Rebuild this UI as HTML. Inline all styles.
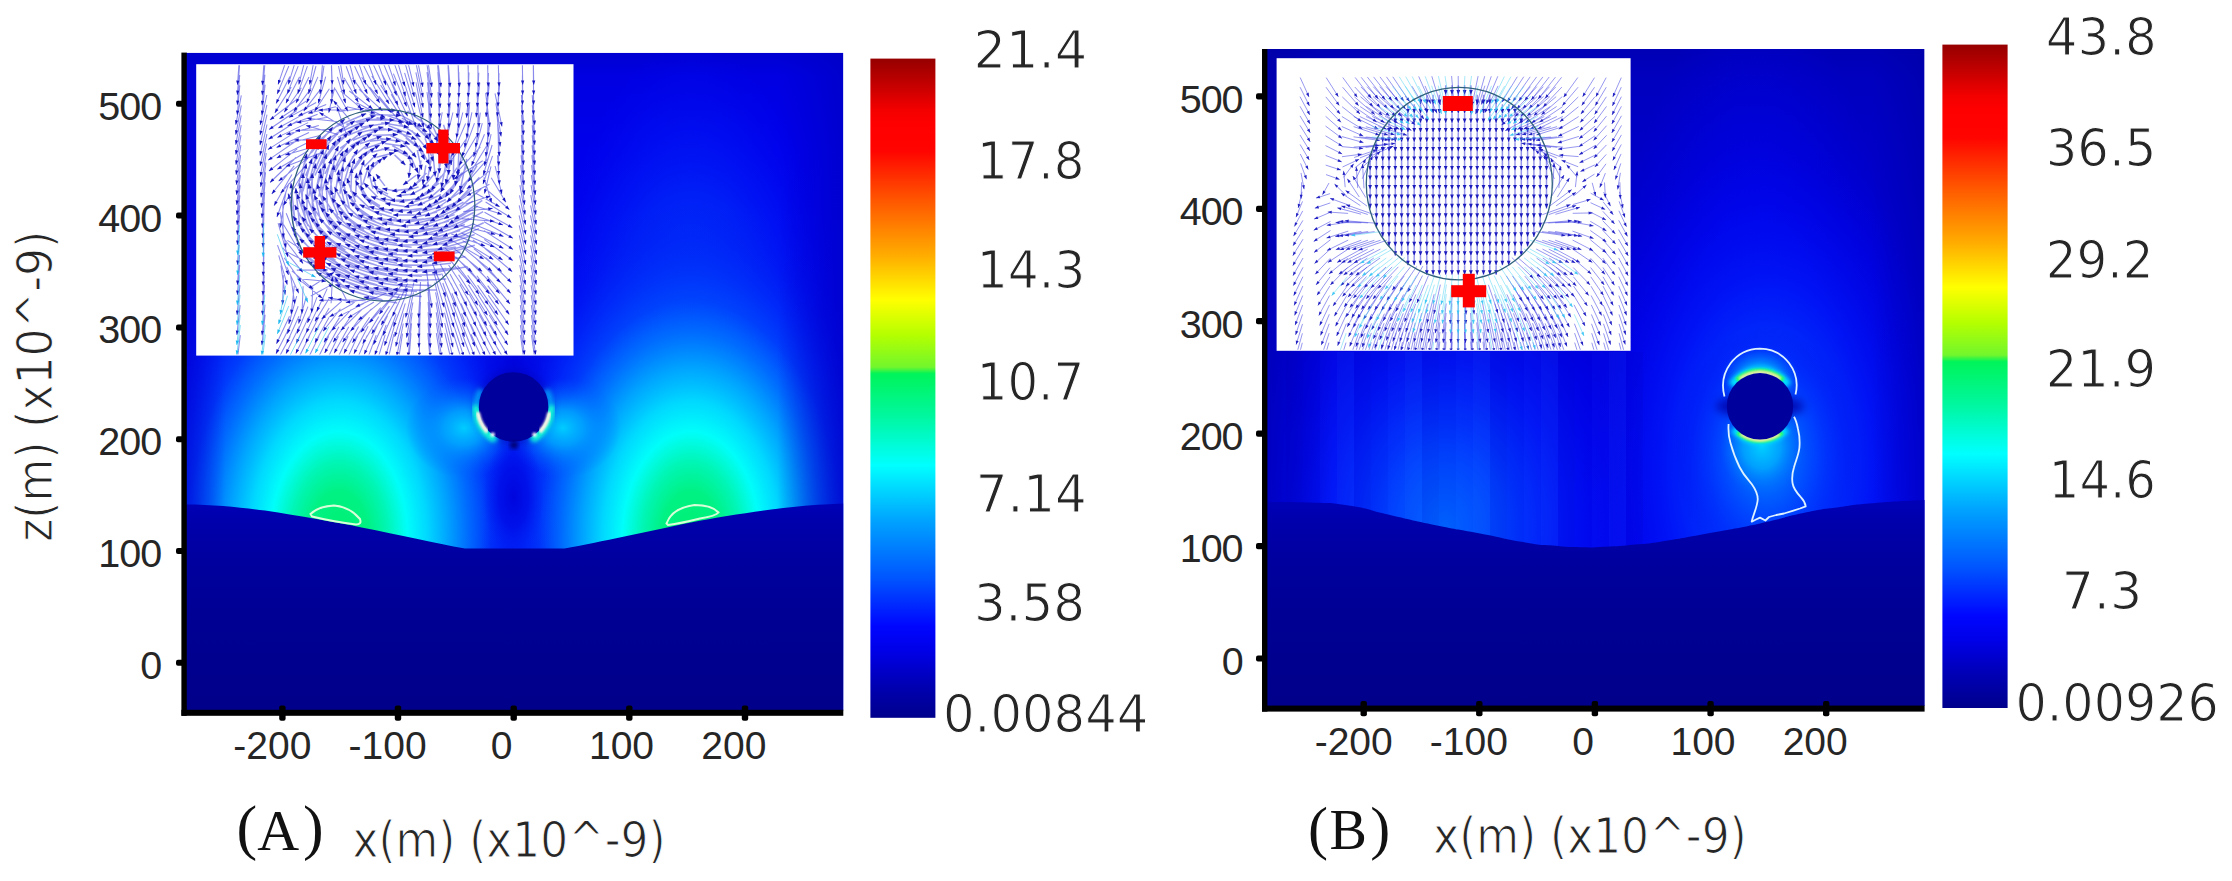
<!DOCTYPE html>
<html lang="en"><head><meta charset="utf-8"><title>Field maps (A) and (B)</title>
<style>
html,body{margin:0;padding:0;background:#ffffff;}
body{width:2232px;height:881px;overflow:hidden;}
svg{display:block;}
</style></head><body>
<svg width="2232" height="881" viewBox="0 0 2232 881"><defs><linearGradient id="jet" x1="0" y1="0" x2="0" y2="1"><stop offset="0.000" stop-color="#960000"/><stop offset="0.030" stop-color="#b80000"/><stop offset="0.078" stop-color="#f40000"/><stop offset="0.100" stop-color="#ff0000"/><stop offset="0.140" stop-color="#ff0400"/><stop offset="0.215" stop-color="#ff5600"/><stop offset="0.300" stop-color="#ffae00"/><stop offset="0.366" stop-color="#ffff00"/><stop offset="0.420" stop-color="#b4ff00"/><stop offset="0.468" stop-color="#72f62c"/><stop offset="0.478" stop-color="#00f45a"/><stop offset="0.540" stop-color="#00f79c"/><stop offset="0.617" stop-color="#00ffff"/><stop offset="0.700" stop-color="#00a4ff"/><stop offset="0.789" stop-color="#0054ff"/><stop offset="0.861" stop-color="#0006ff"/><stop offset="0.900" stop-color="#0000e6"/><stop offset="0.950" stop-color="#0000b4"/><stop offset="1.000" stop-color="#00008c"/></linearGradient><linearGradient id="sub" gradientUnits="userSpaceOnUse" x1="0" y1="500" x2="0" y2="712"><stop offset="0" stop-color="#0000b8"/><stop offset="0.10" stop-color="#0000ac"/><stop offset="0.30" stop-color="#00009e"/><stop offset="0.60" stop-color="#000092"/><stop offset="1" stop-color="#00008a"/></linearGradient><clipPath id="clipL"><rect x="186.0" y="52.8" width="657.3" height="657.7"/></clipPath><linearGradient id="baseL" x1="0" y1="0" x2="0" y2="1"><stop offset="0" stop-color="#0000d2"/><stop offset="0.035" stop-color="#0000e2"/><stop offset="0.15" stop-color="#0000ec"/><stop offset="0.55" stop-color="#0006f2"/><stop offset="0.70" stop-color="#0010f4"/><stop offset="1" stop-color="#0010f4"/></linearGradient><radialGradient id="tallp" cx="0.5" cy="0.5" r="0.5"><stop offset="0" stop-color="#0070ff" stop-opacity="1"/><stop offset="0.45" stop-color="#0050ff" stop-opacity="0.9"/><stop offset="0.70" stop-color="#0030fc" stop-opacity="0.6"/><stop offset="0.88" stop-color="#0018f6" stop-opacity="0.28"/><stop offset="1" stop-color="#0008f0" stop-opacity="0"/></radialGradient><linearGradient id="edgeL" x1="0" y1="0" x2="1" y2="0"><stop offset="0" stop-color="#0000c8" stop-opacity="0.5"/><stop offset="0.06" stop-color="#0000c8" stop-opacity="0"/><stop offset="0.90" stop-color="#0000c8" stop-opacity="0"/><stop offset="1" stop-color="#0000c4" stop-opacity="0.7"/></linearGradient><radialGradient id="plume" cx="0.5" cy="0.5" r="0.5"><stop offset="0" stop-color="#00c0ff" stop-opacity="1"/><stop offset="0.30" stop-color="#00a8ff" stop-opacity="1"/><stop offset="0.48" stop-color="#0084ff" stop-opacity="1"/><stop offset="0.62" stop-color="#0058ff" stop-opacity="0.9"/><stop offset="0.78" stop-color="#0030fa" stop-opacity="0.6"/><stop offset="0.90" stop-color="#0018f2" stop-opacity="0.25"/><stop offset="1" stop-color="#0010ec" stop-opacity="0"/></radialGradient><radialGradient id="lobe" cx="0.5" cy="0.5" r="0.5"><stop offset="0" stop-color="#00f070"/><stop offset="0.20" stop-color="#00f284"/><stop offset="0.32" stop-color="#00f6b4"/><stop offset="0.45" stop-color="#00fefa"/><stop offset="0.58" stop-color="#00dcff" stop-opacity="0.95"/><stop offset="0.72" stop-color="#00b4ff" stop-opacity="0.7"/><stop offset="0.86" stop-color="#0090ff" stop-opacity="0.33"/><stop offset="1" stop-color="#0080ff" stop-opacity="0"/></radialGradient><radialGradient id="sideh" cx="0.5" cy="0.5" r="0.5"><stop offset="0" stop-color="#00ccff" stop-opacity="1"/><stop offset="0.35" stop-color="#00a8ff" stop-opacity="0.85"/><stop offset="0.7" stop-color="#0080ff" stop-opacity="0.4"/><stop offset="1" stop-color="#0060ff" stop-opacity="0"/></radialGradient><radialGradient id="darkc" cx="0.5" cy="0.5" r="0.5"><stop offset="0" stop-color="#0004dc" stop-opacity="0.95"/><stop offset="0.5" stop-color="#000ce6" stop-opacity="0.75"/><stop offset="1" stop-color="#0020f0" stop-opacity="0"/></radialGradient><filter id="b2" x="-20%" y="-20%" width="140%" height="140%"><feGaussianBlur stdDeviation="2"/></filter><filter id="b1" x="-20%" y="-20%" width="140%" height="140%"><feGaussianBlur stdDeviation="1"/></filter><filter id="b06" x="-20%" y="-20%" width="140%" height="140%"><feGaussianBlur stdDeviation="0.6"/></filter><filter id="b4" x="-30%" y="-30%" width="160%" height="160%"><feGaussianBlur stdDeviation="4"/></filter><filter id="b8" x="-30%" y="-30%" width="160%" height="160%"><feGaussianBlur stdDeviation="8"/></filter><clipPath id="clipR"><rect x="1267.0" y="49.0" width="657.5" height="657.0"/></clipPath><linearGradient id="baseR" x1="0" y1="0" x2="0" y2="1"><stop offset="0" stop-color="#0000b6"/><stop offset="0.05" stop-color="#0000c0"/><stop offset="0.22" stop-color="#0000cc"/><stop offset="0.42" stop-color="#0000dc"/><stop offset="0.58" stop-color="#0000e8"/><stop offset="0.70" stop-color="#0000ee"/><stop offset="1" stop-color="#0000ee"/></linearGradient><radialGradient id="tallR" cx="0.5" cy="0.5" r="0.5"><stop offset="0" stop-color="#0008fa" stop-opacity="0.95"/><stop offset="0.5" stop-color="#0004f2" stop-opacity="0.7"/><stop offset="1" stop-color="#0000e6" stop-opacity="0"/></radialGradient><radialGradient id="plumeR" cx="0.5" cy="0.5" r="0.5"><stop offset="0" stop-color="#0064ff" stop-opacity="1"/><stop offset="0.25" stop-color="#0044ff" stop-opacity="0.95"/><stop offset="0.55" stop-color="#001cfa" stop-opacity="0.7"/><stop offset="0.80" stop-color="#0008ee" stop-opacity="0.35"/><stop offset="1" stop-color="#0000e0" stop-opacity="0"/></radialGradient><radialGradient id="haloR" cx="0.5" cy="0.5" r="0.5"><stop offset="0" stop-color="#0088ff" stop-opacity="0.95"/><stop offset="0.30" stop-color="#0068ff" stop-opacity="0.85"/><stop offset="0.55" stop-color="#0040ff" stop-opacity="0.62"/><stop offset="0.80" stop-color="#0018f8" stop-opacity="0.3"/><stop offset="1" stop-color="#0000e8" stop-opacity="0"/></radialGradient><linearGradient id="edgeR" x1="0" y1="0" x2="1" y2="0"><stop offset="0" stop-color="#0000a0" stop-opacity="0.55"/><stop offset="0.10" stop-color="#0000a0" stop-opacity="0"/><stop offset="0.92" stop-color="#0000a0" stop-opacity="0"/><stop offset="1" stop-color="#0000a0" stop-opacity="0.45"/></linearGradient><linearGradient id="strk" x1="0" y1="0" x2="0" y2="1"><stop offset="0" stop-color="#fff" stop-opacity="0"/><stop offset="0.55" stop-color="#fff" stop-opacity="1"/><stop offset="1" stop-color="#fff" stop-opacity="1"/></linearGradient><radialGradient id="glowR" cx="0.5" cy="0.5" r="0.5"><stop offset="0" stop-color="#00d0ff" stop-opacity="1"/><stop offset="0.45" stop-color="#00a8ff" stop-opacity="0.85"/><stop offset="0.8" stop-color="#0078ff" stop-opacity="0.35"/><stop offset="1" stop-color="#0060ff" stop-opacity="0"/></radialGradient></defs><g clip-path="url(#clipL)">
<rect x="186.0" y="52.8" width="657.3" height="657.7" fill="url(#baseL)"/>
<ellipse cx="339" cy="540" rx="175" ry="500" fill="url(#tallp)"/>
<ellipse cx="691" cy="540" rx="175" ry="500" fill="url(#tallp)"/>
<ellipse cx="339" cy="528" rx="212" ry="325" fill="url(#plume)"/>
<ellipse cx="691" cy="528" rx="212" ry="325" fill="url(#plume)"/>
<ellipse cx="339" cy="538" rx="152" ry="236" fill="url(#lobe)"/>
<ellipse cx="691" cy="538" rx="152" ry="236" fill="url(#lobe)"/>
<ellipse cx="464" cy="428" rx="58" ry="50" fill="url(#sideh)"/>
<ellipse cx="563" cy="428" rx="58" ry="50" fill="url(#sideh)"/>
<ellipse cx="513.5" cy="497" rx="30" ry="60" fill="url(#darkc)"/>
<ellipse cx="513.5" cy="362" rx="50" ry="48" fill="url(#darkc)"/>
<rect x="186.0" y="52.8" width="657.3" height="657.7" fill="url(#edgeL)"/>
<path d="M186,504.5 C215,504.5 245,508 265,510.5 C300,516 335,522 361.6,527.4 C400,535 435,543 465,548.6 L564.5,548.6 C600,542 650,531 691,522.5 C735,514 790,506 823.8,504.6 L843.5,503.5 L843.5,712 L186,712 Z" fill="url(#sub)"/>
<circle cx="513.6" cy="407" r="38" fill="#0000b0" opacity="0.5" filter="url(#b4)"/>
<path d="M480.9,389.6 A37,37 0 0 0 497.4,440.3" stroke="#00b8ff" stroke-width="6" fill="none" opacity="0.75" filter="url(#b2)"/>
<path d="M476.1,405.7 A37.5,37.5 0 0 0 494.9,439.5" stroke="#18ffd0" stroke-width="7" fill="none" opacity="0.95" filter="url(#b2)"/>
<path d="M546.3,389.6 A37,37 0 0 1 529.8,440.3" stroke="#00b8ff" stroke-width="6" fill="none" opacity="0.75" filter="url(#b2)"/>
<path d="M551.1,405.7 A37.5,37.5 0 0 1 532.4,439.5" stroke="#18ffd0" stroke-width="7" fill="none" opacity="0.95" filter="url(#b2)"/>
<circle cx="513.6" cy="407" r="34.0" fill="#00009c"/>
<circle cx="513.6" cy="407" r="34.0" fill="none" stroke="#00009c" stroke-width="1.6" filter="url(#b06)"/>
<path d="M478.1,413.9 A36.2,36.2 0 0 0 486.3,430.7" stroke="#fff0e4" stroke-width="4.2" fill="none" stroke-linecap="round" filter="url(#b1)"/>
<circle cx="492.7" cy="434.6" r="2.2" fill="#ffffff" filter="url(#b1)"/>
<path d="M549.1,413.9 A36.2,36.2 0 0 1 540.9,430.7" stroke="#fff0e4" stroke-width="4.2" fill="none" stroke-linecap="round" filter="url(#b1)"/>
<circle cx="534.5" cy="434.6" r="2.2" fill="#ffffff" filter="url(#b1)"/>
<circle cx="514" cy="445" r="4" fill="#000070" filter="url(#b2)"/>
<g filter="url(#b06)" fill="none" stroke="#d8ffd8" stroke-width="2">
<path d="M310.5,514 Q318,506.5 334,505.5 Q350,507 360,519 Q362,524.5 356,524.5 Q335,522 312,516.5 Z"/>
<path d="M666.5,523.5 Q672,508 694.5,505 Q712,505 718.5,512.5 Q716,516 700,518.5 Q680,523.5 668,525 Z"/>
</g>
</g>
<g clip-path="url(#clipR)">
<rect x="1267.0" y="49.0" width="657.5" height="657.0" fill="url(#baseR)"/>
<ellipse cx="1755" cy="430" rx="150" ry="440" fill="url(#tallR)"/>
<ellipse cx="1445" cy="528" rx="215" ry="300" fill="url(#plumeR)"/>
<ellipse cx="1768" cy="470" rx="190" ry="340" fill="url(#plumeR)"/>
<ellipse cx="1766" cy="452" rx="92" ry="125" fill="url(#haloR)"/>
<rect x="1267.0" y="49.0" width="657.5" height="657.0" fill="url(#edgeR)"/>
<rect x="1286" y="352" width="17" height="200" fill="#000090" opacity="0.068"/>
<rect x="1303" y="352" width="17" height="200" fill="#000090" opacity="0.022"/>
<rect x="1320" y="352" width="17" height="200" fill="#40a0ff" opacity="0.022"/>
<rect x="1337" y="352" width="17" height="200" fill="#40a0ff" opacity="0.068"/>
<rect x="1354" y="352" width="17" height="200" fill="#000090" opacity="0.068"/>
<rect x="1371" y="352" width="17" height="200" fill="#000090" opacity="0.022"/>
<rect x="1388" y="352" width="17" height="200" fill="#40a0ff" opacity="0.022"/>
<rect x="1405" y="352" width="17" height="200" fill="#40a0ff" opacity="0.068"/>
<rect x="1422" y="352" width="17" height="200" fill="#000090" opacity="0.068"/>
<rect x="1439" y="352" width="17" height="200" fill="#000090" opacity="0.022"/>
<rect x="1456" y="352" width="17" height="200" fill="#40a0ff" opacity="0.022"/>
<rect x="1473" y="352" width="17" height="200" fill="#40a0ff" opacity="0.068"/>
<rect x="1490" y="352" width="17" height="200" fill="#000090" opacity="0.068"/>
<rect x="1507" y="352" width="17" height="200" fill="#000090" opacity="0.022"/>
<rect x="1524" y="352" width="17" height="200" fill="#40a0ff" opacity="0.022"/>
<rect x="1541" y="352" width="17" height="200" fill="#40a0ff" opacity="0.068"/>
<rect x="1558" y="352" width="17" height="200" fill="#000090" opacity="0.068"/>
<rect x="1575" y="352" width="17" height="200" fill="#000090" opacity="0.022"/>
<rect x="1592" y="352" width="17" height="200" fill="#40a0ff" opacity="0.022"/>
<rect x="1609" y="352" width="17" height="200" fill="#40a0ff" opacity="0.068"/>
<rect x="1626" y="352" width="17" height="200" fill="#000090" opacity="0.068"/>
<path d="M1267.0,502.0 C1281.3,502.2 1282.8,501.4 1310.0,502.6 C1337.2,503.8 1321.2,501.2 1348.5,505.5 C1375.8,509.8 1362.5,508.8 1392.0,515.5 C1421.5,522.2 1407.7,519.5 1437.0,525.5 C1466.3,531.5 1450.5,527.8 1480.0,533.5 C1509.5,539.2 1501.4,538.5 1525.6,542.5 C1549.8,546.5 1534.5,544.0 1552.6,545.6 C1570.7,547.2 1560.9,546.9 1580.0,547.2 C1599.1,547.5 1591.7,547.5 1610.0,546.6 C1628.3,545.7 1617.8,546.3 1635.0,544.6 C1652.2,542.9 1636.6,545.4 1661.6,541.5 C1686.6,537.6 1677.2,539.0 1710.0,533.0 C1742.8,527.0 1728.2,530.3 1760.0,523.5 C1791.8,516.7 1778.7,518.1 1805.4,512.6 C1832.1,507.1 1818.8,510.0 1840.0,507.0 C1861.2,504.0 1849.0,505.5 1869.0,503.6 C1889.0,501.7 1881.3,502.5 1900.0,501.3 C1918.7,500.1 1916.7,500.4 1925.0,500.0 L1925,708 L1267,708 Z" fill="url(#sub)"/>
<ellipse cx="1760" cy="380" rx="40" ry="34" fill="url(#glowR)"/>
<ellipse cx="1762" cy="446" rx="42" ry="50" fill="url(#glowR)"/>
<ellipse cx="1760" cy="406.3" rx="44" ry="12" fill="#0000a8" opacity="0.8" filter="url(#b4)"/>
<g filter="url(#b2)">
<path d="M1733,386 A34,34 0 0 1 1787,386" stroke="#00e0ff" stroke-width="11" fill="none"/>
<path d="M1735,428 A34,34 0 0 0 1785,428" stroke="#00e0ff" stroke-width="11" fill="none"/>
</g>
<g filter="url(#b1)">
<path d="M1737,380.5 A34,34 0 0 1 1783,380.5" stroke="#30ff60" stroke-width="6" fill="none"/>
<path d="M1738,432 A34,34 0 0 0 1782,432" stroke="#30ff60" stroke-width="6" fill="none"/>
<path d="M1740,379 A33.6,33.6 0 0 1 1780,379" stroke="#ffe8b0" stroke-width="2.6" fill="none"/>
<path d="M1741,434 A33.6,33.6 0 0 0 1779,434" stroke="#ffe8b0" stroke-width="2.6" fill="none"/>
</g>
<circle cx="1760" cy="406.3" r="33.2" fill="#00009c"/>
<g filter="url(#b06)" fill="none" stroke="#dff2ff" stroke-width="1.8" stroke-linejoin="round">
<path d="M1724.5,396.5 C1718,372 1735,349 1760,348.6 C1785,349 1801,372 1795.5,394.5"/>
<path d="M1728.6,424 C1728,432 1729,438 1730.5,443 C1733,452 1736,460 1739.5,467 C1744,476 1748.5,480 1751.7,484 C1756,490 1758,495 1757.7,500 C1757,508 1753,515 1751.7,521.7 L1756,519.5 L1760,517.6 L1765.4,520.5 L1769,517 L1776.3,515 L1784,513.5 L1792.6,510.8 L1800,508.5 L1805.7,506.4 C1805,502 1803,499.5 1800.8,497.2 C1797,493 1793.5,489 1792.6,483.5 C1791.5,477 1792.5,472 1794,467.2 C1796,460 1798.5,455 1799.4,448 C1800,441 1799.5,435 1798,429 C1797,424 1796,420 1794,416.8"/>
</g>
</g>
<rect x="196.2" y="64.2" width="377.3" height="291.4" fill="#ffffff"/>
<rect x="1276.6" y="58.2" width="354.0" height="292.6" fill="#ffffff"/>
<clipPath id="cinL"><rect x="196.2" y="65.2" width="377.3" height="289.40000000000003"/></clipPath>
<g clip-path="url(#cinL)">
<path d="M294.5 216.9l-3.6 -33.8M299.3 221.9l-3.6 -33.8M297.2 226.4l-9 -32.8M298.1 186.4l8.9 -32.8M302.9 191.4l8.9 -32.8M298.6 196.6l7.7 -33.1M301.9 207l1.1 -34M306.7 212l1.1 -34M305.2 216.8l-5.3 -33.6M308 226.1l-11 -32.2M312.8 231.1l-11 -32.2M310.3 235.1l-15.6 -30.2M312.1 244.1l-19.1 -28.1M316.9 249.1l-19.1 -28.1M313.4 253l-21.9 -26M303.6 164.7l17.2 -29.3M305.6 175.6l13.3 -31.3M310.4 180.6l13.3 -31.3M307.8 186.4l9 -32.8M308.7 196.6l7.1 -33.3M313.5 201.6l7.1 -33.3M312.4 207l-0.3 -34M315.9 216.6l-7.3 -33.2M320.7 221.6l-7.3 -33.2M318.9 225.7l-13.2 -31.3M321.1 234.5l-17.8 -29M325.9 239.5l-17.8 -29M322.8 243.3l-21.2 -26.6M324.1 252.2l-23.7 -24.4M328.9 257.2l-23.7 -24.4M325 261.2l-25.5 -22.5M325.7 270.4l-26.9 -20.8M330.5 275.4l-26.9 -20.8M311.1 153l21.8 -26.1M312.9 164.3l18.3 -28.7M317.7 169.3l18.3 -28.7M315 175.5l14 -31M317.4 186.4l9.1 -32.8M322.2 191.4l9.1 -32.8M318.9 196.7l6.3 -33.4M323.1 207l-2.2 -33.9M327.9 212l-2.2 -33.9M326.9 216.3l-9.8 -32.6M329.9 225.1l-15.8 -30.1M334.7 230.1l-15.8 -30.1M332.1 233.7l-20.1 -27.4M333.6 242.4l-23.2 -24.8M338.4 247.4l-23.2 -24.8M334.7 251.3l-25.4 -22.6M335.5 260.3l-27 -20.7M340.3 265.3l-27 -20.7M336.1 269.5l-28.2 -19.1M336.5 278.8l-29 -17.7M341.3 283.8l-29 -17.7M318.7 140.9l26.2 -21.7M320.3 152.1l22.9 -24.3M325.1 157.1l22.9 -24.3M322.5 163.1l18.5 -26.1M324.9 174l13.6 -27.9M329.7 179l13.6 -27.9M327.6 184.8l8.4 -29.5M329.4 195.2l4.7 -30.5M334.2 200.2l4.7 -30.5M333.9 205.6l-4.2 -31.3M337.9 215.2l-12.3 -30.4M342.7 220.2l-12.3 -30.4M341.1 224.2l-18.6 -28.4M343.1 232.7l-22.6 -25.4M347.9 237.7l-22.6 -25.4M344.4 241.4l-25.3 -22.7M345.3 250.2l-27.1 -20.5M350.1 255.2l-27.1 -20.5M346 259.3l-28.4 -18.7M346.4 268.6l-29.3 -17.2M351.2 273.6l-29.3 -17.2M346.8 278l-30 -15.9M347 287.5l-30.6 -14.9M328.2 139.3l26.7 -18.6M333 144.3l26.7 -18.6M330.2 150.2l22.6 -20.5M332.4 161.2l18.1 -22.5M337.2 166.2l18.1 -22.5M334.9 172.2l13.1 -24.5M337.7 183.1l7.6 -26.2M342.5 188.1l7.6 -26.2M340 193.7l3 -27.4M344.7 203.8l-6.4 -27.7M349.5 208.8l-6.4 -27.7M348.6 213.1l-14.2 -26.2M351.6 222.2l-20.2 -24.4M356.4 227.2l-20.2 -24.4M354 231.4l-25.1 -22.8M355.2 240.1l-27.3 -20.3M360 245.1l-27.3 -20.3M355.9 249.1l-28.7 -18.2M356.4 258.3l-29.7 -16.5M361.2 263.3l-29.7 -16.5M356.7 267.6l-30.4 -15.2M357 277.1l-30.9 -14.1M361.8 282.1l-30.9 -14.1M357.2 286.6l-31.3 -13.2M336.3 126.5l30 -13M341.1 131.5l30 -13M338.1 137.3l26.3 -14.6M340.1 148.3l22.3 -16.5M344.9 153.3l22.3 -16.5M342.3 159.3l17.9 -18.7M344.8 170.5l12.8 -21M349.6 175.5l12.8 -21M347.8 181.5l6.9 -23M350.8 192.1l1 -24.2M355.6 197.1l1 -24.2M355.6 201.9l-8.7 -23.7M359.3 210.8l-16 -21.7M364.1 215.8l-16 -21.7M361.9 219.9l-21.3 -19.8M364 229.3l-25.6 -18.5M368.8 234.3l-25.6 -18.5M365.8 238.7l-29.2 -17.5M366.3 247.8l-30.2 -15.7M371.1 252.8l-30.2 -15.7M366.7 257.1l-30.9 -14.2M366.9 266.6l-31.4 -13.1M371.7 271.6l-31.4 -13.1M367.1 276.1l-31.7 -12.2M367.3 285.7l-32 -11.5M372.1 290.7l-32 -11.5M367.4 295.4l-32.2 -10.8M346.3 124.4l29.5 -8.8M348.1 135.2l25.9 -10.4M352.9 140.2l25.9 -10.4M350 146.1l22.1 -12.3M352.1 157.3l17.8 -14.6M356.9 162.3l17.8 -14.6M354.7 168.6l12.7 -17.2M357.8 179.8l6.3 -19.7M362.6 184.8l6.3 -19.7M361.7 190.5l-1.4 -20.9M366.6 199.6l-11.2 -19.3M371.4 204.6l-11.2 -19.3M369.8 208.4l-17.5 -16.9M372 217.6l-22 -15.3M376.8 222.6l-22 -15.3M373.9 227.2l-25.9 -14.4M375.7 236.9l-29.5 -13.9M380.5 241.9l-29.5 -13.9M376.7 246.5l-31.4 -13M376.9 255.9l-31.9 -11.9M381.7 260.9l-31.9 -11.9M377.1 265.5l-32.2 -11M377.2 275.1l-32.4 -10.3M382 280.1l-32.4 -10.3M377.3 284.9l-32.6 -9.7M377.4 294.6l-32.7 -9.2M382.2 299.6l-32.7 -9.2M356.3 122.3l28.9 -4.5M361.1 127.3l28.9 -4.5M358 132.9l25.5 -5.9M359.8 143.8l21.9 -7.6M364.6 148.8l21.9 -7.6M361.8 155l17.9 -9.9M364.3 166.5l13 -13M369.1 171.5l13 -13M367.8 178.2l5.8 -16.3M373 188.6l-4.5 -17.2M377.8 193.6l-4.5 -17.2M377.5 197l-13.5 -14.1M380 206l-18.5 -12M384.8 211l-18.5 -12M381.9 215.5l-22.4 -10.9M383.7 225.2l-26 -10.5M388.5 230.2l-26 -10.5M385.5 235.2l-29.4 -10.3M387 245.1l-32.4 -10.2M391.8 250.1l-32.4 -10.2M387.1 254.7l-32.7 -9.4M387.2 264.4l-32.8 -8.8M392 269.4l-32.8 -8.8M387.2 274.2l-33 -8.3M387.3 284l-33.1 -7.9M392.1 289l-33.1 -7.9M387.3 293.8l-33.1 -7.6M364.7 109.5l31.6 0.9M369.5 114.5l31.6 0.9M366.4 120l28.3 0M368 130.6l24.9 -1.1M372.8 135.6l24.9 -1.1M369.7 141.3l21.5 -2.5M371.5 152.2l18 -4.4M376.3 157.2l18 -4.4M373.6 163.8l13.8 -7.6M384.9 185.9l-8.9 -11.8M388.1 194.2l-15.2 -8.3M392.9 199.2l-15.2 -8.3M390 203.6l-19 -7.3M391.8 213.5l-22.6 -6.9M396.6 218.5l-22.6 -6.9M393.5 223.5l-26 -6.9M395.2 233.5l-29.4 -7.1M400 238.5l-29.4 -7.1M396.9 243.7l-32.8 -7.3M397.1 253.5l-33.3 -7M401.9 258.5l-33.3 -7M397.2 263.3l-33.3 -6.6M397.2 273.2l-33.4 -6.4M402 278.2l-33.4 -6.4M397.2 283.1l-33.4 -6.1M397.2 293l-33.5 -6M402 298l-33.5 -6M397.2 302.9l-33.5 -5.8M376.5 117.7l27.5 4.6M381.3 122.7l27.5 4.6M378.2 128.1l24.1 3.8M379.9 138.5l20.8 3.1M384.7 143.5l20.8 3.1M381.5 148.9l17.4 2.2M398.2 191.4l-15.9 -2.8M399.9 201.5l-19.4 -3.1M404.7 206.5l-19.4 -3.1M401.6 211.7l-22.8 -3.4M403.4 221.9l-26.2 -3.7M408.2 226.9l-26.2 -3.7M405.1 232.1l-29.6 -4.1M406.8 242.2l-33 -4.5M411.6 247.2l-33 -4.5M407.1 252.3l-33.7 -4.5M407.1 262.2l-33.7 -4.5M411.9 267.2l-33.7 -4.5M407.1 272.2l-33.7 -4.4M407.1 282.2l-33.7 -4.4M411.9 287.2l-33.7 -4.4M407.1 292.2l-33.7 -4.4M386.8 115.4l26.5 9.2M388.5 125.6l23 8.9M393.3 130.6l23 8.9M390.3 135.6l19.4 8.7M392.2 145.5l15.7 8.9M397 150.5l15.7 8.9M394.5 154.9l10.9 10.2M408.3 189.1l-16.6 1.9M413.1 194.1l-16.6 1.9M410 199.7l-20 0.7M411.7 210.1l-23.3 -0.1M416.5 215.1l-23.3 -0.1M413.3 220.4l-26.7 -0.8M415 230.7l-30 -1.3M419.8 235.7l-30 -1.3M416.7 240.9l-33.4 -1.8M417 251.1l-33.9 -2.1M421.8 256.1l-33.9 -2.1M417 261.2l-33.9 -2.4M417 271.3l-33.9 -2.5M421.8 276.3l-33.9 -2.5M416.9 281.3l-33.9 -2.7M416.9 291.4l-33.9 -2.8M421.7 296.4l-33.9 -2.8M397.1 113.1l25.3 13.8M401.9 118.1l25.3 13.8M398.9 123.1l21.6 13.8M400.9 133l17.7 14M405.7 138l17.7 14M403.2 142.6l13.1 14.7M406.2 152.1l7 15.9M411 157.1l7 15.9M410.7 162l-1.9 16M416.5 175l-13.4 9.9M421.3 180l-13.4 9.9M418.6 186.9l-17.6 6.1M420.2 197.9l-21 4.2M425 202.9l-21 4.2M421.8 208.5l-24.2 3M423.5 219l-27.5 2.1M428.3 224l-27.5 2.1M425.1 229.3l-30.8 1.4M426.7 239.6l-34 0.7M431.5 244.6l-34 0.7M426.7 249.9l-34 0.1M426.7 260.2l-34 -0.3M431.5 265.2l-34 -0.3M426.7 270.3l-34 -0.7M426.7 280.5l-34 -1M431.5 285.5l-34 -1M426.7 290.6l-34 -1.3M407.5 110.9l24 18.3M409.5 120.8l20 18.4M414.3 125.8l20 18.4M411.7 130.6l15.7 18.8M414.2 140.3l10.6 19.4M419 145.3l10.6 19.4M417.3 150.1l4.3 19.8M421 160.4l-3.1 19.2M425.8 165.4l-3.1 19.2M426.5 173l-14 14.1M428.9 185l-18.7 10.1M433.7 190l-18.7 10.1M430.6 196.2l-22.2 7.6M432.2 207l-25.4 6.1M437 212l-25.4 6.1M433.8 217.5l-28.5 4.9M435.4 228l-31.8 4M440.2 233l-31.8 4M436.4 238.4l-33.9 3.2M436.5 248.9l-33.9 2.3M441.3 253.9l-33.9 2.3M436.5 259.2l-34 1.6M436.5 269.5l-34 1.1M441.3 274.5l-34 1.1M436.5 279.7l-34 0.6M436.5 289.9l-34 0.2M420.1 118.6l18.4 22.8M422.4 128.5l13.8 23M427.2 133.5l13.8 23M425 138.3l8.5 23.3M428 148.4l2.5 23.3M432.8 153.4l2.5 23.3M431.3 158.8l-4.1 22.4M436.6 171.1l-14.7 17.7M441.4 176.1l-14.7 17.7M439.2 183.1l-19.8 13.9M441 194.5l-23.5 11.1M445.8 199.5l-23.5 11.1M442.6 205.4l-26.7 9.2M444.2 216.1l-29.8 7.8M449 221.1l-29.8 7.8M445.7 226.6l-33 6.7M446 237.3l-33.6 5.4M450.8 242.3l-33.6 5.4M446.1 247.8l-33.7 4.3M446.2 258.3l-33.8 3.5M451 263.3l-33.8 3.5M446.2 268.6l-33.9 2.8M446.2 278.9l-33.9 2.2M433 126.5l12 26.9M435.6 136.5l6.7 27M440.4 141.5l6.7 27M438.5 146.7l1 26.6M441.5 157.2l-5 25.6M446.3 162.2l-5 25.6M446.8 169.4l-15.6 21.2M449.5 181.3l-20.9 17.5M454.3 186.3l-20.9 17.5M451.4 192.7l-24.8 14.5M453.1 203.8l-28.1 12.4M457.9 208.8l-28.1 12.4M454.6 214.6l-31.2 10.7M455.4 225.5l-32.8 9M460.2 230.5l-32.8 9M455.6 236.3l-33.2 7.5M455.7 246.9l-33.4 6.2M460.5 251.9l-33.4 6.2M455.8 257.4l-33.6 5.2M455.9 267.8l-33.7 4.4M443.5 124.7l10.4 30.6M446.1 134.8l5.2 30.4M448.9 145.1l-0.3 29.9M453.7 150.1l-0.3 29.9M451.7 155.6l-5.9 28.9M457.1 167.7l-16.6 24.5M461.9 172.7l-16.6 24.5M459.8 179.5l-22 21M461.8 191l-26.1 18M466.6 196l-26.1 18M463.5 202.2l-29.6 15.6M464.4 213.4l-31.3 13.2M469.2 218.4l-31.3 13.2M464.8 224.5l-32.2 11M465.1 235.3l-32.7 9.3M469.9 240.3l-32.7 9.3M465.3 246l-33.1 8M465.4 256.6l-33.3 6.8M465.5 267.1l-33.5 5.9M459.2 143.4l-1.4 33.1M461.9 153.9l-6.7 32.1M466.7 158.9l-6.7 32.1M467.3 166.1l-17.7 27.8M470.1 177.8l-23.1 24.4M474.9 182.8l-23.1 24.4M471.9 189.6l-26.8 20.9M473 201.2l-29.1 17.7M477.8 206.2l-29.1 17.7M473.8 212.5l-30.5 15M474.2 223.6l-31.5 12.8M479 228.6l-31.5 12.8M474.6 234.5l-32.2 11M474.8 245.2l-32.6 9.6M477 165.5l-17.6 29.1M479.4 177.2l-22.4 25.6M481.1 188.9l-25.8 22.2M482.3 200.4l-28.1 19.2M483.1 211.7l-29.7 16.6M483.7 222.8l-30.8 14.4" fill="none" stroke="#4a4ae0" stroke-opacity="0.55" stroke-width="1.5"/><path d="M291 183.1L293.5 187.9L289.5 188.3zM295.8 188.1L298.3 192.9L294.3 193.3zM288.3 193.6L291.5 197.9L287.7 199zM306.9 153.6L307.6 158.9L303.7 157.9zM311.7 158.6L312.4 163.9L308.5 162.9zM306.4 163.4L307.2 168.8L303.3 167.9zM303.1 173L304.9 178.1L300.9 177.9zM307.9 178L309.7 183.1L305.7 182.9zM299.8 183.2L302.6 187.8L298.7 188.5zM297 193.9L300.5 198L296.7 199.3zM301.8 198.9L305.3 203L301.5 204.3zM294.7 204.9L298.8 208.4L295.2 210.2zM292.9 215.9L297.4 219L294.1 221.2zM297.7 220.9L302.2 224L298.9 226.2zM291.6 227L296.3 229.5L293.2 232.1zM320.9 135.3L320 140.7L316.6 138.6zM318.9 144.4L318.8 149.7L315.1 148.2zM323.7 149.4L323.6 154.7L319.9 153.2zM316.7 153.6L317.3 159L313.5 157.9zM315.8 163.4L316.7 168.7L312.8 167.8zM320.6 168.4L321.5 173.7L317.6 172.8zM312.1 173L314.1 178L310.1 178zM308.6 183.4L311.6 187.9L307.7 188.7zM313.4 188.4L316.4 192.9L312.5 193.7zM305.6 194.3L309.4 198.2L305.7 199.7zM303.4 205.5L307.7 208.7L304.3 210.8zM308.2 210.5L312.5 213.7L309.1 215.8zM301.7 216.7L306.3 219.4L303.2 221.9zM300.4 227.8L305.3 230L302.5 232.8zM305.2 232.8L310.1 235L307.3 237.8zM299.5 238.8L304.6 240.6L301.9 243.6zM298.8 249.6L304 251.1L301.5 254.2zM303.6 254.6L308.8 256.1L306.3 259.2zM332.9 127L331.2 132.1L328.2 129.5zM331.1 135.7L330.1 141L326.8 138.8zM335.9 140.7L334.9 146L331.6 143.8zM329 144.5L328.8 149.9L325.1 148.2zM326.6 153.6L327.1 159L323.3 157.9zM331.4 158.6L331.9 164L328.1 162.9zM325.1 163.3L326.2 168.6L322.2 167.8zM320.9 173L323.2 177.9L319.2 178.2zM325.7 178L328 182.9L324 183.2zM317.1 183.7L320.5 187.9L316.6 189.1zM314.1 194.9L318.2 198.4L314.7 200.3zM318.9 199.9L323 203.4L319.5 205.3zM311.9 206.3L316.5 209.1L313.3 211.5zM310.4 217.6L315.3 219.9L312.3 222.6zM315.2 222.6L320.1 224.9L317.1 227.6zM309.3 228.7L314.4 230.5L311.7 233.5zM308.5 239.7L313.7 241.1L311.3 244.3zM313.3 244.7L318.5 246.1L316.1 249.3zM307.9 250.5L313.2 251.6L310.9 254.9zM307.5 261.2L312.8 262L310.7 265.5zM312.3 266.2L317.6 267L315.5 270.5zM344.8 119.1L342.3 123.9L339.7 120.8zM343.2 127.9L341.2 132.9L338.3 130.1zM348 132.9L346 137.9L343.1 135.1zM341 136.9L339.7 142.2L336.5 139.9zM338.6 146L338.2 151.4L334.6 149.7zM343.4 151L343 156.4L339.4 154.7zM335.9 155.2L336.5 160.6L332.6 159.5zM334.1 164.8L335.3 170L331.4 169.4zM338.9 169.8L340.1 175L336.2 174.4zM329.6 174.4L332.3 179.1L328.3 179.6zM325.6 184.8L329.3 188.7L325.6 190.2zM330.4 189.8L334.1 193.7L330.4 195.2zM322.4 195.8L326.8 198.9L323.5 201.1zM320.4 207.3L325.3 209.7L322.3 212.4zM325.2 212.3L330.1 214.7L327.1 217.4zM319.1 218.6L324.2 220.5L321.5 223.5zM318.2 229.8L323.4 231.2L321 234.4zM323 234.8L328.2 236.2L325.8 239.4zM317.5 240.7L322.8 241.7L320.6 245.1zM317.1 251.4L322.4 252.2L320.4 255.7zM321.9 256.4L327.2 257.2L325.2 260.7zM316.7 262L322.1 262.6L320.2 266.1zM316.5 272.5L321.8 272.9L320.1 276.5zM354.8 120.7L351.9 125.2L349.6 121.9zM359.6 125.7L356.7 130.2L354.4 126.9zM352.8 129.8L350.4 134.6L347.7 131.6zM350.6 138.8L349 143.9L345.9 141.4zM355.4 143.8L353.8 148.9L350.7 146.4zM348.1 147.8L347.5 153.1L343.9 151.2zM345.3 156.9L345.8 162.2L342 161.1zM350.1 161.9L350.6 167.2L346.8 166.1zM343 166.3L344.4 171.5L340.5 171.1zM338.3 176.2L341.4 180.6L337.5 181.5zM343.1 181.2L346.2 185.6L342.3 186.5zM334.4 186.9L338.5 190.3L335 192.3zM331.4 197.8L336.1 200.4L333 202.9zM336.2 202.8L340.9 205.4L337.8 207.9zM329 208.6L334 210.5L331.3 213.4zM327.8 219.9L333.1 221.2L330.7 224.5zM332.6 224.9L337.9 226.2L335.5 229.5zM327.1 230.9L332.4 231.9L330.3 235.3zM326.6 241.7L332 242.4L330 245.9zM331.4 246.7L336.8 247.4L334.8 250.9zM326.3 252.4L331.7 252.8L329.9 256.4zM326 262.9L331.4 263.2L329.8 266.8zM330.8 267.9L336.2 268.2L334.6 271.8zM325.8 273.4L331.2 273.5L329.7 277.2zM366.2 113.5L362.4 117.3L360.8 113.7zM371 118.5L367.2 122.3L365.6 118.7zM364.4 122.7L361 126.9L359 123.4zM362.4 131.7L359.6 136.3L357.2 133.1zM367.2 136.7L364.4 141.3L362 138.1zM360.2 140.7L358.2 145.7L355.3 142.9zM357.7 149.5L356.8 154.8L353.3 152.7zM362.5 154.5L361.6 159.8L358.1 157.7zM354.7 158.5L355.2 163.9L351.4 162.7zM351.7 167.9L353.5 173L349.5 172.8zM356.5 172.9L358.3 178L354.3 177.8zM346.9 178.1L350.5 182.1L346.7 183.5zM343.2 189.2L347.8 192L344.6 194.4zM348 194.2L352.6 197L349.4 199.4zM340.6 200.1L345.6 202L342.9 205zM338.5 210.7L343.7 212.1L341.3 215.3zM343.3 215.7L348.5 217.1L346.1 220.3zM336.7 221.3L342 222.1L339.9 225.5zM336.2 232.2L341.5 232.7L339.7 236.2zM341 237.2L346.3 237.7L344.5 241.2zM335.8 242.9L341.2 243.2L339.5 246.8zM335.6 253.4L341 253.5L339.4 257.2zM340.4 258.4L345.8 258.5L344.2 262.2zM335.4 263.9L340.8 263.8L339.3 267.6zM335.2 274.3L340.6 274.1L339.3 277.8zM340 279.3L345.4 279.1L344.1 282.8zM335.1 284.6L340.5 284.3L339.2 288.1zM375.7 115.6L371.5 118.9L370.4 115.1zM373.9 124.8L370.1 128.5L368.6 124.8zM378.7 129.8L374.9 133.5L373.4 129.8zM372 133.9L368.6 138L366.7 134.5zM369.9 142.7L367.3 147.4L364.8 144.3zM374.7 147.7L372.1 152.4L369.6 149.3zM367.3 151.4L366 156.6L362.8 154.2zM364.2 160.2L364.5 165.5L360.7 164.3zM369 165.2L369.3 170.5L365.5 169.3zM360.3 169.5L362.6 174.4L358.6 174.7zM355.4 180.4L359.6 183.7L356.2 185.7zM360.2 185.4L364.4 188.7L361 190.7zM352.2 191.6L357.2 193.6L354.5 196.5zM350 202.4L355.2 203.6L353 206.8zM354.8 207.4L360 208.6L357.8 211.8zM348.1 212.8L353.4 213.5L351.5 217zM346.3 223.1L351.6 223.4L349.9 227zM351.1 228.1L356.4 228.4L354.7 232zM345.3 233.5L350.7 233.6L349.1 237.3zM345.1 244.1L350.5 243.9L349.1 247.7zM349.9 249.1L355.3 248.9L353.9 252.7zM344.9 254.5L350.3 254.2L349 258zM344.8 264.9L350.2 264.5L349 268.3zM349.6 269.9L355 269.5L353.8 273.3zM344.7 275.1L350.1 274.7L348.9 278.5zM344.6 285.4L350 284.8L348.9 288.7zM349.4 290.4L354.8 289.8L353.7 293.7zM385.2 117.7L380.6 120.5L380 116.5zM390 122.7L385.4 125.5L384.8 121.5zM383.5 127.1L379.1 130.1L378.2 126.2zM381.7 136.2L377.6 139.7L376.3 135.9zM386.5 141.2L382.4 144.7L381.1 140.9zM379.7 145L376.3 149.2L374.4 145.7zM377.2 153.5L375.1 158.4L372.3 155.6zM382 158.5L379.9 163.4L377.1 160.6zM373.7 161.8L373.9 167.2L370.1 165.9zM368.5 171.4L371.7 175.7L367.8 176.7zM373.3 176.4L376.5 180.7L372.6 181.7zM364 183L368.9 185.2L366 187.9zM361.5 194L366.8 195L364.6 198.4zM366.3 199L371.6 200L369.4 203.4zM359.6 204.5L364.9 204.9L363.2 208.5zM357.8 214.8L363.2 214.8L361.7 218.5zM362.6 219.8L368 219.8L366.5 223.5zM356 224.8L361.4 224.6L360.1 228.4zM354.5 234.9L359.9 234.5L358.7 238.3zM359.3 239.9L364.7 239.5L363.5 243.3zM354.4 245.3L359.8 244.8L358.7 248.6zM354.3 255.6L359.7 255L358.6 258.8zM359.1 260.6L364.5 260L363.4 263.8zM354.3 265.8L359.6 265.1L358.6 269zM354.2 276L359.5 275.3L358.6 279.1zM359 281L364.3 280.3L363.4 284.1zM354.2 286.2L359.5 285.4L358.6 289.3zM396.3 110.5L391.2 112.3L391.4 108.3zM401.1 115.5L396 117.3L396.2 113.3zM394.6 120L389.6 122L389.6 118zM393 129.4L388 131.7L387.9 127.7zM397.8 134.4L392.8 136.7L392.7 132.7zM391.3 138.7L386.5 141.3L386.1 137.3zM389.5 147.8L385.1 150.9L384.2 147zM394.3 152.8L389.9 155.9L389 152zM387.4 156.2L384 160.4L382 156.9zM376.1 174.1L380.7 176.9L377.5 179.3zM372.9 185.8L378.3 186.5L376.3 190zM377.7 190.8L383.1 191.5L381.1 195zM371 196.4L376.4 196.3L374.9 200zM369.2 206.5L374.6 206.1L373.4 209.9zM374 211.5L379.4 211.1L378.2 214.9zM367.5 216.5L372.8 215.9L371.8 219.8zM365.8 226.5L371.1 225.7L370.2 229.6zM370.6 231.5L375.9 230.7L375 234.6zM364.1 236.3L369.4 235.5L368.5 239.4zM363.9 246.5L369.2 245.6L368.3 249.5zM368.7 251.5L374 250.6L373.1 254.5zM363.8 256.7L369.1 255.7L368.3 259.6zM363.8 266.8L369.1 265.8L368.3 269.7zM368.6 271.8L373.9 270.8L373.1 274.7zM363.8 276.9L369.1 275.9L368.3 279.8zM363.8 287L369 285.9L368.3 289.9zM368.6 292L373.8 290.9L373.1 294.9zM363.8 297.1L369 296L368.3 299.9zM404 122.3L398.7 123.4L399.4 119.5zM408.8 127.3L403.5 128.4L404.2 124.5zM402.3 131.9L397.1 133.1L397.7 129.2zM400.6 141.5L395.4 142.8L396 138.8zM405.4 146.5L400.2 147.8L400.8 143.8zM399 151.1L393.8 152.5L394.3 148.5zM382.3 188.6L387.5 187.5L386.8 191.4zM380.6 198.5L385.8 197.3L385.2 201.2zM385.4 203.5L390.6 202.3L390 206.2zM378.9 208.3L384.1 207.1L383.5 211zM377.1 218.1L382.4 216.9L381.8 220.8zM381.9 223.1L387.2 221.9L386.6 225.8zM375.4 227.9L380.7 226.7L380.1 230.6zM373.7 237.8L379 236.4L378.4 240.4zM378.5 242.8L383.8 241.4L383.2 245.4zM373.4 247.7L378.6 246.4L378.1 250.4zM373.4 257.8L378.6 256.4L378.1 260.4zM378.2 262.8L383.4 261.4L382.9 265.4zM373.4 267.8L378.6 266.5L378.1 270.4zM373.4 277.8L378.6 276.5L378.1 280.4zM378.2 282.8L383.4 281.5L382.9 285.4zM373.4 287.8L378.6 286.5L378.1 290.4zM413.2 124.6L407.9 124.9L409.2 121.1zM411.5 134.4L406.1 134.5L407.6 130.8zM416.3 139.4L410.9 139.5L412.4 135.8zM409.7 144.4L404.3 144.1L406 140.5zM407.8 154.5L402.5 153.7L404.5 150.3zM412.6 159.5L407.3 158.7L409.3 155.3zM405.5 165.1L400.4 163.1L403.2 160.2zM391.7 190.9L396.4 188.4L396.9 192.4zM396.5 195.9L401.2 193.4L401.7 197.4zM390 200.3L394.9 198.2L395.1 202.2zM388.3 209.9L393.4 208L393.3 212zM393.1 214.9L398.2 213L398.1 217zM386.7 219.6L391.7 217.8L391.6 221.8zM385 229.3L390.1 227.6L389.9 231.6zM389.8 234.3L394.9 232.6L394.7 236.6zM383.3 239.1L388.4 237.4L388.2 241.4zM383 248.9L388.1 247.2L387.9 251.2zM387.8 253.9L392.9 252.2L392.7 256.2zM383 258.8L388.2 257.2L387.9 261.2zM383 268.7L388.2 267.1L387.9 271.1zM387.8 273.7L393 272.1L392.7 276.1zM383.1 278.7L388.2 277.1L387.9 281zM383.1 288.6L388.2 287L387.9 291zM387.9 293.6L393 292L392.7 296zM422.4 126.9L417.1 126.3L419 122.8zM427.2 131.9L421.9 131.3L423.8 127.8zM420.6 136.9L415.3 135.9L417.4 132.5zM418.6 147L413.4 145.5L415.9 142.3zM423.4 152L418.2 150.5L420.7 147.3zM416.3 157.4L411.5 154.9L414.5 152.3zM413.3 167.9L409.4 164.2L413.1 162.6zM418.1 172.9L414.2 169.2L417.9 167.6zM408.8 178L407.4 172.8L411.4 173.3zM403 185L405.9 180.4L408.3 183.6zM407.8 190L410.7 185.4L413.1 188.6zM400.9 193.1L405 189.5L406.3 193.3zM399.3 202.1L403.8 199.2L404.6 203.1zM404.1 207.1L408.6 204.2L409.4 208.1zM397.7 211.5L402.4 208.9L402.9 212.9zM396 221L400.9 218.7L401.2 222.7zM400.8 226L405.7 223.7L406 227.7zM394.4 230.7L399.3 228.5L399.5 232.5zM392.8 240.4L397.7 238.3L397.8 242.3zM397.6 245.4L402.5 243.3L402.6 247.3zM392.8 250.1L397.7 248L397.8 252zM392.8 259.8L397.8 257.9L397.7 261.9zM397.6 264.8L402.6 262.9L402.5 266.9zM392.8 269.7L397.8 267.8L397.7 271.8zM392.8 279.5L397.8 277.6L397.7 281.6zM397.6 284.5L402.6 282.6L402.5 286.6zM392.8 289.4L397.8 287.6L397.7 291.6zM431.5 129.1L426.3 127.7L428.7 124.5zM429.5 139.2L424.5 137.3L427.2 134.4zM434.3 144.2L429.3 142.3L432 139.4zM427.3 149.4L422.6 146.8L425.7 144.3zM424.8 159.7L420.6 156.3L424.2 154.3zM429.6 164.7L425.4 161.3L429 159.3zM421.7 169.9L418.6 165.5L422.6 164.6zM418 179.6L416.8 174.3L420.7 175zM422.8 184.6L421.6 179.3L425.5 180zM412.5 187L414.6 182.1L417.5 184.9zM410.1 195L413.6 190.9L415.5 194.4zM414.9 200L418.4 195.9L420.3 199.4zM408.4 203.8L412.5 200.3L413.8 204.1zM406.8 213L411.2 209.9L412.1 213.8zM411.6 218L416 214.9L416.9 218.8zM405.2 222.5L409.8 219.6L410.5 223.6zM403.6 232L408.3 229.4L408.8 233.4zM408.4 237L413.1 234.4L413.6 238.4zM402.6 241.6L407.4 239.1L407.7 243.1zM402.5 251.1L407.4 248.8L407.7 252.8zM407.3 256.1L412.2 253.8L412.5 257.8zM402.5 260.8L407.4 258.6L407.6 262.6zM402.5 270.5L407.4 268.4L407.6 272.4zM407.3 275.5L412.2 273.4L412.4 277.4zM402.5 280.3L407.5 278.2L407.5 282.2zM402.5 290.1L407.5 288.1L407.5 292.1zM438.4 141.4L433.7 138.7L436.9 136.2zM436.1 151.5L431.8 148.3L435.3 146.2zM440.9 156.5L436.6 153.3L440.1 151.2zM433.5 161.7L429.9 157.7L433.7 156.3zM430.5 171.6L428 166.9L431.9 166.5zM435.3 176.6L432.8 171.9L436.7 171.5zM427.2 181.2L426.1 175.9L430.1 176.7zM421.9 188.9L423.5 183.7L426.6 186.3zM426.7 193.9L428.3 188.7L431.4 191.3zM419.3 196.9L422.3 192.4L424.6 195.7zM417.5 205.5L421.2 201.6L422.9 205.2zM422.3 210.5L426 206.6L427.7 210.2zM415.9 214.6L420 211.1L421.3 214.9zM414.3 223.9L418.7 220.7L419.7 224.6zM419.1 228.9L423.5 225.7L424.5 229.6zM412.8 233.4L417.3 230.4L418.1 234.3zM412.5 242.7L417.1 239.9L417.7 243.9zM417.3 247.7L421.9 244.9L422.5 248.9zM412.4 252.2L417.1 249.5L417.6 253.5zM412.3 261.7L417.1 259.2L417.5 263.2zM417.1 266.7L421.9 264.2L422.3 268.2zM412.3 271.4L417.1 269L417.5 273zM412.3 281.1L417.1 278.8L417.4 282.8zM445 153.5L441.1 149.7L444.8 148.1zM442.4 163.5L439.2 159.1L443.1 158.1zM447.2 168.5L444 164.1L447.9 163.1zM439.5 173.3L437.3 168.4L441.3 168.2zM436.5 182.8L435.5 177.5L439.4 178.3zM441.3 187.8L440.3 182.5L444.2 183.3zM431.2 190.6L432.5 185.4L435.8 187.8zM428.5 198.7L431.1 194L433.7 197.1zM433.3 203.7L435.9 199L438.5 202.1zM426.6 207.3L429.9 203L431.9 206.5zM424.9 216.2L428.7 212.3L430.3 216zM429.7 221.2L433.5 217.3L435.1 221zM423.4 225.4L427.5 221.9L428.8 225.6zM422.6 234.5L426.9 231.3L428 235.1zM427.4 239.5L431.7 236.3L432.8 240.1zM422.4 243.7L426.9 240.7L427.7 244.6zM422.3 253.1L426.8 250.2L427.6 254.2zM427.1 258.1L431.6 255.2L432.4 259.2zM422.2 262.6L426.8 259.9L427.4 263.8zM422.1 272.2L426.8 269.6L427.4 273.5zM454 155.3L450.5 151.2L454.2 149.9zM451.4 165.2L448.5 160.6L452.5 159.9zM448.6 174.9L446.7 169.9L450.7 170zM453.4 179.9L451.5 174.9L455.5 175zM445.8 184.4L444.8 179.1L448.8 179.9zM440.4 192.3L441.6 187L444.9 189.3zM445.2 197.3L446.4 192L449.7 194.3zM437.7 200.5L440 195.6L442.7 198.5zM435.7 209L438.7 204.5L440.9 207.8zM440.5 214L443.5 209.5L445.7 212.8zM434 217.8L437.5 213.7L439.3 217.2zM433.1 226.6L436.9 222.8L438.5 226.5zM437.9 231.6L441.7 227.8L443.3 231.5zM432.7 235.5L436.8 232L438 235.8zM432.4 244.7L436.7 241.4L437.8 245.2zM437.2 249.7L441.5 246.4L442.6 250.2zM432.2 254L436.6 250.9L437.6 254.8zM432.1 263.4L436.6 260.4L437.4 264.4zM432 272.9L436.6 270.1L437.3 274zM457.8 176.6L456 171.5L460 171.7zM455.1 186.1L454.2 180.8L458.1 181.6zM459.9 191.1L459 185.8L462.9 186.6zM449.7 193.9L450.7 188.6L454 190.8zM446.9 202.2L448.9 197.2L451.8 199.9zM451.7 207.2L453.7 202.2L456.6 204.9zM445.1 210.4L447.8 205.8L450.3 208.9zM444 218.8L447.2 214.5L449.3 217.9zM448.8 223.8L452 219.5L454.1 222.9zM443.2 227.5L446.8 223.5L448.6 227.1zM442.8 236.4L446.6 232.7L448.1 236.4zM447.6 241.4L451.4 237.7L452.9 241.4zM442.4 245.5L446.5 242L447.8 245.8zM442.2 254.8L446.4 251.5L447.5 255.3zM459.5 194.5L460.3 189.2L463.8 191.3zM457.1 202.8L458.8 197.7L461.9 200.3zM455.4 211.1L457.9 206.3L460.5 209.3zM454.2 219.6L457.2 215.1L459.5 218.4zM453.4 228.3L456.8 224.1L458.7 227.6zM452.8 237.2L456.5 233.3L458.2 236.9z" fill="#1818bc" fill-opacity="1.0"/>
<path d="M239.6 55l-2.1 29.9M239.6 65l-2.3 29.9M239.7 75l-2.4 29.9M239.8 85.1l-2.5 29.9M241.3 95.3l-5.5 29.5M241.3 105.3l-5.5 29.5M241.2 115.3l-5.5 29.5M241.2 125.2l-5.3 29.5M241 135.2l-5.1 29.6M240.9 145.2l-4.8 29.6M240.7 155.2l-4.4 29.7M240.5 165.1l-4 29.7M240.3 175.1l-3.6 29.8M240.1 185.1l-3.2 29.8M239.9 195.1l-2.8 29.9M239.8 205.1l-2.5 29.9M239.6 215l-2.3 29.9M239.5 235l-2.1 29.9M239.6 255l-2.2 29.9M239.7 265l-2.3 29.9M239.9 285.1l-2.8 29.9M240.1 305.1l-3.2 29.8M240.3 335.1l-3.6 29.8M264.6 54.7l-2.3 30.6M264.8 64.8l-2.5 30.5M264.9 74.8l-2.9 30.4M265.1 84.8l-3.2 30.4M266.8 95l-6.6 30M266.9 104.9l-6.9 30.2M267 114.7l-7 30.5M267 124.5l-7 31.1M266.9 134.1l-6.7 31.8M266.6 143.6l-6.3 32.8M266.3 153.1l-5.7 33.8M266 162.6l-4.9 34.8M265.6 172.2l-4.1 35.6M265.1 182.1l-3.2 35.9M264.7 192l-2.4 35.9M264.3 202.1l-1.7 35.7M264 212.5l-1.1 35M263.8 233.4l-0.5 33.2M263.8 243.8l-0.6 32.4M263.9 254.2l-0.8 31.6M264.1 264.4l-1.2 31.1M264.3 274.6l-1.7 30.8M264.6 284.7l-2.1 30.5M265 304.8l-2.9 30.4M265.1 314.8l-3.2 30.4M287.9 55.6l-9.8 28.8M288.8 66l-11.6 28.1M289.9 76.5l-13.8 27M291.2 87.1l-16.3 25.7M296 100l-26.1 19.9M296.8 110.5l-27.7 19M297.5 120.7l-29 18.6M298 130.4l-30.1 19.2M297.9 139.8l-29.7 20.3M297.2 148.9l-28.3 22.2M296 157.5l-25.9 25M294.2 165.9l-22.5 28.1M291.9 174.4l-17.8 31.3M289.1 183.1l-12.1 33.9M285.9 192.2l-5.8 35.5M282.8 202l0.4 36M280.1 212.2l5.9 35.5M278.1 223.1l9.8 33.7M277.5 245.1l11 29.8M278.7 255.3l8.5 29.3M280.9 265.3l4.3 29.4M283.4 275.3l-0.8 29.4M289.5 316.2l-13 27.6M290 326.3l-14 27.5M290.3 336.2l-14.7 27.5M297.2 55.6l-8.9 28.8M298.2 66.1l-11 27.8M299.6 76.8l-13.7 26.4M301.3 87.8l-17.1 24.5M306.1 101.1l-26.7 17.7M307.2 112.1l-28.9 15.9M308.2 122.6l-30.9 14.8M309 132.5l-32.5 15M308.9 142l-32.2 16.1M308.2 150.7l-30.9 18.5M306.9 158.9l-28.3 22.2M304.9 166.7l-24.3 26.5M302 174.6l-18.5 30.9M289.9 202.2l5.8 35.5M286.2 213.2l13.1 33.5M283.5 224.6l18.5 30.9M282.4 236.5l20.7 27.1M282.6 247.7l20.2 24.7M284.1 257.7l17.4 24.5M286.8 266.9l11.9 26.3M290.7 276l4.1 28.1M294.3 285.8l-3.1 28.3M296.7 296.1l-7.9 27.9M298.2 306.3l-10.9 27.5M299 316.3l-12.6 27.3M299.5 326.3l-13.5 27.3M306.2 55.6l-7.4 28.8M307.4 66.1l-9.7 27.8M309 77l-13 26.1M311.2 88.4l-17.5 23.2M316.2 102.5l-27.4 14.9M317.6 114.3l-30.1 11.5M318.8 125.4l-32.6 9.2M320 135.6l-34.9 8.7M319.8 145.1l-34.6 9.8M319.3 153.5l-33.6 13M287.4 240.4l30.3 19.3M288 252.4l29.1 15.1M291.9 270.8l21.2 18.4M303.1 286.3l-1.1 27.4M306.4 296.5l-7.8 27.1M308 306.6l-11 26.8M308.8 316.6l-12.6 26.9M309.2 326.4l-13.4 27.1M309.4 336.3l-13.7 27.4M314.9 55.5l-5.3 29M316 66l-7.5 28M317.9 76.9l-11.3 26.1M320.8 88.9l-17.1 22.2M326.2 104.4l-27.8 11.3M327.7 117.3l-30.8 5.3M329 129.4l-33.5 1.2M330.2 140.1l-36 -0.2M296.8 270.1l31 -0.2M298.4 278.7l27.7 2.5M302.2 281.8l20.1 16.4M312.8 286.9l-1.2 26.2M317 297.1l-9.6 25.7M318.3 307.1l-12.2 25.8M318.8 316.9l-13.1 26.2M319 336.3l-13.5 27.4M323.2 55.4l-2.4 29.2M324 65.8l-4 28.3M325.7 76.6l-7.4 26.8M329.4 88.7l-14.9 22.5M335.9 106.7l-27.7 6.6M337 121.6l-30 -3.3M337.9 134.6l-31.9 -9.2M309.9 287.8l24.1 -15.6M310.8 296l22.3 -12.1M327.2 288.6l-10.5 22.9M329.1 298.5l-14.1 22.9M329.2 307.9l-14.4 24.3M329.1 317.2l-14.2 25.5M328.7 336.3l-13.4 27.3M331.2 55.4l1 29.2M331.4 65.8l0.8 28.4M332 76.3l-0.4 27.4M334.7 87.3l-6 25.3M345.1 109.9l-26.7 0.2M344.2 127.4l-24.8 -14.9M331.1 303.3l1.4 -26.5M344.4 299.8l-25.4 0.4M341.8 301.1l-20.2 17.9M340.4 308.8l-17.3 22.4M339.5 317.6l-15.5 24.8M338.9 326.8l-14.3 26.3M338.4 336.3l-13.3 27.4M339.2 55.4l4.6 29.1M338.5 66l6 28.1M337.4 76.8l8.2 26.4M335.1 88.7l12.9 22.7M349.5 119.4l-16.1 -18.7M346.1 133.3l-9.3 -26.5M347.9 302.7l-12.8 -25.3M354.7 302.4l-26.5 -4.8M353.5 303.2l-24.1 13.7M351.3 309.5l-19.6 20.9M349.8 317.8l-16.7 24.4M348.8 326.8l-14.7 26.4M348.1 336.2l-13.2 27.7M347.5 55.5l7.6 29M346.1 66.3l10.2 27.5M344.1 77.7l14.3 24.6M340.7 91.2l21.2 17.6M338.2 111.4l26.1 -2.8M365.6 300.7l-28.7 -1.4M364.1 303.4l-25.7 13.2M361.7 309.6l-21 20.8M359.9 317.7l-17.3 24.6M358.6 326.6l-14.7 26.8M357.6 335.9l-12.8 28.2M356.2 55.5l9.7 29.1M354.6 66.3l12.8 27.4M352.4 77.8l17.3 24.3M349.3 91l23.3 18.1M346.8 106.7l28.4 6.6M376.2 297.4l-30.4 5.2M374 302l-26 15.9M371.5 308.9l-21.1 22.2M369.6 317.2l-17.1 25.6M368.1 326.2l-14.2 27.6M367 335.6l-12 28.9M365.4 55.2l10.8 29.5M363.8 65.9l13.9 28.1M361.7 77.2l18.1 25.7M359.1 89.3l23.4 21.3M356.4 102.7l28.7 14.5M385.9 293.3l-30.2 13.5M383.2 299.8l-24.8 20.4M380.7 307.7l-20 24.7M378.8 316.4l-16.1 27.3M377.3 325.6l-13.1 28.8M376.2 335.1l-10.9 29.8M375 54.8l11 30.4M373.6 65.3l13.8 29.4M371.8 76l17.4 28M369.5 87.2l21.9 25.6M391.6 297.3l-22.3 25.5M389.4 306.1l-17.8 27.8M387.6 315.4l-14.2 29.3M386.2 324.9l-11.5 30.2M385.2 334.6l-9.3 30.8M385 54.3l10.5 31.4M383.8 64.5l12.8 31M382.4 74.7l15.7 30.5M380.6 85l19.2 29.9M378.8 96.1l22.8 27.8M401.2 285.7l-21.9 28.6M399.4 294.9l-18.3 30.3M397.6 304.6l-14.6 30.9M396.1 314.3l-11.6 31.3M394.9 324.2l-9.2 31.6M393.9 334.1l-7.3 31.8M395.2 53.8l9.5 32.4M394.4 63.7l11.2 32.6M393.4 73.6l13.2 32.9M392.4 83.7l15.2 32.6M391.2 94.3l17.6 31.4M407.5 283.6l-15 32.7M406.5 293.2l-13.1 33.5M405.3 303.3l-10.7 33.5M404.2 313.4l-8.5 33.1M403.3 323.5l-6.6 32.9M402.5 333.6l-5 32.7M405.7 53.4l8.2 33.3M405.1 63.1l9.2 33.8M404.6 72.8l10.3 34.5M404.3 82.8l10.9 34.3M403.5 93.1l12.5 33.8M413.9 282.5l-8.2 35M413.5 292.4l-7.5 35.2M412.9 302.3l-6.4 35.3M412.2 312.8l-4.9 34.5M411.6 323.1l-3.6 33.9M411 333.3l-2.5 33.4M416.1 53l6.7 34M415.9 62.6l7.1 34.8M415.9 72.4l7.3 35.3M416 82.3l6.9 35.3M415.4 92.5l8.1 35.1M420.5 282l-1.9 35.9M420.6 292l-2.2 35.9M420.5 302l-1.9 35.9M420.1 312.4l-1.3 35.2M419.8 322.8l-0.5 34.4M419.4 333.1l0.2 33.9M426.6 52.8l5.2 34.4M426.7 62.4l5.1 35.3M427 72.1l4.6 35.7M427.5 82.1l3.5 35.8M427 92.1l4.6 35.7M428.5 102l1.5 36M426.6 272.2l5.3 35.6M427.5 282.1l3.5 35.8M428 292l2.6 35.9M428.1 302l2.2 35.9M428.1 312.3l2.3 35.5M428 322.7l2.5 34.6M427.8 333l2.9 34M437 52.7l3.9 34.6M437.3 62.3l3.3 35.4M437.9 72l2.3 35.9M438.7 82l0.7 36M438 92l2 35.9M439.8 102l-1.6 36M442.2 112.3l-6.3 35.4M432.3 263.3l13.4 33.4M433.9 272.8l10.3 34.5M434.9 282.5l8.1 35.1M435.6 292.3l6.8 35.4M436 302.3l6 35.5M436.2 312.4l5.6 35.2M436.3 322.8l5.4 34.5M436.3 333.1l5.5 33.9M447.4 52.7l2.8 34.6M447.8 62.3l1.9 35.3M448.5 72l0.5 36M449.5 82l-1.4 36M448.5 92l0.6 36M450.4 102.1l-3.3 35.8M452.9 112.5l-8.2 35M440.2 264.2l17.2 31.6M441.7 273.4l14.1 33.1M442.8 283l11.9 34M443.6 292.8l10.3 34.5M444.1 302.6l9.3 34.8M444.5 312.7l8.6 34.7M444.7 323l8.1 34.1M444.8 333.2l7.9 33.6M457.5 52.8l2 34.5M458.1 62.5l0.8 35.1M458.9 72.2l-0.7 35.7M459.9 82.1l-2.8 35.9M458.4 92l0.2 36M460.4 102.1l-3.7 35.8M462.8 112.5l-8.5 35M465.6 123.5l-14.2 33.1M468.8 135.2l-20.5 29.6M445 248.1l27.1 23.7M446.9 256.3l23.3 27.5M448.6 265l19.9 30M450 274.1l17.1 31.7M451.1 283.6l14.9 32.8M451.9 293.3l13.2 33.5M452.5 303l12.1 33.9M452.9 313.1l11.2 33.8M453.2 323.3l10.6 33.4M453.4 333.5l10.2 33M467.5 52.9l1.4 34.3M468.2 62.7l0.2 34.7M469 72.4l-1.4 35.1M470 82.3l-3.5 35.5M467.8 92l0.8 36M469.7 102.1l-2.8 35.9M471.9 112.4l-7.3 35.3M474.5 123.1l-12.5 33.8M477.4 134.5l-18.3 31M480.4 146.9l-24.3 26.3M482.7 160.8l-28.9 18.4M451.3 234l33.9 12M452.7 240.9l31.1 18.2M454.3 248.6l27.8 22.8M455.9 256.9l24.6 26.3M457.4 265.6l21.7 28.7M458.6 274.8l19.2 30.4M459.7 284.2l17.2 31.6M460.4 293.8l15.6 32.4M461 303.5l14.4 33M461.5 313.5l13.5 32.9M461.9 323.7l12.7 32.7M462.1 333.8l12.2 32.4M477.4 53l1.1 34M478 62.8l-0.1 34.3M478.8 72.7l-1.7 34.6M479.8 82.6l-3.6 34.8M476.9 92.5l2.3 35M478.4 102.4l-0.8 35.1M480.3 112.6l-4.5 34.7M482.3 123.2l-8.7 33.6M484.5 134.3l-13 31.4M486.6 146l-17.1 28M488.2 158.3l-20.5 23.3M489.2 171.2l-22.5 17.7M489.4 184.3l-22.8 11.4M465.6 204l24.8 -7.9M463.3 211.6l29.5 -3.3M461.6 218.8l32.9 2.4M460.8 225.6l34.5 8.7M461.5 232.9l33 14.3M462.7 240.6l30.6 18.9M464 248.7l28 22.6M465.3 257.2l25.4 25.5M466.5 266.1l22.9 27.8M467.6 275.3l20.8 29.4M468.5 284.7l19 30.6M469.2 294.3l17.6 31.4M469.8 304l16.4 32M470.3 314l15.4 31.9M470.7 324.1l14.6 31.8M471 334.2l14.1 31.7M487.2 53.1l1.1 33.7M487.8 63l0 33.9M488.5 73l-1.5 34.1M489.4 82.9l-3.3 34.1M485.6 92.9l4.3 34.1M486.8 102.9l1.9 34.2M488.2 113.1l-0.9 33.9M489.7 123.4l-3.8 33.1M491.1 134.1l-6.6 31.8M492.1 145l-8.8 30M492.5 155.9l-9.5 28.2M491 166.4l-6.5 27.2M483.9 177.3l7.7 25.4M475.8 193.3l23.9 13.4M473.6 205.6l28.3 8.7M472.5 215.1l30.5 9.8M472 223.5l31.5 12.9M472 231.6l31.4 16.7M472.8 240l29.9 20.1M473.8 248.6l27.8 22.9M474.9 257.4l25.7 25.2M475.9 266.5l23.7 27.1M476.8 275.7l21.9 28.6M477.6 285.2l20.4 29.7M478.2 294.8l19.1 30.5M478.8 304.6l18 30.9M479.2 314.5l17 31M479.6 324.5l16.3 31M479.9 334.5l15.7 30.9M497.8 53.3l1.4 33.4M498.4 63.2l0.3 33.6M499 73.2l-1 33.6M499.7 83.2l-2.5 33.6M495 93.4l7 33.1M495.9 103.4l5.2 33.1M496.8 113.5l3.4 33M497.6 123.7l1.8 32.5M498.2 134.1l0.5 31.8M498.4 144.6l0.3 30.8M497.5 155.2l1.9 29.7M495.1 166l6.7 28M491.2 177.8l14.7 24.4M487.6 190.4l21.8 19.2M485.6 202l25.9 16M484.5 212.3l27.9 15.4M484 221.7l28.9 16.7M484 230.6l29 18.8M484.3 239.4l28.5 21.1M484.8 248.3l27.4 23.3M485.6 257.5l25.8 25.1M486.4 266.7l24.3 26.6M487.1 276.1l22.9 27.8M487.7 285.6l21.6 28.8M488.3 295.3l20.4 29.4M488.8 305.1l19.4 29.8M489.2 315l18.6 30M489.6 325l17.9 30.1M489.8 334.9l17.4 30.1M522.3 55l0.4 30M522.4 65l0.3 30M522.4 75l0.1 30M522.5 85l-0.1 30M521.4 95l2.3 29.9M521.4 105l2.2 29.9M521.5 115l2.1 29.9M521.5 125l2.1 29.9M521.4 135l2.2 29.9M521.3 145l2.4 29.9M521.1 155.1l2.9 29.9M520.7 165.1l3.5 29.8M520.3 175.2l4.4 29.7M519.9 185.2l5.2 29.5M519.5 195.3l6 29.4M519.2 205.4l6.5 29.3M519.1 215.4l6.7 29.2M519.2 225.4l6.7 29.2M519.3 235.3l6.4 29.3M519.4 245.3l6.1 29.4M519.6 255.3l5.8 29.4M519.8 265.2l5.4 29.5M519.9 275.2l5.1 29.6M520.1 285.2l4.8 29.6M520.2 295.2l4.6 29.6M520.3 305.2l4.4 29.7M520.4 315.2l4.3 29.7M520.4 325.1l4.1 29.7M520.5 335.1l4 29.7M533.3 55l0.4 30M533.3 65l0.3 30M533.4 75l0.2 30M533.5 85l0.1 30M532.2 95.1l2.5 29.9M532.3 105.1l2.5 29.9M532.3 115.1l2.5 29.9M532.2 125.1l2.5 29.9M532.2 135.1l2.7 29.9M532.1 145.1l2.9 29.9M531.9 155.1l3.2 29.8M531.6 165.1l3.7 29.8M531.4 175.2l4.3 29.7M531.1 185.2l4.9 29.6M530.8 195.2l5.4 29.5M530.6 205.3l5.8 29.4M530.5 215.3l6 29.4M530.5 225.3l6 29.4M530.6 235.3l5.9 29.4M530.6 245.3l5.7 29.5M530.8 255.3l5.5 29.5M530.9 265.2l5.2 29.5M531 275.2l5 29.6M531.1 285.2l4.8 29.6M531.2 295.2l4.6 29.6M531.3 305.2l4.4 29.7M531.4 315.2l4.3 29.7M531.4 325.1l4.2 29.7M531.5 335.1l4.1 29.7" fill="none" stroke="#3c3ce0" stroke-opacity="0.6" stroke-width="1.05"/><path d="M237.4 85L236.2 80.5L239.4 80.7zM237.4 95L236.1 90.5L239.3 90.7zM237.3 105L236.1 100.4L239.2 100.7zM237.2 114.9L236 110.4L239.2 110.7zM235.7 124.7L235 120.1L238.1 120.7zM235.7 134.7L235 130.1L238.1 130.7zM235.8 144.7L235 140.1L238.1 140.7zM235.8 154.8L235 150.1L238.2 150.7zM236 164.8L235.1 160.2L238.3 160.7zM236.1 174.8L235.2 170.2L238.4 170.7zM236.3 184.8L235.4 180.2L238.5 180.7zM236.5 194.9L235.5 190.3L238.7 190.7zM236.7 204.9L235.6 200.3L238.8 200.7zM236.9 214.9L235.8 210.4L239 210.7zM237.1 224.9L235.9 220.4L239.1 220.7zM237.2 234.9L236 230.4L239.2 230.7zM237.4 245L236.1 240.4L239.3 240.7zM237.5 265L236.2 260.5L239.4 260.7zM237.4 285L236.1 280.5L239.3 280.7zM237.3 295L236.1 290.4L239.3 290.7zM237.1 314.9L235.9 310.4L239.1 310.7zM236.9 334.9L235.8 330.4L239 330.7zM236.7 364.9L235.6 360.3L238.8 360.7zM262.4 85.3L261.1 80.8L264.3 81zM262.2 95.2L261 90.7L264.2 91zM262.1 105.2L260.9 100.7L264.1 101zM261.9 115.2L260.8 110.6L263.9 111zM260.2 125L259.6 120.4L262.7 121.1zM260.1 135.1L259.5 130.4L262.6 131.2zM260 145.3L259.4 140.6L262.5 141.3zM260 155.5L259.4 150.9L262.5 151.6zM260.1 165.9L259.5 161.3L262.6 161.9zM260.4 176.4L259.6 171.8L262.8 172.4zM260.7 186.9L259.8 182.3L263 182.8zM261 197.4L260.1 192.8L263.2 193.3zM261.4 207.8L260.4 203.3L263.5 203.6zM261.9 217.9L260.7 213.4L263.9 213.7zM262.3 228L261 223.5L264.2 223.7zM262.7 237.9L261.3 233.4L264.5 233.6zM263 247.5L261.5 243.1L264.7 243.2zM263.2 266.6L261.7 262.2L264.9 262.2zM263.2 276.2L261.7 271.7L264.9 271.8zM263.1 285.8L261.6 281.4L264.8 281.5zM262.9 295.6L261.5 291.1L264.7 291.2zM262.7 305.4L261.3 300.9L264.5 301.1zM262.4 315.3L261.1 310.8L264.3 311zM262 335.2L260.9 330.7L264 331zM261.9 345.2L260.8 340.7L263.9 341zM278.1 84.4L278 79.7L281 80.8zM277.2 94L277.4 89.4L280.4 90.6zM276.1 103.5L276.7 98.9L279.5 100.3zM274.8 112.9L275.8 108.3L278.5 110zM270 120L272.5 116L274.4 118.6zM269.2 129.5L271.9 125.7L273.7 128.3zM268.5 139.3L271.3 135.6L273.1 138.3zM268 149.6L270.8 145.9L272.5 148.6zM268.1 160.2L270.9 156.4L272.7 159zM268.8 171.1L271.3 167.1L273.3 169.7zM270 182.5L272.1 178.3L274.3 180.6zM271.8 194.1L273.3 189.6L275.8 191.6zM274.1 205.6L274.9 201L277.7 202.6zM276.9 216.9L276.9 212.3L279.9 213.3zM280.1 227.8L279.2 223.2L282.4 223.7zM283.2 238L281.6 233.6L284.8 233.6zM285.9 247.8L283.6 243.7L286.8 243.2zM287.9 256.9L285.1 253.1L288.2 252.2zM288.5 274.9L285.5 271.3L288.5 270.2zM287.3 284.7L284.5 280.9L287.6 280zM285.1 294.7L282.9 290.6L286.1 290.1zM282.6 304.7L281.1 300.2L284.3 300.3zM276.5 343.8L276.9 339.1L279.8 340.5zM276 353.7L276.6 349.1L279.4 350.6zM275.7 363.8L276.3 359.1L279.1 360.6zM288.3 84.4L288.1 79.7L291.1 80.7zM287.3 93.9L287.4 89.2L290.4 90.4zM285.9 103.2L286.5 98.6L289.3 100.1zM284.2 112.2L285.4 107.7L288 109.5zM279.4 118.9L282.2 115.1L283.9 117.8zM278.3 127.9L281.4 124.4L282.9 127.2zM277.3 137.4L280.6 134L282 136.9zM276.5 147.5L279.8 144.2L281.2 147.1zM276.6 158L279.9 154.6L281.3 157.5zM277.3 169.3L280.3 165.6L281.9 168.4zM278.6 181.1L281.1 177.1L283 179.6zM280.6 193.3L282.4 188.9L284.7 191.1zM283.5 205.4L284.4 200.8L287.1 202.5zM295.6 237.8L293.4 233.7L296.5 233.2zM299.3 246.8L296.2 243.3L299.2 242.1zM302 255.4L298.4 252.5L301.1 250.8zM303.1 263.5L299.2 261L301.7 259.1zM302.9 272.3L298.8 269.9L301.3 267.9zM301.4 282.3L297.6 279.6L300.2 277.7zM298.7 293.1L295.4 289.8L298.3 288.5zM294.8 304L292.6 299.9L295.8 299.4zM291.2 314.2L290.1 309.6L293.3 310zM288.8 323.9L288.4 319.3L291.5 320.1zM287.3 333.7L287.5 329L290.4 330.2zM286.5 343.7L286.9 339L289.8 340.3zM286 353.7L286.5 349L289.4 350.4zM298.8 84.4L298.3 79.8L301.4 80.5zM297.6 93.9L297.6 89.2L300.6 90.3zM296 103L296.5 98.4L299.4 99.8zM293.8 111.6L295.1 107.1L297.7 109zM288.8 117.5L291.9 113.9L293.4 116.8zM287.4 125.7L291 122.7L292.1 125.7zM286.2 134.6L290 131.9L290.9 134.9zM285 144.4L288.9 141.7L289.7 144.8zM285.2 154.9L289 152.2L289.9 155.3zM285.7 166.5L289.2 163.4L290.4 166.4zM317.6 259.6L313.1 258.6L314.8 255.9zM317 267.6L312.4 266.9L313.9 264.1zM313.1 289.2L308.7 287.5L310.8 285.1zM301.9 313.7L300.5 309.2L303.7 309.4zM298.6 323.5L298.3 318.9L301.3 319.8zM297 333.4L297.2 328.7L300.1 329.9zM296.2 343.4L296.6 338.8L299.5 340.1zM295.8 353.6L296.3 348.9L299.2 350.3zM295.6 363.7L296.2 359.1L299 360.5zM309.6 84.5L308.8 79.9L312 80.4zM308.5 94L308.1 89.3L311.2 90.1zM306.6 103.1L306.9 98.4L309.8 99.6zM303.7 111.1L305.1 106.6L307.6 108.6zM298.3 115.6L301.8 112.5L303 115.5zM296.8 122.7L300.9 120.3L301.4 123.5zM295.5 130.6L299.8 128.9L300 132.1zM294.3 139.9L298.7 138.3L298.6 141.5zM327.7 269.9L323.4 271.5L323.3 268.3zM326.1 281.3L321.6 282.5L321.9 279.3zM322.3 298.2L317.9 296.7L319.9 294.2zM311.7 313.1L310.3 308.6L313.5 308.8zM307.5 322.9L307.5 318.2L310.5 319.3zM306.2 332.9L306.6 328.2L309.5 329.6zM305.7 343.1L306.2 338.5L309.1 339.9zM305.5 363.7L306 359L308.9 360.4zM320.8 84.6L319.6 80.1L322.7 80.3zM320 94.2L319 89.6L322.2 90zM318.3 103.4L317.9 98.7L321 99.6zM314.6 111.3L315.7 106.7L318.3 108.5zM308.1 113.3L312 110.7L312.8 113.8zM307 118.4L311.6 117.3L311.2 120.4zM306.1 125.4L310.7 125.1L309.8 128.2zM334.1 272.2L331.2 276L329.5 273.3zM333.2 284L330.1 287.5L328.5 284.6zM316.8 311.4L317.1 306.8L320 308.1zM314.9 321.5L315.9 316.9L318.6 318.5zM314.8 332.1L315.7 327.5L318.4 329.2zM314.9 342.8L315.6 338.1L318.4 339.7zM315.3 363.7L315.8 359L318.7 360.4zM332.3 84.6L330.5 80.3L333.7 80.2zM332.1 94.2L330.4 89.9L333.6 89.8zM331.5 103.7L330 99.3L333.2 99.3zM328.8 112.7L328.2 108L331.3 108.7zM318.4 110.1L322.8 108.5L322.8 111.7zM319.3 112.6L323.9 113.5L322.3 116.2zM332.4 276.7L333.8 281.2L330.6 281.1zM319.1 300.2L323.4 298.5L323.5 301.7zM321.7 318.9L323.9 314.8L326 317.2zM323.1 331.2L324.5 326.7L327.1 328.7zM324 342.4L325 337.8L327.7 339.5zM324.6 353.2L325.3 348.5L328.1 350.1zM325.1 363.7L325.6 359.1L328.4 360.5zM343.8 84.6L341.5 80.5L344.7 80zM344.5 94L342 90.1L345.1 89.4zM345.6 103.2L342.8 99.5L345.8 98.5zM347.9 111.3L344.4 108.3L347.2 106.7zM333.5 100.6L337.5 102.9L335.1 105zM336.9 106.7L339.8 110.4L336.8 111.4zM335.1 277.3L338.5 280.5L335.7 282zM328.3 297.6L332.9 296.8L332.3 300zM329.5 316.8L332.5 313.3L334.1 316.1zM331.7 330.5L333.5 326.2L335.9 328.4zM333.2 342.2L334.3 337.7L337 339.5zM334.2 353.2L334.9 348.6L337.7 350.1zM334.9 363.8L335.4 359.2L338.2 360.6zM355 84.5L352.4 80.6L355.5 79.8zM356.4 93.7L353.3 90.2L356.3 89.1zM358.4 102.3L354.8 99.3L357.6 97.7zM361.8 108.8L357.4 107.2L359.5 104.7zM364.3 108.6L360.1 110.7L359.8 107.5zM336.9 299.3L341.4 297.9L341.2 301.1zM338.4 316.6L341.6 313.2L343 316zM340.8 330.4L342.8 326.2L345 328.4zM342.6 342.3L343.8 337.8L346.4 339.6zM343.9 353.4L344.6 348.8L347.4 350.3zM344.9 364.1L345.2 359.4L348.1 360.7zM365.8 84.5L362.9 80.9L366 79.9zM367.4 93.7L364.1 90.4L367 89zM369.6 102.2L365.8 99.5L368.4 97.7zM372.7 109L368.2 107.6L370.2 105.1zM375.2 113.3L370.5 113.9L371.3 110.7zM345.8 302.6L349.9 300.3L350.4 303.4zM348 318L350.9 314.3L352.6 317zM350.5 331.1L352.3 326.8L354.7 329zM352.4 342.8L353.5 338.3L356.2 340zM353.9 353.8L354.5 349.2L357.3 350.6zM355 364.4L355.2 359.8L358.1 361zM376.1 84.8L373.1 81.2L376.1 80.1zM377.7 94.1L374.3 90.8L377.2 89.4zM379.8 102.8L375.9 100.2L378.6 98.3zM382.4 110.7L378.1 108.9L380.3 106.5zM385.1 117.3L380.5 116.7L381.9 113.9zM355.6 306.7L359 303.5L360.3 306.4zM358.3 320.2L360.7 316.2L362.7 318.6zM360.8 332.3L362.3 327.9L364.8 329.9zM362.7 343.6L363.6 339L366.3 340.7zM364.2 354.4L364.6 349.7L367.5 351.1zM365.3 364.9L365.3 360.2L368.3 361.3zM386 85.2L383 81.6L386 80.5zM387.4 94.7L384.1 91.4L387 90.1zM389.2 104L385.5 101.1L388.2 99.4zM391.5 112.8L387.4 110.5L389.8 108.4zM369.4 322.7L371.1 318.4L373.5 320.5zM371.6 333.9L372.6 329.3L375.3 331.1zM373.4 344.6L373.9 340L376.7 341.4zM374.8 355.1L374.8 350.4L377.8 351.6zM375.8 365.4L375.6 360.7L378.6 361.7zM395.5 85.7L392.6 82L395.6 81zM396.7 95.5L393.5 92.1L396.5 90.8zM398.1 105.3L394.7 102.1L397.5 100.6zM399.9 115L396.1 112.1L398.8 110.4zM401.7 123.9L397.6 121.5L400.1 119.5zM379.3 314.3L380.7 309.8L383.2 311.8zM381.1 325.1L382 320.5L384.7 322.2zM382.9 335.4L383.4 330.8L386.3 332.1zM384.4 345.7L384.5 341L387.5 342.1zM385.6 355.8L385.3 351.2L388.4 352zM386.6 365.9L386 361.3L389.1 362zM404.8 86.2L402 82.4L405.1 81.5zM405.6 96.3L402.7 92.6L405.7 91.6zM406.6 106.4L403.5 103L406.5 101.8zM407.6 116.3L404.3 113L407.2 111.7zM408.8 125.7L405.2 122.7L408 121.1zM392.5 316.4L392.9 311.7L395.8 313zM393.5 326.8L393.6 322.1L396.6 323.3zM394.7 336.7L394.5 332.1L397.5 333zM395.8 346.6L395.3 341.9L398.4 342.7zM396.7 356.5L396 351.8L399.1 352.4zM397.5 366.4L396.6 361.8L399.7 362.3zM413.8 86.6L411.2 82.8L414.3 82zM414.4 96.9L411.7 93.1L414.8 92.3zM414.9 107.2L412.1 103.5L415.2 102.6zM415.2 117.2L412.3 113.4L415.4 112.5zM416 126.9L413 123.3L416 122.2zM405.6 317.5L405.1 312.9L408.2 313.6zM406 327.6L405.4 323L408.5 323.6zM406.6 337.7L405.8 333.1L408.9 333.6zM407.3 347.2L406.3 342.6L409.5 343.1zM407.9 356.9L406.8 352.4L410 352.7zM408.5 366.7L407.2 362.2L410.4 362.4zM422.9 87L420.4 83L423.6 82.4zM423.1 97.4L420.6 93.4L423.7 92.7zM423.1 107.6L420.7 103.6L423.8 103zM423 117.7L420.5 113.7L423.7 113zM423.6 127.5L421 123.6L424.1 122.9zM418.5 318L417.2 313.5L420.4 313.7zM418.4 328L417.1 323.5L420.3 323.7zM418.5 338L417.2 333.5L420.4 333.7zM418.9 347.6L417.4 343.2L420.6 343.3zM419.2 357.2L417.7 352.8L420.9 352.8zM419.6 366.9L418 362.5L421.2 362.5zM431.9 87.2L429.6 83.1L432.8 82.6zM431.8 97.6L429.6 93.5L432.8 93zM431.5 107.9L429.4 103.7L432.6 103.3zM431 117.9L429 113.7L432.2 113.4zM431.5 127.9L429.4 123.7L432.6 123.3zM430 138L428.2 133.7L431.4 133.5zM431.9 307.8L429.7 303.7L432.8 303.2zM431 317.9L429 313.7L432.2 313.4zM430.5 328L428.6 323.7L431.8 323.4zM430.4 338L428.5 333.7L431.7 333.5zM430.4 347.7L428.5 343.4L431.7 343.2zM430.5 357.3L428.6 353L431.8 352.8zM430.7 367L428.7 362.8L431.9 362.5zM441 87.3L438.9 83.1L442.1 82.8zM440.7 97.7L438.7 93.5L441.8 93.2zM440.1 108L438.3 103.7L441.5 103.5zM439.3 118L437.7 113.6L440.9 113.6zM440 128L438.2 123.7L441.4 123.5zM438.2 138L436.8 133.5L440 133.7zM435.8 147.7L435 143.1L438.2 143.7zM445.7 296.7L442.6 293.2L445.5 292zM444.1 307.2L441.4 303.5L444.4 302.6zM443.1 317.5L440.5 313.6L443.6 312.9zM442.4 327.7L440 323.7L443.1 323.1zM442 337.7L439.7 333.7L442.8 333.1zM441.8 347.6L439.5 343.5L442.7 343zM441.7 357.2L439.4 353.1L442.6 352.6zM441.7 366.9L439.5 362.9L442.6 362.3zM450.1 87.3L448.2 83.1L451.4 82.8zM449.7 97.7L447.9 93.4L451.1 93.2zM449 108L447.3 103.6L450.5 103.6zM448 118L446.6 113.5L449.8 113.7zM449 128L447.4 123.6L450.6 123.6zM447.1 137.9L445.9 133.4L449.1 133.7zM444.6 147.5L444.1 142.9L447.2 143.6zM457.3 295.8L453.8 292.7L456.6 291.2zM455.8 306.6L452.6 303.1L455.6 301.9zM454.7 317L451.7 313.4L454.7 312.3zM453.9 327.2L451.1 323.5L454.2 322.6zM453.4 337.4L450.7 333.6L453.8 332.7zM453 347.3L450.4 343.4L453.5 342.7zM452.8 357L450.2 353.1L453.3 352.4zM452.7 366.8L450.1 362.9L453.3 362.1zM459.5 87.2L457.6 82.9L460.8 82.8zM458.9 97.5L457.2 93.2L460.4 93.1zM458.1 107.8L456.6 103.4L459.8 103.5zM457.1 117.9L455.8 113.4L459 113.7zM458.6 128L457 123.6L460.2 123.6zM456.6 137.9L455.5 133.4L458.7 133.7zM454.2 147.5L453.7 142.8L456.8 143.6zM451.4 156.5L451.7 151.9L454.6 153.1zM448.2 164.8L449.4 160.3L452.1 162.1zM472 271.9L467.7 270.2L469.8 267.8zM470.1 283.7L466.1 281.4L468.5 279.3zM468.4 295L464.7 292.2L467.3 290.5zM467 305.9L463.5 302.7L466.4 301.2zM465.9 316.4L462.7 313L465.6 311.7zM465.1 326.7L462 323.2L465 322.1zM464.5 337L461.6 333.3L464.6 332.3zM464.1 346.9L461.2 343.2L464.2 342.2zM463.8 356.7L460.9 353L464 352zM463.6 366.5L460.8 362.8L463.8 361.8zM469 87.1L467.2 82.8L470.4 82.7zM468.3 97.3L466.7 93L469.9 92.9zM467.5 107.6L466.1 103.1L469.3 103.2zM466.5 117.7L465.3 113.2L468.5 113.5zM468.7 128L467 123.6L470.2 123.6zM466.8 137.9L465.6 133.4L468.8 133.7zM464.6 147.6L463.9 143L467.1 143.6zM462 156.9L462 152.2L465 153.3zM459.1 165.5L460 160.9L462.7 162.5zM456.1 173.1L457.9 168.8L460.3 171zM453.8 179.2L456.6 175.5L458.4 178.2zM485.2 246L480.5 246.1L481.6 243zM483.8 259.1L479.2 258.2L480.8 255.5zM482.2 271.4L477.8 269.9L479.8 267.4zM480.6 283.1L476.4 281L478.7 278.8zM479.1 294.4L475.2 291.8L477.7 289.9zM477.9 305.2L474.2 302.4L476.9 300.6zM476.8 315.8L473.3 312.7L476.1 311.2zM476.1 326.2L472.7 322.9L475.6 321.6zM475.5 336.5L472.2 333.1L475.2 331.8zM475 346.5L471.8 343L474.8 341.8zM474.6 356.3L471.5 352.8L474.5 351.6zM474.4 366.2L471.3 362.6L474.3 361.5zM478.6 87L476.8 82.7L480 82.6zM478 97.2L476.4 92.8L479.6 92.8zM477.2 107.3L475.8 102.8L479 103zM476.2 117.4L475.1 112.8L478.2 113.2zM479.1 127.5L477.3 123.2L480.5 123zM477.6 137.6L476.1 133.1L479.3 133.2zM475.7 147.4L474.7 142.8L477.9 143.2zM473.7 156.8L473.2 152.1L476.3 152.9zM471.5 165.7L471.7 161L474.7 162.2zM469.4 174L470.4 169.4L473.1 171.1zM467.8 181.7L469.5 177.3L471.9 179.4zM466.8 188.8L469.2 184.9L471.2 187.4zM466.6 195.7L469.8 192.3L471.3 195.2zM490.4 196L486.7 198.9L485.7 195.8zM492.7 208.4L488.5 210.4L488.2 207.3zM494.4 221.2L489.9 222.5L490.2 219.3zM495.2 234.4L490.6 234.8L491.4 231.7zM494.5 247.1L489.9 246.9L491.1 243.9zM493.3 259.4L488.7 258.5L490.4 255.8zM492 271.3L487.6 269.8L489.6 267.3zM490.7 282.8L486.4 280.8L488.7 278.5zM489.5 293.9L485.4 291.5L487.9 289.5zM488.4 304.7L484.5 302L487.2 300.2zM487.5 315.3L483.8 312.4L486.5 310.7zM486.8 325.7L483.2 322.7L486 321.1zM486.2 336L482.8 332.8L485.6 331.3zM485.7 346L482.3 342.7L485.2 341.3zM485.3 355.9L482 352.6L484.9 351.3zM485 365.8L481.8 362.5L484.7 361.2zM488.3 86.9L486.6 82.5L489.8 82.4zM487.7 97L486.1 92.6L489.3 92.6zM487 107L485.6 102.6L488.8 102.7zM486.1 117.1L484.9 112.5L488.1 112.8zM489.9 127.1L487.8 122.9L490.9 122.5zM488.7 137.1L486.8 132.8L490 132.6zM487.3 146.9L485.8 142.5L489 142.6zM485.8 156.6L484.8 152L487.9 152.4zM484.4 165.9L483.8 161.3L486.9 161.9zM483.4 175L483.1 170.3L486.1 171.2zM483 184.1L482.9 179.4L485.9 180.4zM484.5 193.6L484 188.9L487.1 189.7zM491.6 202.7L488.8 199L491.9 198zM499.7 206.7L495.1 205.9L496.6 203.2zM501.9 214.4L497.2 214.6L498.2 211.5zM503 224.9L498.3 225.1L499.3 222zM503.5 236.5L498.8 236.3L500 233.3zM503.5 248.4L498.8 247.7L500.3 244.9zM502.7 260L498.1 258.9L499.9 256.3zM501.7 271.4L497.2 269.9L499.3 267.4zM500.6 282.6L496.3 280.7L498.6 278.4zM499.6 293.5L495.5 291.3L497.9 289.2zM498.7 304.3L494.8 301.8L497.3 299.8zM497.9 314.8L494.1 312.1L496.8 310.3zM497.3 325.2L493.6 322.4L496.3 320.7zM496.7 335.4L493.1 332.4L495.9 330.8zM496.3 345.5L492.7 342.4L495.5 340.9zM495.9 355.5L492.4 352.3L495.3 350.9zM495.6 365.5L492.2 362.3L495.1 360.8zM499.2 86.7L497.4 82.4L500.6 82.3zM498.6 96.8L497 92.4L500.2 92.4zM498 106.8L496.5 102.4L499.7 102.5zM497.3 116.8L496 112.3L499.2 112.5zM502 126.6L499.5 122.6L502.6 121.9zM501.1 136.6L498.8 132.5L502 132zM500.2 146.5L498.2 142.3L501.3 141.9zM499.4 156.3L497.5 151.9L500.7 151.8zM498.8 165.9L497.1 161.5L500.3 161.5zM498.6 175.4L497 171L500.2 171zM499.5 184.8L497.6 180.6L500.8 180.3zM501.9 194L499.3 190.1L502.4 189.4zM505.8 202.2L502.2 199.3L504.9 197.6zM509.4 209.6L505.1 207.9L507.2 205.5zM511.4 218L506.8 217L508.5 214.3zM512.5 227.7L507.8 227L509.4 224.2zM513 238.3L508.3 237.5L509.9 234.8zM513 249.4L508.4 248.3L510.2 245.6zM512.7 260.6L508.2 259.2L510.1 256.6zM512.2 271.7L507.8 270L509.9 267.6zM511.4 282.5L507.1 280.6L509.4 278.3zM510.6 293.3L506.5 291.1L508.9 289zM509.9 303.9L505.9 301.5L508.4 299.5zM509.3 314.4L505.4 311.8L507.9 309.9zM508.7 324.7L504.9 322L507.5 320.2zM508.2 334.9L504.5 332.1L507.1 330.3zM507.8 345L504.1 342.1L506.8 340.4zM507.4 355L503.8 352.1L506.6 350.4zM507.2 365.1L503.6 362L506.4 360.4zM522.7 85L521 80.6L524.2 80.6zM522.6 95L521 90.6L524.2 90.6zM522.6 105L520.9 100.6L524.1 100.6zM522.5 115L520.9 110.6L524.1 110.6zM523.6 125L521.7 120.7L524.9 120.4zM523.6 135L521.7 130.7L524.9 130.5zM523.5 145L521.6 140.7L524.8 140.5zM523.5 155L521.6 150.7L524.8 150.5zM523.6 165L521.7 160.7L524.9 160.5zM523.7 175L521.8 170.7L525 170.4zM523.9 184.9L521.9 180.7L525.1 180.4zM524.3 194.9L522.2 190.7L525.3 190.3zM524.7 204.8L522.5 200.7L525.6 200.3zM525.1 214.8L522.8 210.7L525.9 210.2zM525.5 224.7L523.1 220.7L526.2 220.1zM525.8 234.6L523.2 230.7L526.4 230zM525.9 244.6L523.3 240.7L526.4 240zM525.8 254.6L523.3 250.7L526.4 250zM525.7 264.7L523.2 260.7L526.3 260zM525.6 274.7L523.1 270.7L526.2 270.1zM525.4 284.7L523 280.7L526.1 280.1zM525.2 294.8L522.8 290.7L526 290.1zM525.1 304.8L522.7 300.7L525.9 300.2zM524.9 314.8L522.6 310.7L525.8 310.2zM524.8 324.8L522.5 320.7L525.7 320.2zM524.7 334.8L522.5 330.7L525.6 330.2zM524.6 344.8L522.4 340.7L525.6 340.3zM524.6 354.9L522.4 350.7L525.5 350.3zM524.5 364.9L522.3 360.7L525.5 360.3zM533.7 85L532.1 80.6L535.3 80.6zM533.7 95L532 90.6L535.2 90.6zM533.6 105L532 100.6L535.2 100.6zM533.5 115L531.9 110.6L535.1 110.6zM534.8 124.9L532.8 120.7L536 120.4zM534.7 134.9L532.8 130.7L536 130.4zM534.7 144.9L532.8 140.7L536 140.4zM534.8 154.9L532.8 150.7L536 150.4zM534.8 164.9L532.8 160.7L536 160.4zM534.9 174.9L532.9 170.7L536.1 170.4zM535.1 184.9L533.1 180.7L536.2 180.4zM535.4 194.9L533.2 190.7L536.4 190.3zM535.6 204.8L533.4 200.7L536.6 200.3zM535.9 214.8L533.6 210.7L536.8 210.2zM536.2 224.8L533.8 220.7L537 220.1zM536.4 234.7L534 230.7L537.1 230.1zM536.5 244.7L534 240.7L537.2 240.1zM536.5 254.7L534 250.7L537.2 250.1zM536.4 264.7L534 260.7L537.1 260.1zM536.4 274.7L533.9 270.7L537.1 270.1zM536.2 284.7L533.9 280.7L537 280.1zM536.1 294.8L533.8 290.7L536.9 290.2zM536 304.8L533.7 300.7L536.8 300.2zM535.9 314.8L533.6 310.7L536.8 310.2zM535.8 324.8L533.5 320.7L536.7 320.2zM535.7 334.8L533.5 330.7L536.7 330.2zM535.6 344.8L533.4 340.7L536.6 340.3zM535.6 354.9L533.4 350.7L536.6 350.3zM535.5 364.9L533.4 360.7L536.5 360.3z" fill="#1616c0" fill-opacity="1.0"/>
<path d="M239.6 225l-2.1 29.9M239.5 245l-2.1 29.9M239.8 275.1l-2.5 29.9M240 295.1l-3 29.9M240.2 315.1l-3.4 29.8M240.3 325.1l-3.5 29.8M263.8 222.9l-0.7 34.1M264.8 294.8l-2.6 30.4M265.2 324.8l-3.5 30.5M265.3 334.7l-3.6 30.6M277.3 234.3l11.4 31.4M285.7 285.5l-5.5 28.9M287.5 295.8l-9 28.3M288.7 306.1l-11.4 27.9M299.8 336.3l-14.1 27.5M289.3 262.7l26.3 14.5M297.2 277.5l10.7 25M319 326.6l-13.5 26.8M328.9 326.7l-13.8 26.5" fill="none" stroke="#30c8f0" stroke-opacity="0.7" stroke-width="0.9"/><path d="M237.4 255L236.2 250.5L239.3 250.7zM237.5 275L236.2 270.5L239.4 270.7zM237.2 304.9L236 300.4L239.2 300.7zM237 324.9L235.9 320.4L239 320.7zM236.8 344.9L235.7 340.4L238.9 340.7zM236.7 354.9L235.7 350.3L238.8 350.7zM263.2 257.1L261.6 252.6L264.8 252.7zM262.2 325.2L261 320.7L264.2 321zM261.8 355.2L260.7 350.7L263.9 351.1zM261.7 365.3L260.6 360.7L263.8 361.1zM288.7 265.7L285.7 262.1L288.7 261zM280.3 314.5L279.5 309.8L282.7 310.4zM278.5 324.2L278.3 319.5L281.4 320.5zM277.3 333.9L277.5 329.3L280.4 330.5zM285.7 363.7L286.3 359.1L289.1 360.6zM315.7 277.3L311 276.5L312.6 273.7zM307.8 302.5L304.6 299.1L307.6 297.8zM305.5 353.4L306.1 348.8L308.9 350.2zM315.1 353.3L315.7 348.6L318.5 350.1z" fill="#20b8f0" fill-opacity="1.0"/>
</g>
<clipPath id="cinR"><rect x="1276.6" y="59.2" width="354.0" height="290.6"/></clipPath>
<g clip-path="url(#cinR)">
<path d="M1370.1 161.1l0 9.4M1370.1 170.6l0 9.4M1370.1 180.1l0 9.4M1370.1 189.6l0 9.4M1370.1 199l0 9.4M1376.4 142.2l0 9.4M1376.4 151.6l0 9.4M1376.4 161.1l0 9.4M1376.4 170.6l0 9.4M1376.4 180.1l0 9.4M1376.4 189.6l0 9.4M1376.4 199l0 9.4M1376.4 208.5l0 9.4M1376.4 218l0 9.4M1382.7 132.7l0 9.4M1382.7 142.2l0 9.4M1382.7 151.6l0 9.4M1382.7 161.1l0 9.4M1382.7 170.6l0 9.4M1382.7 180.1l0 9.4M1382.7 189.6l0 9.4M1382.7 199l0 9.4M1382.7 208.5l0 9.4M1382.7 218l0 9.4M1382.7 227.5l0 9.4M1389 123.2l0 9.4M1389 132.7l0 9.4M1389 142.2l0 9.4M1389 151.6l0 9.4M1389 161.1l0 9.4M1389 170.6l0 9.4M1389 180.1l0 9.4M1389 189.6l0 9.4M1389 199l0 9.4M1389 208.5l0 9.4M1389 218l0 9.4M1389 227.5l0 9.4M1389 237l0 9.4M1395.3 113.7l0 9.4M1395.3 123.2l0 9.4M1395.3 132.7l0 9.4M1395.3 142.2l0 9.4M1395.3 151.6l0 9.4M1395.3 161.1l0 9.4M1395.3 170.6l0 9.4M1395.3 180.1l0 9.4M1395.3 189.6l0 9.4M1395.3 199l0 9.4M1395.3 208.5l0 9.4M1395.3 218l0 9.4M1395.3 227.5l0 9.4M1395.3 237l0 9.4M1395.3 246.4l0 9.4M1401.6 113.7l0 9.4M1401.6 123.2l0 9.4M1401.6 132.7l0 9.4M1401.6 142.2l0 9.4M1401.6 151.6l0 9.4M1401.6 161.1l0 9.4M1401.6 170.6l0 9.4M1401.6 180.1l0 9.4M1401.6 189.6l0 9.4M1401.6 199l0 9.4M1401.6 208.5l0 9.4M1401.6 218l0 9.4M1401.6 227.5l0 9.4M1401.6 237l0 9.4M1401.6 246.4l0 9.4M1407.9 104.2l0 9.4M1407.9 113.7l0 9.4M1407.9 123.2l0 9.4M1407.9 132.7l0 9.4M1407.9 142.2l0 9.4M1407.9 151.6l0 9.4M1407.9 161.1l0 9.4M1407.9 170.6l0 9.4M1407.9 180.1l0 9.4M1407.9 189.6l0 9.4M1407.9 199l0 9.4M1407.9 208.5l0 9.4M1407.9 218l0 9.4M1407.9 227.5l0 9.4M1407.9 237l0 9.4M1407.9 246.4l0 9.4M1407.9 255.9l0 9.4M1414.2 104.2l0 9.4M1414.2 113.7l0 9.4M1414.2 123.2l0 9.4M1414.2 132.7l0 9.4M1414.2 142.2l0 9.4M1414.2 151.6l0 9.4M1414.2 161.1l0 9.4M1414.2 170.6l0 9.4M1414.2 180.1l0 9.4M1414.2 189.6l0 9.4M1414.2 199l0 9.4M1414.2 208.5l0 9.4M1414.2 218l0 9.4M1414.2 227.5l0 9.4M1414.2 237l0 9.4M1414.2 246.4l0 9.4M1414.2 255.9l0 9.4M1420.5 94.8l0 9.4M1420.5 104.2l0 9.4M1420.5 113.7l0 9.4M1420.5 123.2l0 9.4M1420.5 132.7l0 9.4M1420.5 142.2l0 9.4M1420.5 151.6l0 9.4M1420.5 161.1l0 9.4M1420.5 170.6l0 9.4M1420.5 180.1l0 9.4M1420.5 189.6l0 9.4M1420.5 199l0 9.4M1420.5 208.5l0 9.4M1420.5 218l0 9.4M1420.5 227.5l0 9.4M1420.5 237l0 9.4M1420.5 246.4l0 9.4M1420.5 255.9l0 9.4M1426.8 94.8l0 9.4M1426.8 104.2l0 9.4M1426.8 113.7l0 9.4M1426.8 123.2l0 9.4M1426.8 132.7l0 9.4M1426.8 142.2l0 9.4M1426.8 151.6l0 9.4M1426.8 161.1l0 9.4M1426.8 170.6l0 9.4M1426.8 180.1l0 9.4M1426.8 189.6l0 9.4M1426.8 199l0 9.4M1426.8 208.5l0 9.4M1426.8 218l0 9.4M1426.8 227.5l0 9.4M1426.8 237l0 9.4M1426.8 246.4l0 9.4M1426.8 255.9l0 9.4M1426.8 265.4l0 9.4M1433.1 94.8l0 9.4M1433.1 104.2l0 9.4M1433.1 113.7l0 9.4M1433.1 123.2l0 9.4M1433.1 132.7l0 9.4M1433.1 142.2l0 9.4M1433.1 151.6l0 9.4M1433.1 161.1l0 9.4M1433.1 170.6l0 9.4M1433.1 180.1l0 9.4M1433.1 189.6l0 9.4M1433.1 199l0 9.4M1433.1 208.5l0 9.4M1433.1 218l0 9.4M1433.1 227.5l0 9.4M1433.1 237l0 9.4M1433.1 246.4l0 9.4M1433.1 255.9l0 9.4M1433.1 265.4l0 9.4M1439.4 94.8l0 9.4M1439.4 104.2l0 9.4M1439.4 113.7l0 9.4M1439.4 123.2l0 9.4M1439.4 132.7l0 9.4M1439.4 142.2l0 9.4M1439.4 151.6l0 9.4M1439.4 161.1l0 9.4M1439.4 170.6l0 9.4M1439.4 180.1l0 9.4M1439.4 189.6l0 9.4M1439.4 199l0 9.4M1439.4 208.5l0 9.4M1439.4 218l0 9.4M1439.4 227.5l0 9.4M1439.4 237l0 9.4M1439.4 246.4l0 9.4M1439.4 255.9l0 9.4M1439.4 265.4l0 9.4M1445.7 85.3l0 9.4M1445.7 94.8l0 9.4M1445.7 104.2l0 9.4M1445.7 113.7l0 9.4M1445.7 123.2l0 9.4M1445.7 132.7l0 9.4M1445.7 142.2l0 9.4M1445.7 151.6l0 9.4M1445.7 161.1l0 9.4M1445.7 170.6l0 9.4M1445.7 180.1l0 9.4M1445.7 189.6l0 9.4M1445.7 199l0 9.4M1445.7 208.5l0 9.4M1445.7 218l0 9.4M1445.7 227.5l0 9.4M1445.7 237l0 9.4M1445.7 246.4l0 9.4M1445.7 255.9l0 9.4M1445.7 265.4l0 9.4M1452 85.3l0 9.4M1452 94.8l0 9.4M1452 104.2l0 9.4M1452 113.7l0 9.4M1452 123.2l0 9.4M1452 132.7l0 9.4M1452 142.2l0 9.4M1452 151.6l0 9.4M1452 161.1l0 9.4M1452 170.6l0 9.4M1452 180.1l0 9.4M1452 189.6l0 9.4M1452 199l0 9.4M1452 208.5l0 9.4M1452 218l0 9.4M1452 227.5l0 9.4M1452 237l0 9.4M1452 246.4l0 9.4M1452 255.9l0 9.4M1452 265.4l0 9.4M1458.3 85.3l0 9.4M1458.3 94.8l0 9.4M1458.3 104.2l0 9.4M1458.3 113.7l0 9.4M1458.3 123.2l0 9.4M1458.3 132.7l0 9.4M1458.3 142.2l0 9.4M1458.3 151.6l0 9.4M1458.3 161.1l0 9.4M1458.3 170.6l0 9.4M1458.3 180.1l0 9.4M1458.3 189.6l0 9.4M1458.3 199l0 9.4M1458.3 208.5l0 9.4M1458.3 218l0 9.4M1458.3 227.5l0 9.4M1458.3 237l0 9.4M1458.3 246.4l0 9.4M1458.3 255.9l0 9.4M1458.3 265.4l0 9.4M1464.6 85.3l0 9.4M1464.6 94.8l0 9.4M1464.6 104.2l0 9.4M1464.6 113.7l0 9.4M1464.6 123.2l0 9.4M1464.6 132.7l0 9.4M1464.6 142.2l0 9.4M1464.6 151.6l0 9.4M1464.6 161.1l0 9.4M1464.6 170.6l0 9.4M1464.6 180.1l0 9.4M1464.6 189.6l0 9.4M1464.6 199l0 9.4M1464.6 208.5l0 9.4M1464.6 218l0 9.4M1464.6 227.5l0 9.4M1464.6 237l0 9.4M1464.6 246.4l0 9.4M1464.6 255.9l0 9.4M1464.6 265.4l0 9.4M1470.9 85.3l0 9.4M1470.9 94.8l0 9.4M1470.9 104.2l0 9.4M1470.9 113.7l0 9.4M1470.9 123.2l0 9.4M1470.9 132.7l0 9.4M1470.9 142.2l0 9.4M1470.9 151.6l0 9.4M1470.9 161.1l0 9.4M1470.9 170.6l0 9.4M1470.9 180.1l0 9.4M1470.9 189.6l0 9.4M1470.9 199l0 9.4M1470.9 208.5l0 9.4M1470.9 218l0 9.4M1470.9 227.5l0 9.4M1470.9 237l0 9.4M1470.9 246.4l0 9.4M1470.9 255.9l0 9.4M1470.9 265.4l0 9.4M1477.2 94.8l0 9.4M1477.2 104.2l0 9.4M1477.2 113.7l0 9.4M1477.2 123.2l0 9.4M1477.2 132.7l0 9.4M1477.2 142.2l0 9.4M1477.2 151.6l0 9.4M1477.2 161.1l0 9.4M1477.2 170.6l0 9.4M1477.2 180.1l0 9.4M1477.2 189.6l0 9.4M1477.2 199l0 9.4M1477.2 208.5l0 9.4M1477.2 218l0 9.4M1477.2 227.5l0 9.4M1477.2 237l0 9.4M1477.2 246.4l0 9.4M1477.2 255.9l0 9.4M1477.2 265.4l0 9.4M1483.5 94.8l0 9.4M1483.5 104.2l0 9.4M1483.5 113.7l0 9.4M1483.5 123.2l0 9.4M1483.5 132.7l0 9.4M1483.5 142.2l0 9.4M1483.5 151.6l0 9.4M1483.5 161.1l0 9.4M1483.5 170.6l0 9.4M1483.5 180.1l0 9.4M1483.5 189.6l0 9.4M1483.5 199l0 9.4M1483.5 208.5l0 9.4M1483.5 218l0 9.4M1483.5 227.5l0 9.4M1483.5 237l0 9.4M1483.5 246.4l0 9.4M1483.5 255.9l0 9.4M1483.5 265.4l0 9.4M1489.8 94.8l0 9.4M1489.8 104.2l0 9.4M1489.8 113.7l0 9.4M1489.8 123.2l0 9.4M1489.8 132.7l0 9.4M1489.8 142.2l0 9.4M1489.8 151.6l0 9.4M1489.8 161.1l0 9.4M1489.8 170.6l0 9.4M1489.8 180.1l0 9.4M1489.8 189.6l0 9.4M1489.8 199l0 9.4M1489.8 208.5l0 9.4M1489.8 218l0 9.4M1489.8 227.5l0 9.4M1489.8 237l0 9.4M1489.8 246.4l0 9.4M1489.8 255.9l0 9.4M1489.8 265.4l0 9.4M1496.1 94.8l0 9.4M1496.1 104.2l0 9.4M1496.1 113.7l0 9.4M1496.1 123.2l0 9.4M1496.1 132.7l0 9.4M1496.1 142.2l0 9.4M1496.1 151.6l0 9.4M1496.1 161.1l0 9.4M1496.1 170.6l0 9.4M1496.1 180.1l0 9.4M1496.1 189.6l0 9.4M1496.1 199l0 9.4M1496.1 208.5l0 9.4M1496.1 218l0 9.4M1496.1 227.5l0 9.4M1496.1 237l0 9.4M1496.1 246.4l0 9.4M1496.1 255.9l0 9.4M1496.1 265.4l0 9.4M1502.4 104.2l0 9.4M1502.4 113.7l0 9.4M1502.4 123.2l0 9.4M1502.4 132.7l0 9.4M1502.4 142.2l0 9.4M1502.4 151.6l0 9.4M1502.4 161.1l0 9.4M1502.4 170.6l0 9.4M1502.4 180.1l0 9.4M1502.4 189.6l0 9.4M1502.4 199l0 9.4M1502.4 208.5l0 9.4M1502.4 218l0 9.4M1502.4 227.5l0 9.4M1502.4 237l0 9.4M1502.4 246.4l0 9.4M1502.4 255.9l0 9.4M1508.7 104.2l0 9.4M1508.7 113.7l0 9.4M1508.7 123.2l0 9.4M1508.7 132.7l0 9.4M1508.7 142.2l0 9.4M1508.7 151.6l0 9.4M1508.7 161.1l0 9.4M1508.7 170.6l0 9.4M1508.7 180.1l0 9.4M1508.7 189.6l0 9.4M1508.7 199l0 9.4M1508.7 208.5l0 9.4M1508.7 218l0 9.4M1508.7 227.5l0 9.4M1508.7 237l0 9.4M1508.7 246.4l0 9.4M1508.7 255.9l0 9.4M1515 104.2l0 9.4M1515 113.7l0 9.4M1515 123.2l0 9.4M1515 132.7l0 9.4M1515 142.2l0 9.4M1515 151.6l0 9.4M1515 161.1l0 9.4M1515 170.6l0 9.4M1515 180.1l0 9.4M1515 189.6l0 9.4M1515 199l0 9.4M1515 208.5l0 9.4M1515 218l0 9.4M1515 227.5l0 9.4M1515 237l0 9.4M1515 246.4l0 9.4M1521.3 113.7l0 9.4M1521.3 123.2l0 9.4M1521.3 132.7l0 9.4M1521.3 142.2l0 9.4M1521.3 151.6l0 9.4M1521.3 161.1l0 9.4M1521.3 170.6l0 9.4M1521.3 180.1l0 9.4M1521.3 189.6l0 9.4M1521.3 199l0 9.4M1521.3 208.5l0 9.4M1521.3 218l0 9.4M1521.3 227.5l0 9.4M1521.3 237l0 9.4M1521.3 246.4l0 9.4M1527.6 123.2l0 9.4M1527.6 132.7l0 9.4M1527.6 142.2l0 9.4M1527.6 151.6l0 9.4M1527.6 161.1l0 9.4M1527.6 170.6l0 9.4M1527.6 180.1l0 9.4M1527.6 189.6l0 9.4M1527.6 199l0 9.4M1527.6 208.5l0 9.4M1527.6 218l0 9.4M1527.6 227.5l0 9.4M1527.6 237l0 9.4M1533.9 132.7l0 9.4M1533.9 142.2l0 9.4M1533.9 151.6l0 9.4M1533.9 161.1l0 9.4M1533.9 170.6l0 9.4M1533.9 180.1l0 9.4M1533.9 189.6l0 9.4M1533.9 199l0 9.4M1533.9 208.5l0 9.4M1533.9 218l0 9.4M1533.9 227.5l0 9.4M1540.2 142.2l0 9.4M1540.2 151.6l0 9.4M1540.2 161.1l0 9.4M1540.2 170.6l0 9.4M1540.2 180.1l0 9.4M1540.2 189.6l0 9.4M1540.2 199l0 9.4M1540.2 208.5l0 9.4M1540.2 218l0 9.4M1546.5 151.6l0 9.4M1546.5 161.1l0 9.4M1546.5 170.6l0 9.4M1546.5 180.1l0 9.4M1546.5 189.6l0 9.4M1546.5 199l0 9.4" fill="none" stroke="#5050e0" stroke-opacity="0.6" stroke-width="1.5"/><path d="M1370.1 170.5L1368.2 165.9L1372 165.9zM1370.1 180L1368.2 175.4L1372 175.4zM1370.1 189.5L1368.2 184.9L1372 184.9zM1370.1 199L1368.2 194.4L1372 194.4zM1370.1 208.4L1368.2 203.8L1372 203.8zM1376.4 151.6L1374.5 147L1378.3 147zM1376.4 161L1374.5 156.4L1378.3 156.4zM1376.4 170.5L1374.5 165.9L1378.3 165.9zM1376.4 180L1374.5 175.4L1378.3 175.4zM1376.4 189.5L1374.5 184.9L1378.3 184.9zM1376.4 199L1374.5 194.4L1378.3 194.4zM1376.4 208.4L1374.5 203.8L1378.3 203.8zM1376.4 217.9L1374.5 213.3L1378.3 213.3zM1376.4 227.4L1374.5 222.8L1378.3 222.8zM1382.7 142.1L1380.8 137.5L1384.6 137.5zM1382.7 151.6L1380.8 147L1384.6 147zM1382.7 161L1380.8 156.4L1384.6 156.4zM1382.7 170.5L1380.8 165.9L1384.6 165.9zM1382.7 180L1380.8 175.4L1384.6 175.4zM1382.7 189.5L1380.8 184.9L1384.6 184.9zM1382.7 199L1380.8 194.4L1384.6 194.4zM1382.7 208.4L1380.8 203.8L1384.6 203.8zM1382.7 217.9L1380.8 213.3L1384.6 213.3zM1382.7 227.4L1380.8 222.8L1384.6 222.8zM1382.7 236.9L1380.8 232.3L1384.6 232.3zM1389 132.6L1387.1 128L1390.9 128zM1389 142.1L1387.1 137.5L1390.9 137.5zM1389 151.6L1387.1 147L1390.9 147zM1389 161L1387.1 156.4L1390.9 156.4zM1389 170.5L1387.1 165.9L1390.9 165.9zM1389 180L1387.1 175.4L1390.9 175.4zM1389 189.5L1387.1 184.9L1390.9 184.9zM1389 199L1387.1 194.4L1390.9 194.4zM1389 208.4L1387.1 203.8L1390.9 203.8zM1389 217.9L1387.1 213.3L1390.9 213.3zM1389 227.4L1387.1 222.8L1390.9 222.8zM1389 236.9L1387.1 232.3L1390.9 232.3zM1389 246.4L1387.1 241.8L1390.9 241.8zM1395.3 123.1L1393.4 118.5L1397.2 118.5zM1395.3 132.6L1393.4 128L1397.2 128zM1395.3 142.1L1393.4 137.5L1397.2 137.5zM1395.3 151.6L1393.4 147L1397.2 147zM1395.3 161L1393.4 156.4L1397.2 156.4zM1395.3 170.5L1393.4 165.9L1397.2 165.9zM1395.3 180L1393.4 175.4L1397.2 175.4zM1395.3 189.5L1393.4 184.9L1397.2 184.9zM1395.3 199L1393.4 194.4L1397.2 194.4zM1395.3 208.4L1393.4 203.8L1397.2 203.8zM1395.3 217.9L1393.4 213.3L1397.2 213.3zM1395.3 227.4L1393.4 222.8L1397.2 222.8zM1395.3 236.9L1393.4 232.3L1397.2 232.3zM1395.3 246.4L1393.4 241.8L1397.2 241.8zM1395.3 255.8L1393.4 251.2L1397.2 251.2zM1401.6 123.1L1399.7 118.5L1403.5 118.5zM1401.6 132.6L1399.7 128L1403.5 128zM1401.6 142.1L1399.7 137.5L1403.5 137.5zM1401.6 151.6L1399.7 147L1403.5 147zM1401.6 161L1399.7 156.4L1403.5 156.4zM1401.6 170.5L1399.7 165.9L1403.5 165.9zM1401.6 180L1399.7 175.4L1403.5 175.4zM1401.6 189.5L1399.7 184.9L1403.5 184.9zM1401.6 199L1399.7 194.4L1403.5 194.4zM1401.6 208.4L1399.7 203.8L1403.5 203.8zM1401.6 217.9L1399.7 213.3L1403.5 213.3zM1401.6 227.4L1399.7 222.8L1403.5 222.8zM1401.6 236.9L1399.7 232.3L1403.5 232.3zM1401.6 246.4L1399.7 241.8L1403.5 241.8zM1401.6 255.8L1399.7 251.2L1403.5 251.2zM1407.9 113.6L1406 109L1409.8 109zM1407.9 123.1L1406 118.5L1409.8 118.5zM1407.9 132.6L1406 128L1409.8 128zM1407.9 142.1L1406 137.5L1409.8 137.5zM1407.9 151.6L1406 147L1409.8 147zM1407.9 161L1406 156.4L1409.8 156.4zM1407.9 170.5L1406 165.9L1409.8 165.9zM1407.9 180L1406 175.4L1409.8 175.4zM1407.9 189.5L1406 184.9L1409.8 184.9zM1407.9 199L1406 194.4L1409.8 194.4zM1407.9 208.4L1406 203.8L1409.8 203.8zM1407.9 217.9L1406 213.3L1409.8 213.3zM1407.9 227.4L1406 222.8L1409.8 222.8zM1407.9 236.9L1406 232.3L1409.8 232.3zM1407.9 246.4L1406 241.8L1409.8 241.8zM1407.9 255.8L1406 251.2L1409.8 251.2zM1407.9 265.3L1406 260.7L1409.8 260.7zM1414.2 113.6L1412.3 109L1416.1 109zM1414.2 123.1L1412.3 118.5L1416.1 118.5zM1414.2 132.6L1412.3 128L1416.1 128zM1414.2 142.1L1412.3 137.5L1416.1 137.5zM1414.2 151.6L1412.3 147L1416.1 147zM1414.2 161L1412.3 156.4L1416.1 156.4zM1414.2 170.5L1412.3 165.9L1416.1 165.9zM1414.2 180L1412.3 175.4L1416.1 175.4zM1414.2 189.5L1412.3 184.9L1416.1 184.9zM1414.2 199L1412.3 194.4L1416.1 194.4zM1414.2 208.4L1412.3 203.8L1416.1 203.8zM1414.2 217.9L1412.3 213.3L1416.1 213.3zM1414.2 227.4L1412.3 222.8L1416.1 222.8zM1414.2 236.9L1412.3 232.3L1416.1 232.3zM1414.2 246.4L1412.3 241.8L1416.1 241.8zM1414.2 255.8L1412.3 251.2L1416.1 251.2zM1414.2 265.3L1412.3 260.7L1416.1 260.7zM1420.5 104.2L1418.6 99.6L1422.4 99.6zM1420.5 113.6L1418.6 109L1422.4 109zM1420.5 123.1L1418.6 118.5L1422.4 118.5zM1420.5 132.6L1418.6 128L1422.4 128zM1420.5 142.1L1418.6 137.5L1422.4 137.5zM1420.5 151.6L1418.6 147L1422.4 147zM1420.5 161L1418.6 156.4L1422.4 156.4zM1420.5 170.5L1418.6 165.9L1422.4 165.9zM1420.5 180L1418.6 175.4L1422.4 175.4zM1420.5 189.5L1418.6 184.9L1422.4 184.9zM1420.5 199L1418.6 194.4L1422.4 194.4zM1420.5 208.4L1418.6 203.8L1422.4 203.8zM1420.5 217.9L1418.6 213.3L1422.4 213.3zM1420.5 227.4L1418.6 222.8L1422.4 222.8zM1420.5 236.9L1418.6 232.3L1422.4 232.3zM1420.5 246.4L1418.6 241.8L1422.4 241.8zM1420.5 255.8L1418.6 251.2L1422.4 251.2zM1420.5 265.3L1418.6 260.7L1422.4 260.7zM1426.8 104.2L1424.9 99.6L1428.7 99.6zM1426.8 113.6L1424.9 109L1428.7 109zM1426.8 123.1L1424.9 118.5L1428.7 118.5zM1426.8 132.6L1424.9 128L1428.7 128zM1426.8 142.1L1424.9 137.5L1428.7 137.5zM1426.8 151.6L1424.9 147L1428.7 147zM1426.8 161L1424.9 156.4L1428.7 156.4zM1426.8 170.5L1424.9 165.9L1428.7 165.9zM1426.8 180L1424.9 175.4L1428.7 175.4zM1426.8 189.5L1424.9 184.9L1428.7 184.9zM1426.8 199L1424.9 194.4L1428.7 194.4zM1426.8 208.4L1424.9 203.8L1428.7 203.8zM1426.8 217.9L1424.9 213.3L1428.7 213.3zM1426.8 227.4L1424.9 222.8L1428.7 222.8zM1426.8 236.9L1424.9 232.3L1428.7 232.3zM1426.8 246.4L1424.9 241.8L1428.7 241.8zM1426.8 255.8L1424.9 251.2L1428.7 251.2zM1426.8 265.3L1424.9 260.7L1428.7 260.7zM1426.8 274.8L1424.9 270.2L1428.7 270.2zM1433.1 104.2L1431.2 99.6L1435 99.6zM1433.1 113.6L1431.2 109L1435 109zM1433.1 123.1L1431.2 118.5L1435 118.5zM1433.1 132.6L1431.2 128L1435 128zM1433.1 142.1L1431.2 137.5L1435 137.5zM1433.1 151.6L1431.2 147L1435 147zM1433.1 161L1431.2 156.4L1435 156.4zM1433.1 170.5L1431.2 165.9L1435 165.9zM1433.1 180L1431.2 175.4L1435 175.4zM1433.1 189.5L1431.2 184.9L1435 184.9zM1433.1 199L1431.2 194.4L1435 194.4zM1433.1 208.4L1431.2 203.8L1435 203.8zM1433.1 217.9L1431.2 213.3L1435 213.3zM1433.1 227.4L1431.2 222.8L1435 222.8zM1433.1 236.9L1431.2 232.3L1435 232.3zM1433.1 246.4L1431.2 241.8L1435 241.8zM1433.1 255.8L1431.2 251.2L1435 251.2zM1433.1 265.3L1431.2 260.7L1435 260.7zM1433.1 274.8L1431.2 270.2L1435 270.2zM1439.4 104.2L1437.5 99.6L1441.3 99.6zM1439.4 113.6L1437.5 109L1441.3 109zM1439.4 123.1L1437.5 118.5L1441.3 118.5zM1439.4 132.6L1437.5 128L1441.3 128zM1439.4 142.1L1437.5 137.5L1441.3 137.5zM1439.4 151.6L1437.5 147L1441.3 147zM1439.4 161L1437.5 156.4L1441.3 156.4zM1439.4 170.5L1437.5 165.9L1441.3 165.9zM1439.4 180L1437.5 175.4L1441.3 175.4zM1439.4 189.5L1437.5 184.9L1441.3 184.9zM1439.4 199L1437.5 194.4L1441.3 194.4zM1439.4 208.4L1437.5 203.8L1441.3 203.8zM1439.4 217.9L1437.5 213.3L1441.3 213.3zM1439.4 227.4L1437.5 222.8L1441.3 222.8zM1439.4 236.9L1437.5 232.3L1441.3 232.3zM1439.4 246.4L1437.5 241.8L1441.3 241.8zM1439.4 255.8L1437.5 251.2L1441.3 251.2zM1439.4 265.3L1437.5 260.7L1441.3 260.7zM1439.4 274.8L1437.5 270.2L1441.3 270.2zM1445.7 94.7L1443.8 90.1L1447.6 90.1zM1445.7 104.2L1443.8 99.6L1447.6 99.6zM1445.7 113.6L1443.8 109L1447.6 109zM1445.7 123.1L1443.8 118.5L1447.6 118.5zM1445.7 132.6L1443.8 128L1447.6 128zM1445.7 142.1L1443.8 137.5L1447.6 137.5zM1445.7 151.6L1443.8 147L1447.6 147zM1445.7 161L1443.8 156.4L1447.6 156.4zM1445.7 170.5L1443.8 165.9L1447.6 165.9zM1445.7 180L1443.8 175.4L1447.6 175.4zM1445.7 189.5L1443.8 184.9L1447.6 184.9zM1445.7 199L1443.8 194.4L1447.6 194.4zM1445.7 208.4L1443.8 203.8L1447.6 203.8zM1445.7 217.9L1443.8 213.3L1447.6 213.3zM1445.7 227.4L1443.8 222.8L1447.6 222.8zM1445.7 236.9L1443.8 232.3L1447.6 232.3zM1445.7 246.4L1443.8 241.8L1447.6 241.8zM1445.7 255.8L1443.8 251.2L1447.6 251.2zM1445.7 265.3L1443.8 260.7L1447.6 260.7zM1445.7 274.8L1443.8 270.2L1447.6 270.2zM1452 94.7L1450.1 90.1L1453.9 90.1zM1452 104.2L1450.1 99.6L1453.9 99.6zM1452 113.6L1450.1 109L1453.9 109zM1452 123.1L1450.1 118.5L1453.9 118.5zM1452 132.6L1450.1 128L1453.9 128zM1452 142.1L1450.1 137.5L1453.9 137.5zM1452 151.6L1450.1 147L1453.9 147zM1452 161L1450.1 156.4L1453.9 156.4zM1452 170.5L1450.1 165.9L1453.9 165.9zM1452 180L1450.1 175.4L1453.9 175.4zM1452 189.5L1450.1 184.9L1453.9 184.9zM1452 199L1450.1 194.4L1453.9 194.4zM1452 208.4L1450.1 203.8L1453.9 203.8zM1452 217.9L1450.1 213.3L1453.9 213.3zM1452 227.4L1450.1 222.8L1453.9 222.8zM1452 236.9L1450.1 232.3L1453.9 232.3zM1452 246.4L1450.1 241.8L1453.9 241.8zM1452 255.8L1450.1 251.2L1453.9 251.2zM1452 265.3L1450.1 260.7L1453.9 260.7zM1452 274.8L1450.1 270.2L1453.9 270.2zM1458.3 94.7L1456.4 90.1L1460.2 90.1zM1458.3 104.2L1456.4 99.6L1460.2 99.6zM1458.3 113.6L1456.4 109L1460.2 109zM1458.3 123.1L1456.4 118.5L1460.2 118.5zM1458.3 132.6L1456.4 128L1460.2 128zM1458.3 142.1L1456.4 137.5L1460.2 137.5zM1458.3 151.6L1456.4 147L1460.2 147zM1458.3 161L1456.4 156.4L1460.2 156.4zM1458.3 170.5L1456.4 165.9L1460.2 165.9zM1458.3 180L1456.4 175.4L1460.2 175.4zM1458.3 189.5L1456.4 184.9L1460.2 184.9zM1458.3 199L1456.4 194.4L1460.2 194.4zM1458.3 208.4L1456.4 203.8L1460.2 203.8zM1458.3 217.9L1456.4 213.3L1460.2 213.3zM1458.3 227.4L1456.4 222.8L1460.2 222.8zM1458.3 236.9L1456.4 232.3L1460.2 232.3zM1458.3 246.4L1456.4 241.8L1460.2 241.8zM1458.3 255.8L1456.4 251.2L1460.2 251.2zM1458.3 265.3L1456.4 260.7L1460.2 260.7zM1458.3 274.8L1456.4 270.2L1460.2 270.2zM1464.6 94.7L1462.7 90.1L1466.5 90.1zM1464.6 104.2L1462.7 99.6L1466.5 99.6zM1464.6 113.6L1462.7 109L1466.5 109zM1464.6 123.1L1462.7 118.5L1466.5 118.5zM1464.6 132.6L1462.7 128L1466.5 128zM1464.6 142.1L1462.7 137.5L1466.5 137.5zM1464.6 151.6L1462.7 147L1466.5 147zM1464.6 161L1462.7 156.4L1466.5 156.4zM1464.6 170.5L1462.7 165.9L1466.5 165.9zM1464.6 180L1462.7 175.4L1466.5 175.4zM1464.6 189.5L1462.7 184.9L1466.5 184.9zM1464.6 199L1462.7 194.4L1466.5 194.4zM1464.6 208.4L1462.7 203.8L1466.5 203.8zM1464.6 217.9L1462.7 213.3L1466.5 213.3zM1464.6 227.4L1462.7 222.8L1466.5 222.8zM1464.6 236.9L1462.7 232.3L1466.5 232.3zM1464.6 246.4L1462.7 241.8L1466.5 241.8zM1464.6 255.8L1462.7 251.2L1466.5 251.2zM1464.6 265.3L1462.7 260.7L1466.5 260.7zM1464.6 274.8L1462.7 270.2L1466.5 270.2zM1470.9 94.7L1469 90.1L1472.8 90.1zM1470.9 104.2L1469 99.6L1472.8 99.6zM1470.9 113.6L1469 109L1472.8 109zM1470.9 123.1L1469 118.5L1472.8 118.5zM1470.9 132.6L1469 128L1472.8 128zM1470.9 142.1L1469 137.5L1472.8 137.5zM1470.9 151.6L1469 147L1472.8 147zM1470.9 161L1469 156.4L1472.8 156.4zM1470.9 170.5L1469 165.9L1472.8 165.9zM1470.9 180L1469 175.4L1472.8 175.4zM1470.9 189.5L1469 184.9L1472.8 184.9zM1470.9 199L1469 194.4L1472.8 194.4zM1470.9 208.4L1469 203.8L1472.8 203.8zM1470.9 217.9L1469 213.3L1472.8 213.3zM1470.9 227.4L1469 222.8L1472.8 222.8zM1470.9 236.9L1469 232.3L1472.8 232.3zM1470.9 246.4L1469 241.8L1472.8 241.8zM1470.9 255.8L1469 251.2L1472.8 251.2zM1470.9 265.3L1469 260.7L1472.8 260.7zM1470.9 274.8L1469 270.2L1472.8 270.2zM1477.2 104.2L1475.3 99.6L1479.1 99.6zM1477.2 113.6L1475.3 109L1479.1 109zM1477.2 123.1L1475.3 118.5L1479.1 118.5zM1477.2 132.6L1475.3 128L1479.1 128zM1477.2 142.1L1475.3 137.5L1479.1 137.5zM1477.2 151.6L1475.3 147L1479.1 147zM1477.2 161L1475.3 156.4L1479.1 156.4zM1477.2 170.5L1475.3 165.9L1479.1 165.9zM1477.2 180L1475.3 175.4L1479.1 175.4zM1477.2 189.5L1475.3 184.9L1479.1 184.9zM1477.2 199L1475.3 194.4L1479.1 194.4zM1477.2 208.4L1475.3 203.8L1479.1 203.8zM1477.2 217.9L1475.3 213.3L1479.1 213.3zM1477.2 227.4L1475.3 222.8L1479.1 222.8zM1477.2 236.9L1475.3 232.3L1479.1 232.3zM1477.2 246.4L1475.3 241.8L1479.1 241.8zM1477.2 255.8L1475.3 251.2L1479.1 251.2zM1477.2 265.3L1475.3 260.7L1479.1 260.7zM1477.2 274.8L1475.3 270.2L1479.1 270.2zM1483.5 104.2L1481.6 99.6L1485.4 99.6zM1483.5 113.6L1481.6 109L1485.4 109zM1483.5 123.1L1481.6 118.5L1485.4 118.5zM1483.5 132.6L1481.6 128L1485.4 128zM1483.5 142.1L1481.6 137.5L1485.4 137.5zM1483.5 151.6L1481.6 147L1485.4 147zM1483.5 161L1481.6 156.4L1485.4 156.4zM1483.5 170.5L1481.6 165.9L1485.4 165.9zM1483.5 180L1481.6 175.4L1485.4 175.4zM1483.5 189.5L1481.6 184.9L1485.4 184.9zM1483.5 199L1481.6 194.4L1485.4 194.4zM1483.5 208.4L1481.6 203.8L1485.4 203.8zM1483.5 217.9L1481.6 213.3L1485.4 213.3zM1483.5 227.4L1481.6 222.8L1485.4 222.8zM1483.5 236.9L1481.6 232.3L1485.4 232.3zM1483.5 246.4L1481.6 241.8L1485.4 241.8zM1483.5 255.8L1481.6 251.2L1485.4 251.2zM1483.5 265.3L1481.6 260.7L1485.4 260.7zM1483.5 274.8L1481.6 270.2L1485.4 270.2zM1489.8 104.2L1487.9 99.6L1491.7 99.6zM1489.8 113.6L1487.9 109L1491.7 109zM1489.8 123.1L1487.9 118.5L1491.7 118.5zM1489.8 132.6L1487.9 128L1491.7 128zM1489.8 142.1L1487.9 137.5L1491.7 137.5zM1489.8 151.6L1487.9 147L1491.7 147zM1489.8 161L1487.9 156.4L1491.7 156.4zM1489.8 170.5L1487.9 165.9L1491.7 165.9zM1489.8 180L1487.9 175.4L1491.7 175.4zM1489.8 189.5L1487.9 184.9L1491.7 184.9zM1489.8 199L1487.9 194.4L1491.7 194.4zM1489.8 208.4L1487.9 203.8L1491.7 203.8zM1489.8 217.9L1487.9 213.3L1491.7 213.3zM1489.8 227.4L1487.9 222.8L1491.7 222.8zM1489.8 236.9L1487.9 232.3L1491.7 232.3zM1489.8 246.4L1487.9 241.8L1491.7 241.8zM1489.8 255.8L1487.9 251.2L1491.7 251.2zM1489.8 265.3L1487.9 260.7L1491.7 260.7zM1489.8 274.8L1487.9 270.2L1491.7 270.2zM1496.1 104.2L1494.2 99.6L1498 99.6zM1496.1 113.6L1494.2 109L1498 109zM1496.1 123.1L1494.2 118.5L1498 118.5zM1496.1 132.6L1494.2 128L1498 128zM1496.1 142.1L1494.2 137.5L1498 137.5zM1496.1 151.6L1494.2 147L1498 147zM1496.1 161L1494.2 156.4L1498 156.4zM1496.1 170.5L1494.2 165.9L1498 165.9zM1496.1 180L1494.2 175.4L1498 175.4zM1496.1 189.5L1494.2 184.9L1498 184.9zM1496.1 199L1494.2 194.4L1498 194.4zM1496.1 208.4L1494.2 203.8L1498 203.8zM1496.1 217.9L1494.2 213.3L1498 213.3zM1496.1 227.4L1494.2 222.8L1498 222.8zM1496.1 236.9L1494.2 232.3L1498 232.3zM1496.1 246.4L1494.2 241.8L1498 241.8zM1496.1 255.8L1494.2 251.2L1498 251.2zM1496.1 265.3L1494.2 260.7L1498 260.7zM1496.1 274.8L1494.2 270.2L1498 270.2zM1502.4 113.6L1500.5 109L1504.3 109zM1502.4 123.1L1500.5 118.5L1504.3 118.5zM1502.4 132.6L1500.5 128L1504.3 128zM1502.4 142.1L1500.5 137.5L1504.3 137.5zM1502.4 151.6L1500.5 147L1504.3 147zM1502.4 161L1500.5 156.4L1504.3 156.4zM1502.4 170.5L1500.5 165.9L1504.3 165.9zM1502.4 180L1500.5 175.4L1504.3 175.4zM1502.4 189.5L1500.5 184.9L1504.3 184.9zM1502.4 199L1500.5 194.4L1504.3 194.4zM1502.4 208.4L1500.5 203.8L1504.3 203.8zM1502.4 217.9L1500.5 213.3L1504.3 213.3zM1502.4 227.4L1500.5 222.8L1504.3 222.8zM1502.4 236.9L1500.5 232.3L1504.3 232.3zM1502.4 246.4L1500.5 241.8L1504.3 241.8zM1502.4 255.8L1500.5 251.2L1504.3 251.2zM1502.4 265.3L1500.5 260.7L1504.3 260.7zM1508.7 113.6L1506.8 109L1510.6 109zM1508.7 123.1L1506.8 118.5L1510.6 118.5zM1508.7 132.6L1506.8 128L1510.6 128zM1508.7 142.1L1506.8 137.5L1510.6 137.5zM1508.7 151.6L1506.8 147L1510.6 147zM1508.7 161L1506.8 156.4L1510.6 156.4zM1508.7 170.5L1506.8 165.9L1510.6 165.9zM1508.7 180L1506.8 175.4L1510.6 175.4zM1508.7 189.5L1506.8 184.9L1510.6 184.9zM1508.7 199L1506.8 194.4L1510.6 194.4zM1508.7 208.4L1506.8 203.8L1510.6 203.8zM1508.7 217.9L1506.8 213.3L1510.6 213.3zM1508.7 227.4L1506.8 222.8L1510.6 222.8zM1508.7 236.9L1506.8 232.3L1510.6 232.3zM1508.7 246.4L1506.8 241.8L1510.6 241.8zM1508.7 255.8L1506.8 251.2L1510.6 251.2zM1508.7 265.3L1506.8 260.7L1510.6 260.7zM1515 113.6L1513.1 109L1516.9 109zM1515 123.1L1513.1 118.5L1516.9 118.5zM1515 132.6L1513.1 128L1516.9 128zM1515 142.1L1513.1 137.5L1516.9 137.5zM1515 151.6L1513.1 147L1516.9 147zM1515 161L1513.1 156.4L1516.9 156.4zM1515 170.5L1513.1 165.9L1516.9 165.9zM1515 180L1513.1 175.4L1516.9 175.4zM1515 189.5L1513.1 184.9L1516.9 184.9zM1515 199L1513.1 194.4L1516.9 194.4zM1515 208.4L1513.1 203.8L1516.9 203.8zM1515 217.9L1513.1 213.3L1516.9 213.3zM1515 227.4L1513.1 222.8L1516.9 222.8zM1515 236.9L1513.1 232.3L1516.9 232.3zM1515 246.4L1513.1 241.8L1516.9 241.8zM1515 255.8L1513.1 251.2L1516.9 251.2zM1521.3 123.1L1519.4 118.5L1523.2 118.5zM1521.3 132.6L1519.4 128L1523.2 128zM1521.3 142.1L1519.4 137.5L1523.2 137.5zM1521.3 151.6L1519.4 147L1523.2 147zM1521.3 161L1519.4 156.4L1523.2 156.4zM1521.3 170.5L1519.4 165.9L1523.2 165.9zM1521.3 180L1519.4 175.4L1523.2 175.4zM1521.3 189.5L1519.4 184.9L1523.2 184.9zM1521.3 199L1519.4 194.4L1523.2 194.4zM1521.3 208.4L1519.4 203.8L1523.2 203.8zM1521.3 217.9L1519.4 213.3L1523.2 213.3zM1521.3 227.4L1519.4 222.8L1523.2 222.8zM1521.3 236.9L1519.4 232.3L1523.2 232.3zM1521.3 246.4L1519.4 241.8L1523.2 241.8zM1521.3 255.8L1519.4 251.2L1523.2 251.2zM1527.6 132.6L1525.7 128L1529.5 128zM1527.6 142.1L1525.7 137.5L1529.5 137.5zM1527.6 151.6L1525.7 147L1529.5 147zM1527.6 161L1525.7 156.4L1529.5 156.4zM1527.6 170.5L1525.7 165.9L1529.5 165.9zM1527.6 180L1525.7 175.4L1529.5 175.4zM1527.6 189.5L1525.7 184.9L1529.5 184.9zM1527.6 199L1525.7 194.4L1529.5 194.4zM1527.6 208.4L1525.7 203.8L1529.5 203.8zM1527.6 217.9L1525.7 213.3L1529.5 213.3zM1527.6 227.4L1525.7 222.8L1529.5 222.8zM1527.6 236.9L1525.7 232.3L1529.5 232.3zM1527.6 246.4L1525.7 241.8L1529.5 241.8zM1533.9 142.1L1532 137.5L1535.8 137.5zM1533.9 151.6L1532 147L1535.8 147zM1533.9 161L1532 156.4L1535.8 156.4zM1533.9 170.5L1532 165.9L1535.8 165.9zM1533.9 180L1532 175.4L1535.8 175.4zM1533.9 189.5L1532 184.9L1535.8 184.9zM1533.9 199L1532 194.4L1535.8 194.4zM1533.9 208.4L1532 203.8L1535.8 203.8zM1533.9 217.9L1532 213.3L1535.8 213.3zM1533.9 227.4L1532 222.8L1535.8 222.8zM1533.9 236.9L1532 232.3L1535.8 232.3zM1540.2 151.6L1538.3 147L1542.1 147zM1540.2 161L1538.3 156.4L1542.1 156.4zM1540.2 170.5L1538.3 165.9L1542.1 165.9zM1540.2 180L1538.3 175.4L1542.1 175.4zM1540.2 189.5L1538.3 184.9L1542.1 184.9zM1540.2 199L1538.3 194.4L1542.1 194.4zM1540.2 208.4L1538.3 203.8L1542.1 203.8zM1540.2 217.9L1538.3 213.3L1542.1 213.3zM1540.2 227.4L1538.3 222.8L1542.1 222.8zM1546.5 161L1544.6 156.4L1548.4 156.4zM1546.5 170.5L1544.6 165.9L1548.4 165.9zM1546.5 180L1544.6 175.4L1548.4 175.4zM1546.5 189.5L1544.6 184.9L1548.4 184.9zM1546.5 199L1544.6 194.4L1548.4 194.4zM1546.5 208.4L1544.6 203.8L1548.4 203.8z" fill="#1c1cbc" fill-opacity="1.0"/>
<path d="M1300.2 77.6l8.8 19.3M1300.1 87.2l9.4 18.8M1300 96.7l9.8 18.2M1300 106.3l10.1 17.6M1300 115.9l10.3 16.9M1300 125.4l10.3 16.4M1300 135l9.9 15.9M1300.1 144.5l9.2 15.6M1300.3 154l7.9 15.6M1300.6 163.4l5.9 15.9M1301 172.9l3.1 16.3M1301.6 182.3l-0.5 16.5M1302.1 191.8l-3.9 16.2M1302.5 201.4l-6.5 15.8M1302.7 210.9l-8.3 15.6M1302.9 220.4l-9.4 15.7M1303 229.8l-10 16M1303 239.2l-10.3 16.5M1303 248.6l-10.3 17.1M1303 258l-10.1 17.7M1303 267.3l-9.7 18.3M1302.9 276.7l-9.2 18.9M1302.8 286.1l-8.7 19.4M1302.7 295.6l-8.1 19.8M1302.6 305l-7.5 20.2M1302.5 314.4l-7 20.5M1302.5 323.9l-6.4 20.8M1302.4 333.3l-5.9 21M1302.3 342.8l-5.4 21.1M1326.2 77.6l12.2 19.2M1326 87.2l13.3 18.3M1325.8 96.9l14.3 17.1M1325.7 106.6l15.3 15.8M1325.6 116.3l16.1 14.2M1325.5 126l16.6 12.4M1325.5 135.8l16.9 10.4M1325.5 145.6l16.7 8.4M1325.6 155.4l16.2 6.5M1325.7 165.1l15.2 5M1326 174.6l13.6 4.8M1329 183l-6.5 11.7M1330.1 193.6l-14.1 4.6M1330.3 202.9l-15.5 5.3M1330.5 212.2l-16.4 7M1330.5 221.4l-16.8 8.9M1330.5 230.5l-16.9 10.9M1330.5 239.7l-16.5 12.8M1330.4 249l-15.9 14.6M1330.3 258.2l-15.1 16.1M1330.1 267.5l-14.1 17.4M1330 276.8l-13 18.5M1329.8 286.1l-11.9 19.4M1329.6 295.5l-10.8 20.1M1329.5 304.9l-9.8 20.7M1329.3 314.3l-8.8 21.1M1329.2 323.8l-7.9 21.4M1329.1 333.2l-7.1 21.6M1328.9 342.7l-6.3 21.7M1342.8 77.5l14.5 19.8M1342.6 87.2l16.1 18.6M1342.3 96.9l17.7 17.1M1342.1 106.7l19.2 15.1M1341.9 116.5l20.5 12.6M1341.8 126.5l21.5 9.6M1341.7 136.5l21.8 6.1M1341.8 146.6l21.4 2M1342 156.7l19.9 -2.6M1342.5 167l16.7 -7.8M1343.5 177.3l10.2 -13.6M1345.2 187.2l-1.6 -16.4M1346.8 196.1l-12.3 -12.1M1347.7 204.7l-17.7 -6.4M1348.1 213.4l-20.4 -1.4M1348.2 222.2l-21.6 3.1M1348.3 231.1l-21.8 7M1348.2 240.1l-21.3 10.4M1348 249.2l-20.2 13.3M1347.8 258.3l-18.9 15.6M1347.6 267.5l-17.3 17.5M1347.1 286.1l-14.1 20M1346.9 295.4l-12.6 20.8M1346.7 304.8l-11.2 21.4M1346.5 314.2l-9.9 21.8M1346.3 323.7l-8.7 22.1M1346 342.6l-6.8 22.3M1355.1 77.4l16.2 20.8M1354.8 87l18.3 19.6M1354.4 96.8l20.5 17.8M1354.1 106.6l22.6 15.5M1353.8 116.6l24.5 12.4M1353.6 126.6l25.8 8.5M1353.5 136.8l26.4 3.7M1353.7 147.1l25.6 -1.8M1354.1 157.5l23 -7.9M1354.8 167.9l17.9 -14.1M1356.1 178.2l9.6 -19.3M1357.7 187.9l-1.4 -21.1M1359.3 197l-12 -18.2M1360.4 205.6l-19.4 -12.6M1361.1 214.2l-23.8 -6.3M1361.4 222.8l-25.9 -0.4M1361.4 231.4l-26.3 5M1361.3 240.2l-25.6 9.5M1361.1 249.2l-24 13.2M1360.8 258.2l-22.1 16.1M1360.5 267.3l-19.9 18.3M1360.2 276.6l-17.8 19.9M1359.9 285.9l-15.7 21.1M1359.6 295.3l-13.8 21.9M1359.3 304.7l-12.1 22.4M1359.1 314.1l-10.6 22.7M1358.9 323.6l-9.2 22.8M1358.7 333l-8 22.9M1358.6 342.5l-7 22.9M1361.2 77.3l17 21.6M1360.9 86.9l19.4 20.4M1360.5 96.7l21.9 18.7M1360.1 106.5l24.5 16.2M1359.8 116.5l26.8 12.8M1359.5 126.6l28.6 8.5M1359.4 136.9l29.4 3.1M1359.5 147.4l28.6 -3.3M1360 157.9l25.5 -10.3M1360.9 168.4l19.6 -17.2M1362.3 178.7l10.3 -22.6M1364 188.4l-1.5 -24.4M1365.7 197.5l-12.9 -21.5M1367 206.1l-21.4 -15.6M1367.8 214.5l-26.5 -8.6M1368.1 222.9l-29 -1.7M1368.2 231.5l-29.3 4.5M1368 240.2l-28.2 9.7M1367.7 249.1l-26.3 13.8M1367.4 258.1l-23.9 16.9M1367 267.2l-21.3 19.2M1366.6 276.5l-18.8 20.8M1366.3 285.8l-16.5 21.9M1366 295.2l-14.3 22.6M1365.7 304.6l-12.5 23M1365.2 323.5l-9.4 23.3M1365 333l-8.1 23.3M1364.9 342.5l-7 23.2M1367.4 77.1l17.8 22.7M1367 86.7l20.5 21.6M1366.7 96.6l22.9 19.4M1366.3 106.5l25.1 16.4M1366 116.5l27.2 12.7M1365.8 126.7l28.9 8.1M1365.6 137l29.9 2.5M1365.6 147.5l29.7 -4.2M1366 158.1l27.5 -12.1M1374.3 214.7l-28.3 -10M1374.6 223.1l-29.9 -2.4M1374.6 231.6l-29.7 4M1374.4 240.3l-28.5 9.4M1374.1 249.1l-26.7 13.7M1373.8 258l-24.6 17.2M1373.5 267.1l-22.4 20M1373.1 276.3l-19.8 21.9M1372.7 285.6l-17.2 22.9M1372.3 295l-14.8 23.4M1371.7 313.9l-11 23.9M1371.5 323.4l-9.5 23.8M1371.3 332.9l-8.2 23.7M1371.2 342.4l-7 23.6M1373.6 76.9l18.4 23.7M1373.3 86.7l20.5 21.9M1373 96.5l22.8 19.5M1372.6 106.5l25 16.5M1372.3 116.5l27.1 12.8M1380.7 240.2l-28.5 9.4M1380.4 249.1l-26.6 13.8M1380.1 258l-24.5 17.4M1379.1 285.4l-17.8 24.1M1378.7 294.9l-15.2 24.5M1378.3 304.3l-13 24.6M1377.6 332.8l-8.1 24.2M1377.4 342.3l-7 24M1380 76.9l18 24M1379.7 86.7l20.2 22.2M1379.3 96.5l22.5 19.9M1378.4 126.6l28.7 8.7M1386.9 240.2l-28.3 9.9M1386 267l-21.9 20.5M1385.6 276.2l-19.6 22.7M1385.3 285.4l-17.5 24.4M1385 294.7l-15.5 25.7M1384.7 304.2l-13.1 25.6M1384.4 313.7l-11.1 25.4M1384.1 323.2l-9.4 25.1M1383.7 342.3l-6.8 24.4M1386.4 76.8l17.5 24.4M1386.1 86.6l19.7 22.7M1385 116.3l26.5 14.1M1392.2 266.9l-21.4 21.1M1391.9 276.1l-19.1 23.1M1391.5 285.3l-17 24.7M1391 304l-13.1 26.7M1390.6 313.6l-11 26.2M1390.4 323.1l-9.3 25.8M1390.2 332.7l-7.8 25.3M1390 342.2l-6.7 24.9M1392.8 76.8l16.8 24.9M1391.8 106.2l23.6 18.6M1398.4 266.8l-20.6 21.8M1397.7 285.3l-16.3 25.2M1397.5 294.6l-14.3 26.4M1397.2 303.9l-12.6 27.2M1396.9 313.4l-10.7 27.2M1396.6 323l-9 26.5M1396.4 332.6l-7.6 25.9M1396.3 342.1l-6.4 25.3M1404.2 275.9l-17.4 24.4M1403.9 285.2l-15.4 25.8M1403.6 294.5l-13.5 26.8M1403.4 303.9l-11.8 27.6M1403.2 313.3l-10.4 28.2M1402.9 322.9l-8.6 27.3M1402.7 332.5l-7.2 26.5M1402.5 342.1l-6.1 25.8M1405 96l19 23.2M1410.7 266.6l-18.5 23.7M1410.1 285.1l-14.3 26.4M1409.5 303.8l-11 27.9M1409.3 313.2l-9.6 28.4M1409.1 322.8l-8.1 28M1408.9 332.4l-6.7 27.1M1408.7 342l-5.7 26.3M1411.9 86.1l15.4 25.7M1416.7 266.4l-17 24.7M1415.9 294.4l-11.4 27.7M1415.7 303.8l-10 28.3M1415.5 313.2l-8.7 28.7M1415.3 322.7l-7.5 28.8M1415.1 332.3l-6.2 27.7M1415 341.9l-5.2 26.7M1418.7 76.4l12.1 27.5M1422.8 266.2l-15.3 25.8M1422.5 275.6l-13.4 26.9M1421.7 313.2l-7.7 29M1421.5 322.6l-6.7 29.2M1421.3 332.2l-5.6 28.2M1421.2 341.9l-4.6 27.1M1425 85.9l12 27.5M1428.5 275.4l-11.6 27.7M1427.9 303.7l-7.6 29M1427.8 313.1l-6.6 29.3M1427.7 322.6l-5.7 29.4M1427.5 332.2l-4.8 28.7M1427.4 341.8l-4 27.5M1431.8 76.2l8.7 28.7M1434.2 294.2l-7.2 29.1M1434 303.6l-6.3 29.3M1433.9 313.1l-5.4 29.5M1433.8 322.5l-4.7 29.6M1433.7 332.1l-4 29.2M1440.4 284.7l-6.5 29.3M1440.1 303.6l-4.9 29.6M1440 313l-4.2 29.7M1439.9 322.5l-3.6 29.8M1439.9 332l-3.1 29.5M1439.8 341.7l-2.6 28.1M1446.2 303.5l-3.4 29.8M1446.1 313l-2.9 29.9M1446.1 322.5l-2.5 29.9M1446 332l-2.2 29.8M1446 341.7l-1.8 28.3M1451.6 76l2.5 29.9M1452.3 294.1l-2.1 29.9M1452.2 313l-1.6 30M1452.2 322.5l-1.4 30M1452.2 332l-1.2 30M1452.1 341.7l-1 28.5M1458.2 76l0.3 30M1458.3 294l-0.3 30M1458.3 313l-0.2 30M1458.3 322.5l-0.2 30M1458.3 341.7l-0.1 28.5M1464.3 275.1l2.1 29.9M1464.3 284.6l1.8 29.9M1464.4 294l1.5 30M1464.4 313l1.1 30M1464.5 322.5l1 30M1464.5 332l0.9 30M1464.5 341.7l0.7 28.5M1470.3 284.6l3.9 29.8M1470.5 313l2.5 29.9M1470.6 322.5l2.1 29.9M1470.6 332l1.9 29.9M1470.7 341.7l1.5 28.4M1478.1 76.1l-6.1 29.4M1476.6 313l3.8 29.8M1476.7 322.5l3.3 29.8M1476.9 341.7l2.3 28.2M1484.7 76.2l-8.1 28.9M1484.9 85.7l-9.3 28.5M1482.6 303.6l5.8 29.4M1482.7 313.1l5.1 29.6M1482.8 322.5l4.4 29.7M1482.9 332.1l3.7 29.3M1483 341.7l3.1 28M1491.3 76.3l-9.9 28.3M1488.4 284.8l9.6 28.4M1488.9 313.1l6.2 29.3M1489 322.6l5.4 29.5M1489.2 341.8l3.8 27.6M1497.8 76.3l-11.6 27.7M1498.1 85.9l-13.3 26.9M1494.6 294.3l9.8 28.4M1494.8 303.7l8.5 28.8M1495 313.1l7.4 29.1M1495.1 322.6l6.4 29.3M1495.3 332.2l5.3 28.4M1495.4 341.9l4.4 27.3M1501 303.8l9.6 28.4M1501.1 313.2l8.4 28.8M1501.3 322.6l7.3 29M1501.5 332.3l6 27.8M1501.7 341.9l5 26.9M1506.3 275.8l15.9 25.4M1506.9 294.4l12.2 27.4M1507.1 303.8l10.7 28M1507.3 313.2l9.3 28.5M1507.5 322.7l7.9 28.3M1507.7 332.4l6.6 27.3M1507.9 342l5.5 26.4M1517.3 76.7l-15.6 25.6M1511.8 257.5l21.6 20.8M1512.4 275.9l17.1 24.6M1512.7 285.2l15.1 25.9M1513 294.5l13.2 26.9M1513.5 313.3l10.1 28.2M1513.9 332.5l7.1 26.7M1514.1 342l5.9 26M1523.8 76.7l-16.5 25M1524.8 106.1l-23.3 18.9M1517.9 257.7l22.7 19.6M1518.9 285.3l16 25.4M1519.2 294.6l14.1 26.5M1519.4 303.9l12.4 27.3M1519.7 313.4l10.6 27.5M1520 323l8.9 26.8M1520.2 332.5l7.5 26.1M1520.4 342.1l6.3 25.5M1530.2 76.8l-17.3 24.5M1530.5 86.6l-19.4 22.8M1531.5 116.3l-26.3 14.4M1524.8 276.1l18.9 23.3M1525.1 285.3l16.8 24.9M1525.4 294.6l14.8 26.1M1525.6 304l13 27M1526 313.5l10.9 26.5M1526.4 332.6l7.8 25.5M1536.6 76.9l-17.9 24.1M1536.9 86.6l-20 22.3M1537.2 96.5l-22.3 20.1M1530.6 267l21.7 20.7M1531 276.2l19.5 22.8M1531.3 285.4l17.3 24.5M1531.6 294.7l15.3 25.8M1531.9 304.1l13.1 25.9M1532.2 313.7l11.1 25.6M1532.5 323.2l9.4 25.3M1532.7 332.7l8 24.9M1532.9 342.3l6.8 24.6M1542.9 76.9l-18.3 23.8M1543.3 86.7l-20.4 22M1543.6 96.5l-22.7 19.6M1543.9 106.4l-25 16.7M1544.3 116.5l-27.1 12.9M1544.5 126.7l-28.8 8.3M1535.7 231.6l29.7 4.1M1535.9 240.2l28.4 9.5M1536.2 249l26.6 13.9M1536.5 258l24.4 17.5M1536.9 267.1l22.1 20.3M1537.2 276.2l19.9 22.5M1537.5 285.4l17.7 24.2M1537.9 294.8l15.3 24.8M1538.2 304.3l13 24.9M1538.5 313.8l11.1 24.8M1538.8 323.3l9.5 24.6M1539 332.8l8.1 24.4M1539.2 342.3l6.9 24.1M1549.2 77l-18 23M1549.6 86.7l-20.7 21.8M1549.9 96.6l-22.9 19.4M1550.3 106.5l-25.1 16.4M1550.6 116.5l-27.2 12.7M1550.8 126.7l-28.9 8.1M1551 137l-29.9 2.5M1551 147.5l-29.7 -4.3M1542.3 214.7l28.2 -10.1M1542 223.1l29.9 -2.5M1542 231.6l29.7 4M1542.2 240.3l28.5 9.3M1542.5 249.1l26.7 13.7M1542.8 258l24.6 17.2M1543.2 267.1l22.3 20M1543.5 276.2l20.1 22.3M1543.9 285.6l17.4 23.2M1544.6 304.4l12.8 24M1544.8 313.9l11 24.1M1545.1 323.4l9.5 24M1545.3 332.9l8.1 23.9M1545.4 342.4l7 23.7M1555.4 77.2l-17.3 21.9M1555.8 86.9l-19.8 20.8M1556.2 96.6l-22.4 19M1556.6 106.5l-25.1 16.5M1556.9 116.5l-27.1 12.8M1557.1 126.6l-28.8 8.4M1557.3 136.9l-29.9 2.9M1557.3 147.4l-29.7 -3.8M1556.8 158l-26.6 -11.1M1555.8 168.6l-20.3 -18.3M1554.4 178.9l-10.6 -23.9M1552.6 188.6l1.6 -25.6M1550.8 197.7l13.3 -22.7M1549.5 206.2l22.2 -16.6M1548.7 214.6l27.6 -9.3M1548.3 223l29.9 -2M1548.3 231.5l29.7 4.3M1548.5 240.2l28.4 9.6M1548.8 249.1l26.6 13.8M1549.1 258l24.5 17.2M1549.5 267.2l21.8 19.5M1549.9 276.4l19.1 21.1M1550.3 285.7l16.7 22.2M1550.9 304.5l12.6 23.2M1551.2 314l10.9 23.4M1551.4 323.5l9.4 23.5M1551.6 332.9l8.1 23.4M1551.7 342.4l7.1 23.4M1561.6 77.3l-16.5 21.1M1561.9 87l-18.7 19.8M1562.2 96.7l-20.9 18.1M1562.6 106.6l-23.2 15.7M1562.9 116.5l-25.2 12.5M1563.1 126.6l-26.7 8.4M1563.2 136.9l-27.2 3.5M1563.1 147.2l-26.4 -2.3M1562.7 157.6l-23.7 -8.7M1561.9 168.1l-18.3 -15.1M1560.6 178.3l-9.8 -20.3M1558.9 188.1l1.4 -22M1557.3 197.1l12.2 -19.2M1556.1 205.8l20 -13.5M1555.4 214.3l24.6 -7.1M1555.1 222.8l26.8 -0.8M1555 231.5l27.2 4.8M1555.1 240.2l26.4 9.5M1555.4 249.1l24.7 13.4M1556 267.3l20.4 18.6M1556.4 276.6l18.1 20.2M1557 295.2l14 22.1M1557.3 304.6l12.2 22.6M1557.5 314.1l10.6 22.8M1557.7 323.5l9.3 23M1557.9 333l8.1 23M1558 342.5l7 23M1577.8 77.5l-14.2 19.7M1578.1 87.2l-15.8 18.5M1578.3 96.9l-17.3 17M1578.5 106.7l-18.7 15.1M1578.7 116.5l-19.9 12.7M1578.8 126.4l-20.8 9.9M1578.9 136.4l-21.2 6.5M1578.8 146.4l-20.8 2.8M1578.6 156.6l-19.5 -1.5M1578.2 166.8l-16.7 -6.5M1577.3 177.2l-10.7 -12.5M1575.4 187.1l1.8 -15.8M1573.8 195.9l12.7 -11M1573.1 204.5l17.6 -5.2M1572.7 213.3l19.9 -0.4M1572.6 222.1l21 3.7M1572.5 231.1l21.1 7.4M1572.6 240.1l20.6 10.6M1572.7 249.1l19.7 13.4M1572.9 258.3l18.4 15.6M1573.2 267.5l16.9 17.4M1573.4 276.8l15.4 18.8M1573.6 286.1l13.8 19.9M1573.8 295.4l12.4 20.7M1574 304.8l11 21.3M1574.4 323.7l8.7 22M1574.6 333.1l7.6 22.1M1574.7 342.6l6.8 22.2M1594.5 77.6l-11.9 19.2M1594.6 87.2l-12.9 18.3M1594.8 96.9l-13.9 17.2M1594.9 106.6l-14.8 15.9M1595 116.3l-15.6 14.4M1595.1 126l-16.1 12.7M1595.1 135.7l-16.3 11M1595.1 145.5l-16.1 9.2M1595 155.2l-15.6 7.6M1594.9 164.8l-14.5 6.7M1594.5 174.1l-12.3 7.8M1592.2 182.8l3.5 13.3M1590.7 193.2l13.1 7.1M1590.5 202.7l14.8 6.8M1590.3 212l15.7 8M1590.3 221.3l16.2 9.6M1590.3 230.5l16.3 11.4M1590.3 239.7l16 13.2M1590.4 248.9l15.4 14.8M1590.5 258.2l14.6 16.2M1590.6 267.5l13.7 17.5M1590.8 276.8l12.7 18.5M1591 286.2l11.6 19.4M1591.1 295.5l10.6 20.1M1591.3 304.9l9.6 20.6M1591.4 314.4l8.7 21M1591.5 323.8l7.8 21.3M1591.7 333.2l7 21.5M1591.8 342.7l6.3 21.6M1606.2 77.6l-10.4 19.2M1606.3 87.2l-11.1 18.5M1606.4 96.8l-11.8 17.7M1606.5 106.4l-12.4 16.7M1606.5 116.1l-12.8 15.7M1606.6 125.7l-13.1 14.7M1606.6 135.3l-13 13.8M1606.5 144.9l-12.6 13M1606.3 154.4l-11.6 12.7M1606 163.8l-9.6 13.2M1605.4 173.1l-5.7 14.5M1604.5 182.5l0.9 15.3M1603.6 192.1l6.9 14.1M1603.1 201.8l10.2 13M1602.8 211.3l11.9 12.7M1602.7 220.7l12.7 13.2M1602.6 230.1l13.1 14M1602.6 239.4l13 15M1602.7 248.7l12.8 16M1602.8 258.1l12.3 17M1602.9 267.4l11.6 17.9M1603 276.8l10.9 18.7M1603.1 286.2l10.2 19.3M1603.2 295.6l9.4 19.9M1603.3 305l8.6 20.3M1603.4 314.4l7.8 20.7M1603.5 323.8l7.1 21M1603.6 333.3l6.5 21.2M1603.7 342.7l5.8 21.3M1621.3 77.6l-8.5 19.3M1621.3 87.2l-9 18.8M1621.4 96.7l-9.4 18.3M1621.4 106.3l-9.6 17.7M1621.5 115.8l-9.8 17.2M1621.5 125.4l-9.7 16.7M1621.4 134.9l-9.3 16.3M1621.3 144.5l-8.5 16M1621.1 153.9l-7.3 16M1620.8 163.4l-5.4 16.3M1620.4 172.8l-2.7 16.6M1619.9 182.3l0.4 16.7M1619.5 191.8l3.5 16.5M1619.1 201.3l5.9 16.2M1618.9 210.8l7.7 16M1618.7 220.3l8.8 16.1M1618.6 229.7l9.4 16.4M1618.5 239.1l9.7 16.8M1618.5 248.5l9.8 17.3M1618.6 257.9l9.6 17.9M1618.6 267.3l9.3 18.4M1618.7 276.7l8.9 19M1618.7 286.1l8.4 19.4M1618.8 295.6l7.9 19.8M1618.9 305l7.3 20.2M1619 314.4l6.8 20.5M1619.1 323.9l6.2 20.7M1619.1 333.3l5.7 20.9M1619.2 342.8l5.2 21.1" fill="none" stroke="#4444e4" stroke-opacity="0.55" stroke-width="1.0"/><path d="M1309 96.9L1306 93.9L1308.7 92.6zM1309.5 105.9L1306.3 103L1309 101.7zM1309.8 114.9L1306.6 112.1L1309.3 110.7zM1310.1 123.9L1306.8 121.2L1309.4 119.7zM1310.3 132.8L1306.9 130.2L1309.5 128.6zM1310.2 141.8L1306.8 139.2L1309.4 137.6zM1309.9 150.9L1306.5 148.3L1309.1 146.7zM1309.3 160.1L1306 157.4L1308.6 155.9zM1308.3 169.6L1305.1 166.7L1307.8 165.4zM1306.6 179.3L1303.7 176.1L1306.6 175.1zM1304.1 189.2L1301.9 185.5L1304.8 185zM1301.1 198.8L1299.7 194.7L1302.7 194.8zM1298.2 208L1297.7 203.8L1300.6 204.5zM1296 217.2L1296.1 212.9L1298.9 214zM1294.4 226.5L1295 222.2L1297.6 223.6zM1293.5 236L1294.3 231.8L1296.8 233.4zM1293 245.8L1293.8 241.6L1296.4 243.2zM1292.8 255.7L1293.6 251.5L1296.1 253.1zM1292.8 265.7L1293.5 261.5L1296.1 263zM1292.9 275.7L1293.6 271.5L1296.2 273zM1293.3 285.7L1293.8 281.5L1296.5 282.9zM1293.7 295.7L1294.1 291.4L1296.8 292.7zM1294.1 305.6L1294.4 301.3L1297.1 302.5zM1294.6 315.4L1294.7 311.1L1297.5 312.3zM1295.1 325.2L1295.1 320.9L1297.9 322zM1295.6 334.9L1295.4 330.7L1298.3 331.6zM1296.1 344.6L1295.8 340.4L1298.7 341.2zM1296.5 354.3L1296.2 350L1299 350.8zM1297 363.9L1296.5 359.6L1299.4 360.4zM1338.4 96.8L1335 94.3L1337.5 92.7zM1339.3 105.5L1335.7 103.2L1338.2 101.4zM1340.2 114L1336.5 111.9L1338.8 110zM1341 122.3L1337.1 120.5L1339.3 118.4zM1341.7 130.5L1337.7 128.9L1339.7 126.7zM1342.1 138.4L1338 137.2L1339.8 134.8zM1342.3 146.2L1338.2 145.4L1339.7 142.9zM1342.2 154L1338 153.6L1339.3 150.9zM1341.8 161.9L1337.5 161.8L1338.6 159zM1340.9 170.1L1336.7 170.2L1337.6 167.4zM1339.6 179.4L1335.3 179.5L1336.3 176.6zM1322.5 194.7L1323.1 190.5L1325.7 192zM1316 198.1L1319.3 195.5L1320.3 198.3zM1314.8 208.3L1318.1 205.5L1319.1 208.4zM1314.1 219.1L1317.2 216.2L1318.4 219zM1313.7 230.3L1316.5 227.1L1317.9 229.7zM1313.7 241.4L1316.2 238L1317.8 240.5zM1314 252.6L1316.2 248.9L1318 251.3zM1314.5 263.5L1316.4 259.7L1318.4 261.9zM1315.2 274.3L1316.8 270.4L1319 272.4zM1316 284.9L1317.4 280.9L1319.7 282.8zM1316.9 295.3L1318 291.2L1320.5 292.9zM1317.9 305.6L1318.7 301.4L1321.2 302.9zM1318.8 315.6L1319.4 311.4L1322 312.8zM1319.7 325.6L1320 321.3L1322.7 322.6zM1320.5 335.4L1320.7 331.1L1323.4 332.3zM1321.3 345.1L1321.3 340.9L1324.1 341.9zM1322 354.8L1321.8 350.5L1324.7 351.5zM1322.6 364.4L1322.3 360.1L1325.2 361zM1357.3 97.3L1353.8 95L1356.2 93.2zM1358.7 105.8L1354.9 103.8L1357.2 101.8zM1360.1 114L1356.1 112.3L1358.2 110.1zM1361.4 121.7L1357.3 120.5L1359.1 118.1zM1362.5 129.1L1358.3 128.3L1359.8 125.7zM1363.2 136L1359 135.8L1360.2 133zM1363.5 142.5L1359.3 142.9L1360.1 140zM1363.2 148.6L1359 149.7L1359.3 146.7zM1361.9 154.2L1358.1 156.2L1357.7 153.2zM1359.2 159.2L1356.2 162.3L1354.9 159.5zM1353.7 163.8L1352.5 167.9L1350.1 166.1zM1343.6 170.9L1345.5 174.7L1342.5 175zM1334.5 183.9L1338.4 185.7L1336.3 187.8zM1330 198.3L1334.2 198.2L1333.2 201.1zM1327.7 212.1L1331.8 210.8L1331.6 213.8zM1326.7 225.3L1330.4 223.3L1330.8 226.2zM1326.5 238.1L1329.8 235.5L1330.7 238.3zM1326.9 250.5L1329.9 247.4L1331.2 250.1zM1327.8 262.4L1330.3 259L1332 261.5zM1329 273.9L1331.1 270.2L1333 272.5zM1330.3 285L1332 281.1L1334.1 283.2zM1333 306.1L1334.1 302L1336.5 303.7zM1334.3 316.3L1335.1 312.1L1337.6 313.6zM1335.5 326.2L1336 322L1338.7 323.4zM1336.6 336L1336.9 331.8L1339.6 333zM1337.6 345.7L1337.6 341.5L1340.4 342.6zM1339.2 364.9L1338.9 360.6L1341.8 361.5zM1371.3 98.2L1367.6 96L1370 94.1zM1373.1 106.6L1369.2 104.7L1371.4 102.7zM1374.9 114.6L1370.9 113.1L1372.9 110.9zM1376.7 122.1L1372.6 121.1L1374.2 118.6zM1378.3 129L1374.1 128.5L1375.4 125.8zM1379.5 135.1L1375.2 135.3L1376.1 132.4zM1379.9 140.6L1375.7 141.5L1376.2 138.5zM1379.2 145.3L1375.4 147.1L1375.1 144.1zM1377 149.6L1373.7 152.4L1372.8 149.5zM1372.7 153.8L1370.5 157.5L1368.6 155.1zM1365.7 158.9L1365.2 163.2L1362.5 161.8zM1356.3 166.9L1358.1 170.8L1355.1 171zM1347.3 178.8L1350.8 181.3L1348.3 183zM1341 193L1345.1 194L1343.5 196.5zM1337.2 207.8L1341.5 207.4L1340.7 210.3zM1335.5 222.4L1339.5 221L1339.4 224zM1335.1 236.4L1338.8 234.2L1339.3 237.2zM1335.8 249.8L1339 247L1340 249.8zM1337.1 262.4L1339.8 259.1L1341.3 261.8zM1338.7 274.3L1341.1 270.8L1342.9 273.2zM1340.6 285.7L1342.5 281.9L1344.5 284.1zM1342.4 296.5L1343.9 292.5L1346.2 294.5zM1344.1 307L1345.3 302.9L1347.7 304.7zM1345.8 317.1L1346.6 312.9L1349.2 314.5zM1347.2 327L1347.8 322.8L1350.4 324.2zM1348.5 336.8L1348.9 332.5L1351.6 333.8zM1349.7 346.4L1349.8 342.1L1352.6 343.2zM1350.7 355.9L1350.6 351.7L1353.4 352.6zM1351.5 365.4L1351.3 361.1L1354.1 362zM1378.3 98.9L1374.6 96.7L1377 94.8zM1380.3 107.3L1376.5 105.5L1378.6 103.4zM1382.5 115.3L1378.4 113.9L1380.4 111.6zM1384.6 122.7L1380.4 121.7L1382.1 119.2zM1386.6 129.3L1382.3 129L1383.6 126.3zM1388.1 135.1L1383.8 135.4L1384.7 132.5zM1388.8 140L1384.6 141.1L1384.9 138.1zM1388.1 144L1384.3 146L1383.9 143zM1385.5 147.6L1382.4 150.4L1381.2 147.7zM1380.4 151.2L1378.4 154.9L1376.5 152.7zM1372.5 156.1L1372.2 160.3L1369.5 159.1zM1362.5 164L1364.3 167.9L1361.3 168.1zM1352.8 176L1356.2 178.6L1353.6 180.2zM1345.6 190.5L1349.7 191.6L1348 194.1zM1341.2 205.9L1345.5 205.7L1344.6 208.6zM1339.2 221.3L1343.3 220L1343.1 223zM1338.9 236L1342.6 233.9L1343.1 236.9zM1339.8 249.9L1343.1 247.2L1344.1 250zM1341.5 262.8L1344.3 259.7L1345.7 262.3zM1343.5 275L1345.9 271.4L1347.7 273.9zM1345.7 286.4L1347.7 282.6L1349.7 284.8zM1347.8 297.2L1349.4 293.3L1351.6 295.3zM1349.8 307.6L1351 303.6L1353.4 305.4zM1351.6 317.7L1352.5 313.5L1355 315.2zM1353.2 327.6L1353.8 323.3L1356.4 324.8zM1355.8 346.8L1355.9 342.5L1358.7 343.6zM1356.9 356.3L1356.8 352L1359.6 353zM1357.8 365.7L1357.5 361.4L1360.4 362.3zM1385.2 99.8L1381.6 97.5L1383.9 95.7zM1387.5 108.3L1383.7 106.4L1385.9 104.4zM1389.6 115.9L1385.5 114.5L1387.5 112.2zM1391.4 122.9L1387.3 122L1388.9 119.4zM1393.2 129.2L1388.9 128.9L1390.2 126.2zM1394.6 134.8L1390.4 135.2L1391.2 132.3zM1395.5 139.5L1391.4 140.7L1391.6 137.7zM1395.3 143.3L1391.6 145.3L1391.2 142.4zM1393.5 146.1L1390.4 149.1L1389.2 146.3zM1346.1 204.7L1350.3 204.6L1349.3 207.5zM1344.7 220.7L1348.8 219.5L1348.5 222.5zM1344.8 235.6L1348.6 233.6L1349 236.6zM1345.9 249.6L1349.2 247L1350.1 249.8zM1347.4 262.8L1350.3 259.6L1351.7 262.3zM1349.2 275.2L1351.6 271.7L1353.3 274.2zM1351.1 287.1L1353.1 283.3L1355.1 285.6zM1353.2 298.2L1354.8 294.2L1357 296.2zM1355.5 308.5L1356.7 304.4L1359.1 306.2zM1357.5 318.5L1358.4 314.3L1360.9 315.9zM1360.8 337.8L1361.1 333.5L1363.8 334.8zM1362.1 347.2L1362.1 343L1364.9 344.1zM1363.2 356.6L1363.1 352.4L1365.9 353.4zM1364.1 366L1363.8 361.7L1366.7 362.6zM1392 100.7L1388.4 98.4L1390.7 96.6zM1393.8 108.6L1390 106.7L1392.2 104.6zM1395.8 116.1L1391.7 114.6L1393.7 112.3zM1397.7 123L1393.5 122.1L1395.2 119.5zM1399.5 129.3L1395.2 129L1396.5 126.3zM1352.2 249.7L1355.5 247L1356.5 249.8zM1353.8 262.9L1356.6 259.7L1358 262.4zM1355.6 275.4L1358 271.8L1359.7 274.3zM1361.3 309.5L1362.4 305.4L1364.9 307.2zM1363.5 319.3L1364.3 315.2L1366.9 316.7zM1365.4 328.9L1365.9 324.7L1368.6 326.1zM1369.5 357.1L1369.3 352.8L1372.2 353.7zM1370.5 366.4L1370.1 362.1L1373 362.9zM1398 100.9L1394.4 98.6L1396.8 96.8zM1399.9 108.8L1396.1 106.9L1398.3 104.9zM1401.8 116.4L1397.8 114.8L1399.8 112.6zM1407.1 135.3L1402.8 135.6L1403.7 132.7zM1358.6 250.1L1361.9 247.4L1362.9 250.2zM1364.1 287.5L1366 283.7L1368 285.9zM1366 298.9L1367.5 294.9L1369.8 296.8zM1367.8 309.8L1369 305.7L1371.4 307.4zM1369.5 320.4L1370.3 316.2L1372.9 317.7zM1371.6 329.8L1372.1 325.5L1374.7 326.9zM1373.3 339.1L1373.5 334.8L1376.3 336zM1374.7 348.3L1374.7 344L1377.5 345.1zM1376.9 366.7L1376.5 362.5L1379.4 363.3zM1403.9 101.2L1400.3 98.8L1402.7 97.1zM1405.7 109.2L1402 107.2L1404.2 105.2zM1411.5 130.4L1407.3 129.8L1408.7 127.2zM1370.8 288L1372.6 284.1L1374.7 286.3zM1372.8 299.2L1374.2 295.2L1376.5 297.1zM1374.6 310.1L1375.6 305.9L1378.1 307.6zM1377.9 330.7L1378.3 326.5L1381 327.8zM1379.7 339.8L1379.8 335.5L1382.6 336.7zM1381.1 348.9L1381.1 344.6L1383.9 345.6zM1382.3 358L1382.1 353.7L1385 354.6zM1383.3 367.1L1382.9 362.8L1385.8 363.6zM1409.6 101.6L1406.1 99.2L1408.6 97.5zM1415.3 124.7L1411.2 123.4L1413.1 121.1zM1377.8 288.6L1379.4 284.7L1381.6 286.7zM1381.5 310.5L1382.4 306.3L1384.9 307.9zM1383.1 320.9L1383.7 316.7L1386.3 318.1zM1384.6 331.2L1384.9 326.9L1387.6 328.2zM1386.2 340.6L1386.3 336.3L1389 337.4zM1387.7 349.5L1387.5 345.2L1390.4 346.2zM1388.9 358.5L1388.6 354.2L1391.4 355.1zM1389.9 367.5L1389.4 363.2L1392.3 364zM1386.8 300.3L1387.9 296.2L1390.3 297.9zM1388.5 310.9L1389.3 306.7L1391.9 308.3zM1390.1 321.3L1390.6 317.1L1393.2 318.4zM1391.5 331.4L1391.7 327.2L1394.5 328.4zM1392.8 341.4L1392.8 337.2L1395.6 338.2zM1394.3 350.2L1394.1 345.9L1396.9 346.8zM1395.5 359L1395.1 354.7L1398 355.5zM1396.4 367.9L1395.9 363.6L1398.8 364.3zM1424.1 119.2L1420.4 117L1422.7 115.1zM1392.2 290.2L1393.5 286.1L1395.9 288zM1395.7 311.5L1396.3 307.2L1398.9 308.7zM1398.6 331.8L1398.6 327.5L1401.4 328.6zM1399.8 341.7L1399.6 337.4L1402.5 338.4zM1401 350.8L1400.7 346.6L1403.6 347.4zM1402.2 359.5L1401.7 355.2L1404.6 356zM1403.1 368.3L1402.5 364L1405.4 364.7zM1427.3 111.8L1424 109.2L1426.5 107.6zM1399.8 291.1L1400.8 287L1403.3 288.7zM1404.5 322.1L1404.6 317.8L1407.4 319zM1405.7 332.1L1405.6 327.8L1408.5 328.8zM1406.8 341.9L1406.5 337.6L1409.4 338.5zM1407.8 351.5L1407.4 347.2L1410.3 348zM1408.9 360L1408.3 355.7L1411.3 356.4zM1409.8 368.7L1409.1 364.4L1412 365zM1430.8 103.8L1427.8 100.8L1430.5 99.6zM1407.5 292L1408.3 287.8L1410.8 289.4zM1409.1 302.4L1409.6 298.2L1412.3 299.5zM1414 342.1L1413.5 337.9L1416.4 338.7zM1414.8 351.8L1414.3 347.6L1417.2 348.3zM1415.8 360.4L1415.1 356.2L1418 356.8zM1416.6 369L1415.8 364.8L1418.7 365.3zM1437 113.3L1434 110.3L1436.8 109.1zM1416.9 303.1L1417.1 298.8L1419.9 300zM1420.3 332.7L1419.9 328.4L1422.8 329.2zM1421.2 342.4L1420.6 338.1L1423.5 338.8zM1421.9 352L1421.2 347.8L1424.2 348.4zM1422.7 360.9L1421.9 356.7L1424.8 357.2zM1423.4 369.3L1422.5 365.2L1425.5 365.6zM1440.5 104.9L1437.9 101.5L1440.7 100.7zM1426.9 323.3L1426.4 319L1429.4 319.8zM1427.8 333L1427.1 328.7L1430.1 329.4zM1428.5 342.6L1427.7 338.4L1430.7 338.9zM1429.1 352.2L1428.2 348L1431.2 348.4zM1429.7 361.3L1428.8 357.1L1431.7 357.5zM1433.9 314L1433.3 309.7L1436.2 310.4zM1435.3 333.2L1434.4 329L1437.4 329.5zM1435.8 342.7L1434.9 338.6L1437.9 339zM1436.3 352.3L1435.3 348.1L1438.3 348.5zM1436.8 361.6L1435.7 357.4L1438.7 357.7zM1437.2 369.9L1436.1 365.7L1439.1 366zM1442.8 333.4L1441.8 329.2L1444.8 329.6zM1443.2 342.9L1442.1 338.8L1445.1 339zM1443.6 352.4L1442.4 348.3L1445.4 348.5zM1443.9 361.8L1442.7 357.7L1445.6 357.9zM1444.2 370L1442.9 365.9L1445.9 366.1zM1454.2 105.9L1452.3 102L1455.3 101.8zM1450.2 324L1449 319.9L1452 320.1zM1450.7 343L1449.4 338.9L1452.4 339zM1450.8 352.5L1449.5 348.4L1452.5 348.5zM1451 361.9L1449.7 357.9L1452.7 358zM1451.2 370.1L1449.8 366.1L1452.8 366.2zM1458.6 106L1457 102L1460 102zM1458.1 324L1456.6 320L1459.6 320.1zM1458.1 343L1456.6 339L1459.6 339zM1458.1 352.5L1456.7 348.5L1459.7 348.5zM1458.2 370.2L1456.7 366.2L1459.7 366.2zM1466.3 305L1464.6 301.1L1467.6 300.9zM1466.1 314.5L1464.4 310.6L1467.4 310.4zM1465.9 324L1464.2 320.1L1467.2 319.9zM1465.6 343L1463.9 339L1466.9 338.9zM1465.4 352.5L1463.8 348.5L1466.8 348.4zM1465.3 361.9L1463.7 358L1466.7 357.9zM1465.2 370.2L1463.6 366.2L1466.6 366.1zM1474.2 314.3L1472.2 310.6L1475.1 310.2zM1473 342.9L1471.2 339.1L1474.2 338.8zM1472.7 352.4L1470.9 348.5L1473.9 348.3zM1472.5 361.9L1470.7 358L1473.7 357.8zM1472.2 370.1L1470.5 366.2L1473.5 366zM1472 105.5L1471.4 101.2L1474.3 101.9zM1480.4 342.8L1478.4 339L1481.4 338.6zM1480 352.3L1478.1 348.5L1481 348.2zM1479.2 369.9L1477.3 366.1L1480.3 365.8zM1476.7 105.1L1476.3 100.8L1479.2 101.6zM1475.6 114.2L1475.4 110L1478.3 110.9zM1488.5 333L1486.2 329.4L1489.2 328.8zM1487.8 342.6L1485.6 338.9L1488.6 338.4zM1487.2 352.2L1485.2 348.5L1488.1 348zM1486.7 361.4L1484.7 357.6L1487.7 357.2zM1486.1 369.7L1484.2 365.9L1487.2 365.6zM1481.4 104.6L1481.3 100.3L1484.1 101.3zM1497.9 313.2L1495.2 309.9L1498.1 309zM1495.1 342.4L1492.8 338.8L1495.7 338.2zM1494.4 352.1L1492.2 348.4L1495.2 347.9zM1493 369.4L1491 365.7L1494 365.3zM1486.3 104L1486.4 99.8L1489.2 100.9zM1484.8 112.8L1485.2 108.6L1487.9 109.9zM1504.4 322.7L1501.7 319.4L1504.5 318.4zM1503.3 332.5L1500.7 329.1L1503.6 328.2zM1502.4 342.2L1499.9 338.7L1502.8 338zM1501.5 351.9L1499.2 348.3L1502.1 347.7zM1500.6 360.6L1498.4 356.9L1501.4 356.4zM1499.9 369.1L1497.7 365.4L1500.7 364.9zM1510.6 332.2L1507.9 328.9L1510.7 327.9zM1509.5 342L1507 338.6L1509.8 337.7zM1508.6 351.7L1506.2 348.2L1509.1 347.4zM1507.5 360.1L1505.2 356.5L1508.1 355.9zM1506.6 368.8L1504.4 365.1L1507.4 364.6zM1522.2 301.2L1518.8 298.6L1521.4 297zM1519.1 321.8L1516.1 318.8L1518.8 317.6zM1517.8 331.9L1514.9 328.6L1517.8 327.6zM1516.6 341.7L1513.9 338.4L1516.8 337.5zM1515.4 351L1512.9 347.6L1515.8 346.8zM1514.3 359.6L1511.9 356.1L1514.8 355.4zM1513.4 368.4L1511.1 364.8L1514 364.2zM1501.8 102.3L1502.6 98.1L1505.1 99.7zM1533.4 278.3L1529.5 276.6L1531.5 274.4zM1529.5 300.5L1526 298.1L1528.5 296.4zM1527.8 311.1L1524.5 308.4L1527.1 306.9zM1526.3 321.4L1523.1 318.5L1525.8 317.2zM1523.6 341.5L1520.8 338.2L1523.7 337.2zM1521 359.1L1518.5 355.7L1521.4 354.9zM1520 368L1517.7 364.4L1520.6 363.8zM1507.3 101.8L1508.2 97.6L1510.7 99.3zM1501.5 125L1503.7 121.3L1505.6 123.7zM1540.6 277.3L1536.6 275.8L1538.5 273.6zM1534.9 310.6L1531.5 308L1534 306.4zM1533.3 321.1L1530.1 318.2L1532.7 316.8zM1531.8 331.3L1528.8 328.2L1531.5 327zM1530.3 340.9L1527.5 337.7L1530.3 336.6zM1528.8 349.7L1526.2 346.4L1529 345.5zM1527.6 358.6L1525.1 355.2L1528 354.4zM1526.7 367.6L1524.2 364.1L1527.1 363.4zM1512.9 101.3L1514 97.2L1516.4 98.9zM1511.1 109.4L1512.5 105.4L1514.8 107.3zM1505.2 130.7L1508 127.4L1509.5 130.1zM1543.7 299.4L1540 297.2L1542.3 295.3zM1541.8 310.2L1538.4 307.7L1540.9 306.1zM1540.2 320.7L1536.9 318L1539.5 316.5zM1538.7 331L1535.6 328L1538.3 326.7zM1536.9 340.1L1534 336.9L1536.7 335.8zM1534.2 358.1L1531.6 354.7L1534.5 353.9zM1518.7 101L1519.9 96.9L1522.3 98.7zM1516.9 109L1518.4 105L1520.7 107zM1514.9 116.5L1516.9 112.7L1518.9 114.9zM1552.4 287.7L1548.4 286L1550.5 283.8zM1550.5 299L1546.7 296.9L1549 295zM1548.6 309.9L1545.1 307.5L1547.5 305.7zM1546.9 320.5L1543.6 317.8L1546.2 316.2zM1545 330.1L1541.9 327.2L1544.6 325.8zM1543.3 339.3L1540.3 336.2L1543.1 335zM1541.9 348.5L1539.1 345.3L1541.9 344.2zM1540.7 357.7L1538 354.3L1540.9 353.4zM1539.7 366.8L1537.2 363.4L1540.1 362.6zM1524.7 100.7L1525.9 96.6L1528.3 98.5zM1522.8 108.6L1524.5 104.7L1526.7 106.7zM1520.9 116.1L1523 112.4L1524.9 114.7zM1519 123.1L1521.5 119.6L1523.1 122.1zM1517.2 129.4L1520.2 126.3L1521.4 129zM1515.7 135L1519.1 132.4L1520 135.3zM1565.5 235.7L1561.3 236.6L1561.7 233.7zM1564.4 249.8L1560.1 249.9L1561.1 247.1zM1562.8 263L1558.5 262.5L1559.9 259.8zM1560.9 275.5L1556.8 274.3L1558.6 271.9zM1559 287.3L1555 285.7L1557.1 283.5zM1557.1 298.7L1553.3 296.7L1555.6 294.7zM1555.3 309.6L1551.7 307.3L1554.1 305.5zM1553.2 319.7L1549.8 317L1552.4 315.5zM1551.3 329.2L1548.1 326.3L1550.7 325zM1549.6 338.6L1546.6 335.6L1549.4 334.3zM1548.2 347.9L1545.4 344.7L1548.2 343.6zM1547.1 357.2L1544.4 353.9L1547.2 352.9zM1546.1 366.5L1543.6 363L1546.4 362.2zM1531.2 100.1L1532.5 96L1534.8 97.9zM1528.9 108.5L1530.6 104.5L1532.8 106.6zM1527 115.9L1529.1 112.2L1531.1 114.5zM1525.2 122.9L1527.7 119.5L1529.3 122zM1523.4 129.2L1526.4 126.2L1527.7 128.9zM1522 134.8L1525.4 132.3L1526.2 135.2zM1521.1 139.5L1524.9 137.7L1525.2 140.7zM1521.3 143.2L1525.4 142.3L1525 145.3zM1570.5 204.6L1567.2 207.4L1566.2 204.5zM1571.9 220.6L1568.1 222.4L1567.8 219.4zM1571.8 235.6L1567.6 236.5L1568 233.6zM1570.7 249.6L1566.5 249.8L1567.4 246.9zM1569.2 262.8L1564.9 262.3L1566.3 259.6zM1567.4 275.3L1563.2 274.2L1565 271.7zM1565.5 287.1L1561.5 285.6L1563.5 283.3zM1563.6 298.5L1559.8 296.5L1562 294.5zM1561.3 308.8L1557.7 306.5L1560.1 304.7zM1557.4 328.4L1554.2 325.6L1556.9 324.2zM1555.9 338L1552.8 334.9L1555.6 333.7zM1554.6 347.4L1551.7 344.2L1554.5 343.1zM1553.4 356.8L1550.7 353.5L1553.6 352.5zM1552.5 366.1L1549.9 362.7L1552.8 361.9zM1538.1 99.1L1539.4 95.1L1541.8 96.9zM1536 107.6L1537.7 103.7L1539.8 105.8zM1533.7 115.6L1535.8 111.9L1537.8 114.2zM1531.5 122.9L1534 119.5L1535.7 122zM1529.8 129.3L1532.7 126.3L1534 129zM1528.3 135L1531.7 132.5L1532.6 135.3zM1527.4 139.8L1531.3 137.9L1531.5 140.9zM1527.6 143.7L1531.7 142.7L1531.3 145.7zM1530.2 146.9L1534.5 147.1L1533.3 149.8zM1535.5 150.3L1539.5 151.8L1537.5 154.1zM1543.8 155L1546.8 158.1L1544 159.3zM1554.1 163L1555.4 167.1L1552.4 166.9zM1564.1 174.9L1563.4 179.1L1560.8 177.6zM1571.7 189.6L1569.4 193.2L1567.6 190.8zM1576.3 205.4L1572.9 208L1572 205.2zM1578.2 221L1574.4 222.8L1574.2 219.8zM1578 235.9L1573.9 236.8L1574.3 233.8zM1577 249.8L1572.7 249.9L1573.7 247.1zM1575.4 262.9L1571.2 262.4L1572.6 259.7zM1573.6 275.2L1569.5 274.2L1571.2 271.7zM1571.3 286.7L1567.3 285.1L1569.3 282.9zM1569.1 297.5L1565.3 295.6L1567.5 293.5zM1567 307.9L1563.4 305.6L1565.8 303.8zM1563.5 327.8L1560.3 325L1562.9 323.5zM1562 337.4L1559 334.4L1561.7 333.1zM1560.8 346.9L1557.9 343.8L1560.7 342.7zM1559.7 356.4L1557 353.1L1559.8 352.1zM1558.8 365.8L1556.2 362.4L1559.1 361.5zM1545.1 98.4L1546.4 94.3L1548.7 96.2zM1543.2 106.8L1544.9 102.9L1547.1 104.9zM1541.3 114.8L1543.4 111.1L1545.3 113.3zM1539.4 122.3L1541.9 118.8L1543.6 121.3zM1537.7 129L1540.6 125.9L1541.9 128.6zM1536.4 135.1L1539.8 132.4L1540.7 135.3zM1535.9 140.3L1539.7 138.3L1540.1 141.3zM1536.6 144.9L1540.7 143.7L1540.5 146.7zM1539 149L1543.2 148.9L1542.2 151.8zM1543.5 153L1547.5 154.4L1545.6 156.7zM1550.8 158.1L1553.9 161L1551.2 162.3zM1560.3 166.1L1561.6 170.2L1558.6 170zM1569.5 178L1568.6 182.1L1566.1 180.5zM1576.1 192.3L1573.6 195.7L1571.9 193.3zM1580 207.2L1576.6 209.8L1575.8 206.9zM1581.9 222L1577.9 223.6L1577.8 220.6zM1582.2 236.3L1578 237L1578.5 234.1zM1581.5 249.8L1577.2 249.8L1578.3 247zM1580.1 262.5L1575.9 261.9L1577.3 259.3zM1576.4 285.9L1572.4 284.3L1574.5 282.1zM1574.5 296.7L1570.7 294.8L1572.9 292.8zM1571 317.3L1567.6 314.7L1570.1 313.1zM1569.5 327.2L1566.3 324.4L1568.9 323zM1568.1 336.9L1565.1 333.9L1567.8 332.7zM1567 346.5L1564.1 343.4L1566.9 342.2zM1566 356L1563.2 352.8L1566 351.8zM1565.1 365.5L1562.5 362.1L1565.3 361.2zM1563.6 97.2L1564.7 93.1L1567.2 94.9zM1562.3 105.7L1563.8 101.7L1566 103.6zM1561 113.9L1562.8 110L1564.9 112.2zM1559.8 121.8L1562 118.1L1563.8 120.4zM1558.7 129.2L1561.3 125.8L1562.9 128.3zM1558 136.3L1561 133.2L1562.3 135.9zM1557.7 142.9L1561.1 140.3L1562 143.2zM1558 149.2L1561.8 147.2L1562.2 150.2zM1559.2 155L1563.3 153.8L1563 156.8zM1561.5 160.3L1565.8 160.3L1564.7 163.1zM1566.6 164.7L1570.4 166.7L1568.1 168.7zM1577.2 171.4L1578.3 175.5L1575.3 175.2zM1586.5 184.9L1584.4 188.7L1582.5 186.4zM1590.6 199.3L1587.2 201.9L1586.4 199zM1592.6 212.9L1588.6 214.4L1588.6 211.4zM1593.5 225.9L1589.3 226.7L1589.8 223.7zM1593.7 238.5L1589.4 238.6L1590.4 235.7zM1593.2 250.7L1589 250.2L1590.4 247.5zM1592.4 262.5L1588.3 261.5L1590 259zM1591.3 273.9L1587.3 272.4L1589.2 270.2zM1590.1 284.9L1586.2 283.1L1588.4 281zM1588.8 295.6L1585.1 293.4L1587.4 291.5zM1587.5 306L1584 303.6L1586.4 301.9zM1586.2 316.2L1582.9 313.5L1585.5 311.9zM1585.1 326.1L1581.9 323.3L1584.6 321.9zM1583.1 345.6L1580.2 342.5L1583 341.4zM1582.2 355.3L1579.5 352L1582.3 351zM1581.4 364.8L1578.8 361.4L1581.7 360.6zM1582.6 96.8L1583.4 92.6L1586 94.2zM1581.7 105.5L1582.8 101.4L1585.2 103.1zM1580.8 114.1L1582.2 110L1584.5 111.9zM1580.1 122.5L1581.7 118.5L1583.9 120.6zM1579.5 130.7L1581.4 126.8L1583.4 129zM1579 138.7L1581.2 135.1L1583.1 137.4zM1578.9 146.7L1581.3 143.2L1583 145.7zM1579 154.7L1581.7 151.4L1583.2 154zM1579.5 162.8L1582.4 159.7L1583.7 162.4zM1580.4 171.5L1583.4 168.5L1584.6 171.2zM1582.2 181.9L1584.8 178.5L1586.4 181zM1595.7 196.1L1593.2 192.6L1596.1 191.8zM1603.8 200.3L1599.6 199.7L1601 197.1zM1605.3 209.5L1601 209.2L1602.3 206.5zM1606.1 220L1601.8 219.5L1603.2 216.9zM1606.5 230.9L1602.3 230.1L1603.8 227.6zM1606.5 241.9L1602.4 240.8L1604.1 238.4zM1606.3 252.8L1602.2 251.5L1604.2 249.1zM1605.8 263.7L1601.9 262L1604 259.9zM1605.1 274.4L1601.3 272.5L1603.6 270.5zM1604.3 285L1600.7 282.7L1603.1 280.9zM1603.5 295.3L1600 292.9L1602.5 291.2zM1602.6 305.5L1599.3 302.9L1601.8 301.3zM1601.7 315.6L1598.5 312.8L1601.2 311.4zM1600.9 325.5L1597.8 322.5L1600.5 321.3zM1600.1 335.3L1597.2 332.2L1599.9 331.1zM1599.3 345.1L1596.5 341.8L1599.4 340.8zM1598.6 354.7L1596 351.4L1598.8 350.5zM1598 364.3L1595.5 360.9L1598.4 360.1zM1595.8 96.8L1596.4 92.6L1599 94zM1595.2 105.7L1595.9 101.5L1598.5 103zM1594.6 114.5L1595.5 110.3L1598 112zM1594.1 123.2L1595.2 119.1L1597.6 120.9zM1593.7 131.8L1595 127.8L1597.4 129.7zM1593.5 140.4L1595 136.4L1597.3 138.4zM1593.5 149.1L1595.2 145.1L1597.4 147.2zM1593.9 157.9L1595.6 154L1597.8 156.1zM1594.8 167.1L1596.4 163.2L1598.6 165.2zM1596.5 177L1597.6 172.9L1600 174.6zM1599.8 187.6L1599.9 183.3L1602.6 184.4zM1605.4 197.8L1603.6 193.9L1606.6 193.7zM1610.5 206.2L1607.4 203.3L1610 202zM1613.3 214.8L1609.6 212.5L1612 210.7zM1614.7 224L1610.9 222.1L1613.1 220.1zM1615.4 233.9L1611.6 232.1L1613.7 230zM1615.7 244.1L1611.9 242.2L1614.1 240.1zM1615.7 254.4L1611.9 252.4L1614.2 250.4zM1615.4 264.7L1611.8 262.5L1614.1 260.7zM1615 275.1L1611.5 272.7L1613.9 270.9zM1614.5 285.3L1611.1 282.8L1613.6 281.1zM1613.9 295.4L1610.6 292.8L1613.2 291.2zM1613.2 305.5L1610 302.7L1612.7 301.3zM1612.6 315.5L1609.5 312.5L1612.2 311.2zM1611.9 325.3L1609 322.2L1611.7 321zM1611.3 335.1L1608.4 331.9L1611.2 330.8zM1610.7 344.8L1607.9 341.5L1610.8 340.5zM1610.1 354.5L1607.5 351.1L1610.4 350.2zM1609.6 364.1L1607.1 360.6L1610 359.8zM1612.8 96.9L1613 92.7L1615.8 93.9zM1612.4 106L1612.7 101.7L1615.4 103zM1612 115L1612.5 110.8L1615.2 112.1zM1611.8 124L1612.4 119.8L1615 121.2zM1611.7 133L1612.4 128.8L1615 130.3zM1611.8 142.1L1612.5 137.9L1615.1 139.4zM1612.1 151.2L1612.8 147L1615.4 148.5zM1612.7 160.5L1613.3 156.3L1615.9 157.7zM1613.8 170L1614.1 165.7L1616.8 166.9zM1615.4 179.6L1615.3 175.4L1618.1 176.3zM1617.7 189.4L1616.8 185.2L1619.8 185.7zM1620.3 199L1618.7 195L1621.7 194.9zM1622.9 208.3L1620.6 204.7L1623.6 204.1zM1625 217.5L1622.2 214.3L1625.1 213.2zM1626.5 226.8L1623.4 223.9L1626.1 222.6zM1627.5 236.4L1624.2 233.6L1626.9 232.1zM1628 246.1L1624.7 243.4L1627.3 241.9zM1628.3 255.9L1625 253.2L1627.6 251.7zM1628.3 265.9L1625 263.1L1627.6 261.6zM1628.2 275.8L1624.9 273L1627.6 271.6zM1627.9 285.8L1624.8 282.9L1627.4 281.5zM1627.5 295.7L1624.5 292.7L1627.2 291.4zM1627.1 305.6L1624.2 302.5L1626.9 301.3zM1626.7 315.4L1623.8 312.2L1626.6 311.1zM1626.2 325.2L1623.4 321.9L1626.3 320.9zM1625.8 334.9L1623.1 331.6L1625.9 330.6zM1625.3 344.6L1622.7 341.2L1625.6 340.3zM1624.9 354.2L1622.4 350.8L1625.3 350zM1624.5 363.8L1622 360.3L1624.9 359.6z" fill="#1a1ac0" fill-opacity="0.95"/>
<path d="M1347.4 276.7l-15.7 18.9M1346.2 333.1l-7.7 22.2M1365.4 314l-10.8 23.2M1372 304.5l-12.8 23.7M1372.1 126.7l28.9 8.2M1371.9 137l29.9 2.5M1380.9 231.6l-29.7 4M1379.7 267.1l-22.2 20.2M1379.4 276.2l-20 22.4M1378.1 313.8l-11.1 24.6M1377.8 323.3l-9.5 24.4M1379 106.4l24.7 17M1378.7 116.4l26.9 13.3M1386.7 249l-26.4 14.3M1386.3 258l-24.2 17.8M1383.9 332.7l-8 24.8M1385.7 96.4l21.9 20.5M1385.4 106.3l24.3 17.7M1392.9 248.9l-26 15M1392.6 257.9l-23.7 18.4M1391.2 294.6l-15 26M1392.5 86.5l18.9 23.3M1392.1 96.3l21.2 21.2M1398.7 257.7l-23 19.3M1398.1 276l-18.4 23.7M1399.2 76.7l15.9 25.4M1398.9 86.4l18 24M1398.6 96.1l20.2 22.2M1398.2 106l22.6 19.7M1404.9 257.6l-22 20.4M1404.5 266.7l-19.7 22.7M1405.7 76.6l14.8 26.1M1405.4 86.3l16.8 24.8M1410.3 275.8l-16.3 25.2M1409.8 294.5l-12.6 27.2M1412.2 76.5l13.5 26.8M1411.6 95.8l17.5 24.3M1416.4 275.7l-14.9 26M1416.2 285l-13.1 27M1418.4 86l13.8 26.6M1422.3 284.9l-11.7 27.6M1422 294.3l-10.2 28.2M1421.8 303.7l-8.9 28.7M1425.2 76.3l10.5 28.1M1428.3 284.8l-10.1 28.2M1428.1 294.2l-8.8 28.7M1431.6 85.7l10 28.3M1434.5 275.3l-9.6 28.4M1434.4 284.7l-8.4 28.8M1433.6 341.8l-3.3 27.9M1438.4 76.1l6.7 29.2M1438.2 85.6l7.8 29M1440.5 275.2l-7.5 29M1440.2 294.1l-5.6 29.5M1445 76.1l4.7 29.6M1446.5 275.1l-5.2 29.5M1446.4 284.6l-4.5 29.7M1446.3 294.1l-3.9 29.7M1452.4 275.1l-2.8 29.9M1452.4 284.6l-2.4 29.9M1452.3 303.5l-1.8 29.9M1458.4 275.1l-0.4 30M1458.4 284.6l-0.3 30M1458.3 303.5l-0.3 30M1458.3 332l-0.2 30M1464.9 76l-1.8 29.9M1464.4 303.5l1.3 30M1471.5 76l-4 29.7M1470.2 275.1l4.5 29.7M1470.4 294.1l3.3 29.8M1470.5 303.5l2.9 29.9M1478.3 85.6l-7 29.2M1476.2 275.2l6.8 29.2M1476.3 284.6l5.9 29.4M1476.4 294.1l5.1 29.6M1476.5 303.6l4.4 29.7M1476.8 332l2.8 29.6M1482.2 275.3l9 28.6M1482.3 284.7l7.8 29M1482.5 294.2l6.7 29.2M1491.5 85.8l-11.4 27.8M1488.2 275.4l11 27.9M1488.6 294.2l8.3 28.8M1488.7 303.7l7.2 29.1M1489.1 332.1l4.6 28.9M1494.2 275.5l12.8 27.1M1494.4 284.9l11.2 27.8M1504.4 76.5l-13.1 27M1504.6 86.1l-15 26M1505 95.8l-17 24.7M1499.9 266.3l16.5 25.1M1500.2 275.6l14.5 26.3M1500.5 285l12.7 27.2M1500.7 294.4l11.1 27.9M1510.9 76.6l-14.4 26.3M1511.2 86.2l-16.4 25.1M1511.5 95.9l-18.6 23.6M1506 266.5l18 24M1506.6 285.1l14 26.6M1517.6 86.3l-17.6 24.3M1518 96.1l-19.9 22.5M1512.1 266.7l19.3 23M1513.3 303.9l11.6 27.7M1513.7 322.9l8.5 27.5M1524.1 86.5l-18.6 23.5M1524.4 96.2l-20.9 21.5M1518.2 266.8l20.3 22.1M1518.6 276l18.1 23.9M1530.9 96.4l-21.7 20.7M1531.2 106.3l-24.1 17.9M1523.7 248.8l25.8 15.4M1524.1 257.8l23.5 18.7M1524.4 266.9l21.1 21.3M1526.2 323.1l9.2 26M1526.6 342.2l6.6 25M1537.6 106.4l-24.6 17.2M1537.9 116.4l-26.8 13.5M1538.2 126.6l-28.6 8.9M1529.7 240.1l28.2 10.2M1530 249l26.3 14.5M1530.3 257.9l24 17.9M1544.7 137l-29.9 2.6M1544.3 295l15 23.8M1550.6 295.1l14.5 22.8M1555.7 258.2l22.6 16.3M1556.7 285.9l16 21.3M1574.2 314.2l9.8 21.7" fill="none" stroke="#50d4f4" stroke-opacity="0.6" stroke-width="0.85"/><path d="M1331.6 295.7L1333 291.6L1335.3 293.6zM1338.4 355.4L1338.3 351.1L1341.2 352.1zM1354.6 337.2L1354.9 333L1357.7 334.2zM1359.3 328.2L1359.8 324L1362.5 325.4zM1400.9 134.9L1396.7 135.2L1397.5 132.3zM1401.8 139.5L1397.7 140.7L1398 137.7zM1351.1 235.6L1354.9 233.6L1355.3 236.6zM1357.5 287.2L1359.5 283.4L1361.5 285.7zM1359.4 298.6L1361 294.6L1363.2 296.6zM1367 338.4L1367.3 334.1L1370 335.4zM1368.3 347.7L1368.4 343.5L1371.2 344.6zM1403.7 123.4L1399.6 122.3L1401.3 119.9zM1405.6 129.7L1401.3 129.3L1402.6 126.6zM1360.3 263.3L1363.1 260.1L1364.5 262.7zM1362.1 275.7L1364.5 272.1L1366.3 274.6zM1375.9 357.5L1375.7 353.2L1378.5 354.2zM1407.6 116.9L1403.7 115.2L1405.7 113zM1409.6 123.9L1405.5 122.8L1407.3 120.4zM1366.9 263.9L1369.6 260.6L1371.2 263.2zM1368.9 276.3L1371.1 272.6L1372.9 275zM1376.3 320.6L1377 316.4L1379.6 317.9zM1411.4 109.8L1407.7 107.6L1410 105.7zM1413.3 117.5L1409.4 115.7L1411.6 113.6zM1375.8 277L1377.9 273.3L1379.8 275.6zM1379.7 299.7L1380.9 295.7L1383.3 297.5zM1415.1 102.1L1411.7 99.5L1414.3 97.9zM1416.9 110.4L1413.3 108.1L1415.7 106.3zM1418.8 118.3L1415 116.3L1417.2 114.3zM1420.8 125.7L1416.8 124.2L1418.8 121.9zM1382.9 278L1384.8 274.1L1386.9 276.3zM1384.9 289.4L1386.4 285.4L1388.6 287.3zM1420.5 102.7L1417.2 99.9L1419.8 98.5zM1422.2 111.1L1418.7 108.6L1421.2 106.9zM1394 301L1395 296.8L1397.5 298.4zM1397.2 321.7L1397.5 317.4L1400.3 318.7zM1425.7 103.3L1422.6 100.4L1425.2 99zM1429.1 120.1L1425.6 117.8L1428 116zM1401.5 301.7L1402.2 297.5L1404.8 299zM1403.1 312L1403.5 307.7L1406.2 309.1zM1432.3 112.6L1429.1 109.8L1431.7 108.4zM1410.6 312.5L1410.7 308.3L1413.5 309.4zM1411.8 322.5L1411.8 318.3L1414.6 319.3zM1413 332.4L1412.7 328.1L1415.6 329zM1435.7 104.4L1432.9 101.2L1435.7 100.1zM1418.2 313.1L1418.2 308.8L1421 309.8zM1419.3 322.9L1419.1 318.7L1421.9 319.5zM1441.6 114L1438.8 110.8L1441.7 109.8zM1424.9 303.7L1424.8 299.5L1427.6 300.4zM1426 313.6L1425.7 309.3L1428.6 310.1zM1430.3 369.6L1429.3 365.5L1432.3 365.8zM1445.1 105.4L1442.8 101.8L1445.7 101.1zM1446 114.6L1443.5 111.1L1446.4 110.4zM1433 304.3L1432.6 300L1435.5 300.8zM1434.6 323.6L1433.9 319.4L1436.9 319.9zM1449.7 105.7L1447.6 102L1450.5 101.5zM1441.3 304.7L1440.5 300.5L1443.4 301zM1441.9 314.3L1441 310.1L1444 310.5zM1442.4 323.8L1441.4 319.7L1444.4 320.1zM1449.6 305L1448.5 300.8L1451.5 301.1zM1449.9 314.5L1448.8 310.4L1451.7 310.6zM1450.5 333.5L1449.2 329.4L1452.2 329.6zM1458 305.1L1456.5 301.1L1459.5 301.1zM1458 314.6L1456.6 310.5L1459.6 310.6zM1458.1 333.5L1456.6 329.5L1459.6 329.5zM1458.2 362L1456.7 358L1459.7 358zM1463 106L1461.8 101.9L1464.8 102.1zM1465.7 333.5L1464 329.6L1467 329.4zM1467.5 105.8L1466.5 101.6L1469.5 102zM1474.7 304.8L1472.6 301.1L1475.6 300.6zM1473.7 323.9L1471.8 320.1L1474.8 319.7zM1473.3 333.4L1471.5 329.6L1474.5 329.3zM1471.2 114.8L1470.7 110.5L1473.6 111.2zM1483 304.4L1480.6 300.9L1483.5 300.2zM1482.2 314.1L1479.9 310.4L1482.9 309.9zM1481.5 323.7L1479.4 320L1482.3 319.5zM1480.9 333.2L1478.9 329.5L1481.8 329.1zM1479.6 361.7L1477.7 357.8L1480.7 357.5zM1491.1 303.9L1488.5 300.5L1491.4 299.6zM1490.1 313.7L1487.6 310.2L1490.5 309.4zM1489.2 323.4L1486.9 319.8L1489.8 319.2zM1480.1 113.6L1480.3 109.3L1483 110.4zM1499.1 303.3L1496.3 300.1L1499.1 299zM1496.9 323L1494.3 319.6L1497.2 318.8zM1495.9 332.8L1493.5 329.3L1496.4 328.5zM1493.7 361L1491.6 357.3L1494.5 356.8zM1507 302.6L1503.9 299.7L1506.7 298.4zM1505.6 312.7L1502.7 309.6L1505.5 308.4zM1491.3 103.4L1491.7 99.2L1494.4 100.5zM1489.7 112.1L1490.4 107.9L1493 109.4zM1487.9 120.5L1489 116.3L1491.4 118zM1516.4 291.4L1513 288.9L1515.5 287.2zM1514.7 301.9L1511.5 299.1L1514.1 297.7zM1513.2 312.2L1510.1 309.2L1512.8 307.9zM1511.8 322.2L1508.9 319.1L1511.7 318zM1496.4 102.9L1497 98.6L1499.7 100.1zM1494.8 111.3L1495.7 107.2L1498.2 108.8zM1492.9 119.5L1494.2 115.4L1496.6 117.3zM1524 290.5L1520.4 288.2L1522.8 286.4zM1520.6 311.6L1517.4 308.8L1520 307.4zM1500 110.6L1501.1 106.5L1503.6 108.3zM1498.1 118.6L1499.6 114.6L1501.9 116.6zM1531.4 289.6L1527.7 287.5L1530 285.6zM1524.8 331.5L1521.9 328.4L1524.7 327.3zM1522.2 350.4L1519.6 347L1522.5 346.1zM1505.5 110L1506.8 105.9L1509.1 107.8zM1503.5 117.7L1505.2 113.8L1507.4 115.9zM1538.6 288.8L1534.8 286.9L1537 284.9zM1536.7 299.9L1533.1 297.6L1535.5 295.8zM1509.1 117L1511 113.2L1513.1 115.4zM1507.2 124.2L1509.5 120.6L1511.3 123zM1549.5 264.2L1545.3 263.4L1546.8 260.9zM1547.6 276.5L1543.5 275.2L1545.4 272.8zM1545.6 288.2L1541.7 286.4L1543.8 284.3zM1535.4 349.1L1532.7 345.8L1535.5 344.8zM1533.2 367.2L1530.7 363.7L1533.6 363zM1513 123.5L1515.4 120L1517.1 122.5zM1511.1 129.9L1514 126.8L1515.4 129.4zM1509.6 135.5L1512.9 132.9L1513.8 135.7zM1557.9 250.3L1553.6 250.3L1554.6 247.5zM1556.2 263.5L1552 262.8L1553.5 260.2zM1554.3 275.9L1550.2 274.7L1552 272.3zM1514.8 139.6L1518.7 137.8L1518.9 140.7zM1559.2 318.7L1555.8 316.1L1558.3 314.5zM1565.1 317.9L1561.7 315.4L1564.3 313.8zM1578.3 274.5L1574.2 273.4L1576 270.9zM1572.7 307.2L1569.1 304.9L1571.5 303.1zM1584 335.9L1581 332.9L1583.7 331.7z" fill="#38c4f4" fill-opacity="0.9"/>
</g>
<ellipse cx="383" cy="205" rx="91.8" ry="96" fill="none" stroke="#2f607c" stroke-width="1.25"/>
<ellipse cx="1459.3" cy="183.6" rx="93" ry="96.2" fill="none" stroke="#2f607c" stroke-width="1.3"/>
<rect x="306" y="139.3" width="20.6" height="9.8" fill="#ff0000"/>
<rect x="433.8" y="251.5" width="20.8" height="9.8" fill="#ff0000"/>
<rect x="426.3" y="143" width="33.7" height="10.4" fill="#ff0000"/><rect x="438.3" y="129.6" width="10.2" height="33.8" fill="#ff0000"/>
<rect x="303.2" y="247.2" width="33.2" height="10.4" fill="#ff0000"/><rect x="314.6" y="236" width="10.4" height="33" fill="#ff0000"/>
<rect x="1442.8" y="96" width="30" height="15" fill="#ff0000"/>
<rect x="1451.2" y="285.2" width="35" height="12" fill="#ff0000"/><rect x="1462.8" y="273.8" width="12" height="33.6" fill="#ff0000"/>
<rect x="181.4" y="52.6" width="5.4" height="663.2" fill="#000000"/>
<rect x="181.4" y="709.8" width="661.9" height="6.0" fill="#000000"/>
<rect x="176" y="100.8" width="8" height="6.0" rx="2" fill="#000000"/>
<rect x="176" y="212.6" width="8" height="6.0" rx="2" fill="#000000"/>
<rect x="176" y="324.4" width="8" height="6.0" rx="2" fill="#000000"/>
<rect x="176" y="436.2" width="8" height="6.0" rx="2" fill="#000000"/>
<rect x="176" y="548.0" width="8" height="6.0" rx="2" fill="#000000"/>
<rect x="176" y="659.8" width="8" height="6.0" rx="2" fill="#000000"/>
<rect x="279.2" y="705.5" width="6.4" height="15.3" rx="2" fill="#000000"/>
<rect x="394.8" y="705.5" width="6.4" height="15.3" rx="2" fill="#000000"/>
<rect x="510.5" y="705.5" width="6.4" height="15.3" rx="2" fill="#000000"/>
<rect x="626.1" y="705.5" width="6.4" height="15.3" rx="2" fill="#000000"/>
<rect x="741.8" y="705.5" width="6.4" height="15.3" rx="2" fill="#000000"/>
<rect x="1262" y="49" width="5.4" height="662.6" fill="#000000"/>
<rect x="1262" y="705.6" width="662.6" height="6.0" fill="#000000"/>
<rect x="1256" y="93.2" width="8" height="6.2" rx="2" fill="#000000"/>
<rect x="1256" y="205.7" width="8" height="6.2" rx="2" fill="#000000"/>
<rect x="1256" y="318.1" width="8" height="6.2" rx="2" fill="#000000"/>
<rect x="1256" y="430.6" width="8" height="6.2" rx="2" fill="#000000"/>
<rect x="1256" y="543.0" width="8" height="6.2" rx="2" fill="#000000"/>
<rect x="1256" y="655.4" width="8" height="6.2" rx="2" fill="#000000"/>
<rect x="1360.5" y="701" width="6.4" height="15.3" rx="2" fill="#000000"/>
<rect x="1476.1" y="701" width="6.4" height="15.3" rx="2" fill="#000000"/>
<rect x="1591.7" y="701" width="6.4" height="15.3" rx="2" fill="#000000"/>
<rect x="1707.4" y="701" width="6.4" height="15.3" rx="2" fill="#000000"/>
<rect x="1823.0" y="701" width="6.4" height="15.3" rx="2" fill="#000000"/>
<rect x="870.4" y="58.6" width="65" height="659.2" fill="url(#jet)"/>
<rect x="1942.4" y="44.6" width="65.2" height="663.4" fill="url(#jet)"/>
<text x="161.2" y="119.8" font-size="39.5" font-family="'Liberation Sans', sans-serif" text-anchor="end" fill="#262626" letter-spacing="-1">500</text>
<text x="161.2" y="231.6" font-size="39.5" font-family="'Liberation Sans', sans-serif" text-anchor="end" fill="#262626" letter-spacing="-1">400</text>
<text x="161.2" y="343.4" font-size="39.5" font-family="'Liberation Sans', sans-serif" text-anchor="end" fill="#262626" letter-spacing="-1">300</text>
<text x="161.2" y="455.2" font-size="39.5" font-family="'Liberation Sans', sans-serif" text-anchor="end" fill="#262626" letter-spacing="-1">200</text>
<text x="161.2" y="567.0" font-size="39.5" font-family="'Liberation Sans', sans-serif" text-anchor="end" fill="#262626" letter-spacing="-1">100</text>
<text x="161.2" y="678.8" font-size="39.5" font-family="'Liberation Sans', sans-serif" text-anchor="end" fill="#262626" letter-spacing="-1">0</text>
<text x="1242.6" y="112.6" font-size="39.5" font-family="'Liberation Sans', sans-serif" text-anchor="end" fill="#262626" letter-spacing="-1">500</text>
<text x="1242.6" y="225.1" font-size="39.5" font-family="'Liberation Sans', sans-serif" text-anchor="end" fill="#262626" letter-spacing="-1">400</text>
<text x="1242.6" y="337.5" font-size="39.5" font-family="'Liberation Sans', sans-serif" text-anchor="end" fill="#262626" letter-spacing="-1">300</text>
<text x="1242.6" y="450.0" font-size="39.5" font-family="'Liberation Sans', sans-serif" text-anchor="end" fill="#262626" letter-spacing="-1">200</text>
<text x="1242.6" y="562.4" font-size="39.5" font-family="'Liberation Sans', sans-serif" text-anchor="end" fill="#262626" letter-spacing="-1">100</text>
<text x="1242.6" y="674.8" font-size="39.5" font-family="'Liberation Sans', sans-serif" text-anchor="end" fill="#262626" letter-spacing="-1">0</text>
<text x="272.3" y="759.3" font-size="39" font-family="'Liberation Sans', sans-serif" text-anchor="middle" fill="#262626" >-200</text>
<text x="387.6" y="759.3" font-size="39" font-family="'Liberation Sans', sans-serif" text-anchor="middle" fill="#262626" >-100</text>
<text x="501.7" y="759.3" font-size="39" font-family="'Liberation Sans', sans-serif" text-anchor="middle" fill="#262626" >0</text>
<text x="621.5" y="759.3" font-size="39" font-family="'Liberation Sans', sans-serif" text-anchor="middle" fill="#262626" >100</text>
<text x="733.9" y="759.3" font-size="39" font-family="'Liberation Sans', sans-serif" text-anchor="middle" fill="#262626" >200</text>
<text x="1353.7" y="755.2" font-size="39" font-family="'Liberation Sans', sans-serif" text-anchor="middle" fill="#262626" >-200</text>
<text x="1468.8" y="755.2" font-size="39" font-family="'Liberation Sans', sans-serif" text-anchor="middle" fill="#262626" >-100</text>
<text x="1583.0" y="755.2" font-size="39" font-family="'Liberation Sans', sans-serif" text-anchor="middle" fill="#262626" >0</text>
<text x="1703.0" y="755.2" font-size="39" font-family="'Liberation Sans', sans-serif" text-anchor="middle" fill="#262626" >100</text>
<text x="1815.2" y="755.2" font-size="39" font-family="'Liberation Sans', sans-serif" text-anchor="middle" fill="#262626" >200</text>
<text x="973.6" y="68.3" font-size="52" font-family="'DejaVu Sans', 'Liberation Sans', sans-serif" text-anchor="start" fill="#262626" textLength="113.7" lengthAdjust="spacingAndGlyphs" stroke="#ffffff" stroke-width="1.1">21.4</text>
<text x="977.0" y="179.4" font-size="52" font-family="'DejaVu Sans', 'Liberation Sans', sans-serif" text-anchor="start" fill="#262626" textLength="107.3" lengthAdjust="spacingAndGlyphs" stroke="#ffffff" stroke-width="1.1">17.8</text>
<text x="976.8" y="288" font-size="52" font-family="'DejaVu Sans', 'Liberation Sans', sans-serif" text-anchor="start" fill="#262626" textLength="108.4" lengthAdjust="spacingAndGlyphs" stroke="#ffffff" stroke-width="1.1">14.3</text>
<text x="976.8" y="399.7" font-size="52" font-family="'DejaVu Sans', 'Liberation Sans', sans-serif" text-anchor="start" fill="#262626" textLength="107.3" lengthAdjust="spacingAndGlyphs" stroke="#ffffff" stroke-width="1.1">10.7</text>
<text x="975.7" y="511.9" font-size="52" font-family="'DejaVu Sans', 'Liberation Sans', sans-serif" text-anchor="start" fill="#262626" textLength="111.0" lengthAdjust="spacingAndGlyphs" stroke="#ffffff" stroke-width="1.1">7.14</text>
<text x="973.9" y="620.8" font-size="52" font-family="'DejaVu Sans', 'Liberation Sans', sans-serif" text-anchor="start" fill="#262626" textLength="111.0" lengthAdjust="spacingAndGlyphs" stroke="#ffffff" stroke-width="1.1">3.58</text>
<text x="943.0" y="732.3" font-size="52" font-family="'DejaVu Sans', 'Liberation Sans', sans-serif" text-anchor="start" fill="#262626" textLength="205.4" lengthAdjust="spacingAndGlyphs" stroke="#ffffff" stroke-width="1.1">0.00844</text>
<text x="2045.7" y="54.5" font-size="52" font-family="'DejaVu Sans', 'Liberation Sans', sans-serif" text-anchor="start" fill="#262626" textLength="111.1" lengthAdjust="spacingAndGlyphs" stroke="#ffffff" stroke-width="1.1">43.8</text>
<text x="2045.7" y="166.2" font-size="52" font-family="'DejaVu Sans', 'Liberation Sans', sans-serif" text-anchor="start" fill="#262626" textLength="110.7" lengthAdjust="spacingAndGlyphs" stroke="#ffffff" stroke-width="1.1">36.5</text>
<text x="2045.8" y="277.9" font-size="52" font-family="'DejaVu Sans', 'Liberation Sans', sans-serif" text-anchor="start" fill="#262626" textLength="107.6" lengthAdjust="spacingAndGlyphs" stroke="#ffffff" stroke-width="1.1">29.2</text>
<text x="2045.7" y="386.8" font-size="52" font-family="'DejaVu Sans', 'Liberation Sans', sans-serif" text-anchor="start" fill="#262626" textLength="110.3" lengthAdjust="spacingAndGlyphs" stroke="#ffffff" stroke-width="1.1">21.9</text>
<text x="2048.8" y="497.5" font-size="52" font-family="'DejaVu Sans', 'Liberation Sans', sans-serif" text-anchor="start" fill="#262626" textLength="107.1" lengthAdjust="spacingAndGlyphs" stroke="#ffffff" stroke-width="1.1">14.6</text>
<text x="2061.7" y="609.2" font-size="52" font-family="'DejaVu Sans', 'Liberation Sans', sans-serif" text-anchor="start" fill="#262626" textLength="80.4" lengthAdjust="spacingAndGlyphs" stroke="#ffffff" stroke-width="1.1">7.3</text>
<text x="2015.4" y="720.9" font-size="52" font-family="'DejaVu Sans', 'Liberation Sans', sans-serif" text-anchor="start" fill="#262626" textLength="203.5" lengthAdjust="spacingAndGlyphs" stroke="#ffffff" stroke-width="1.1">0.00926</text>
<text x="352.5" y="856.5" font-size="49.5" font-family="'DejaVu Sans', 'Liberation Sans', sans-serif" text-anchor="start" fill="#262626" textLength="313" lengthAdjust="spacingAndGlyphs" stroke="#ffffff" stroke-width="1.1">x(m) (x10^-9)</text>
<text x="1433.2" y="852.6" font-size="49.5" font-family="'DejaVu Sans', 'Liberation Sans', sans-serif" text-anchor="start" fill="#262626" textLength="313.5" lengthAdjust="spacingAndGlyphs" stroke="#ffffff" stroke-width="1.1">x(m) (x10^-9)</text>
<text transform="translate(52,541.8) rotate(-90)" font-size="49.5" font-family="'DejaVu Sans', 'Liberation Sans', sans-serif" fill="#262626" textLength="311" lengthAdjust="spacingAndGlyphs" stroke="#ffffff" stroke-width="1.1">z(m) (x10^-9)</text>
<text font-family="'Liberation Serif', serif" fill="#111"><tspan font-size="62" x="236.5" y="847.6">(</tspan><tspan font-size="58" x="257.3" y="849.6">A</tspan><tspan font-size="62" x="303" y="847.6">)</tspan></text>
<text font-family="'Liberation Serif', serif" fill="#111"><tspan font-size="60" x="1308" y="848.4">(</tspan><tspan font-size="56" x="1329.4" y="849">B</tspan><tspan font-size="60" x="1370.2" y="848.4">)</tspan></text></svg>
</body></html>
